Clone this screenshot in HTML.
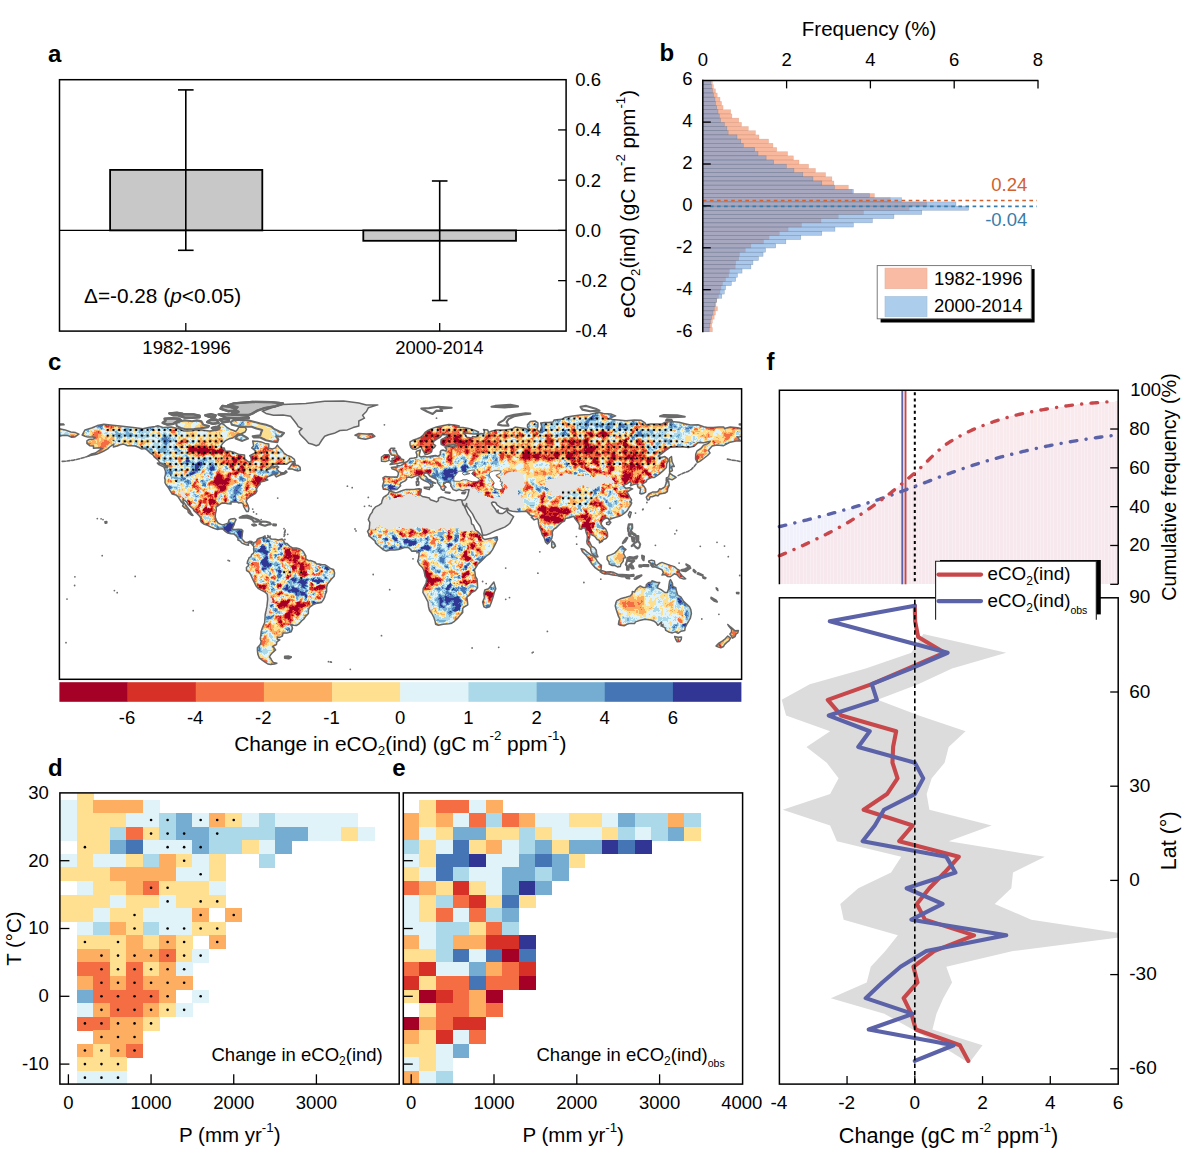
<!DOCTYPE html>
<html><head><meta charset="utf-8"><title>figure</title>
<style>
html,body{margin:0;padding:0;background:#fff;}
svg{display:block;}
text{font-family:"Liberation Sans",sans-serif;}
</style></head><body>
<svg width="1185" height="1153" viewBox="0 0 1185 1153">
<rect x="0" y="0" width="1185" height="1153" fill="#fff"/>
<g id="panel-a">
<text x="48" y="61.5" font-size="24" font-weight="bold">a</text>
<rect x="110.1" y="169.9" width="152.2" height="60.5" fill="#c8c8c8" stroke="#000" stroke-width="1.8"/>
<rect x="363.3" y="230.4" width="152.7" height="10.4" fill="#c8c8c8" stroke="#000" stroke-width="1.8"/>
<line x1="59.5" y1="230.4" x2="566.1" y2="230.4" stroke="#000" stroke-width="1.2"/>
<line x1="185.8" y1="89.9" x2="185.8" y2="250.3" stroke="#000" stroke-width="1.6"/>
<line x1="178" y1="89.9" x2="193.6" y2="89.9" stroke="#000" stroke-width="1.6"/>
<line x1="178" y1="250.3" x2="193.6" y2="250.3" stroke="#000" stroke-width="1.6"/>
<line x1="439.7" y1="181" x2="439.7" y2="300.5" stroke="#000" stroke-width="1.6"/>
<line x1="431.9" y1="181" x2="447.5" y2="181" stroke="#000" stroke-width="1.6"/>
<line x1="431.9" y1="300.5" x2="447.5" y2="300.5" stroke="#000" stroke-width="1.6"/>
<rect x="59.5" y="79.7" width="506.6" height="251.4" fill="none" stroke="#000" stroke-width="1.5"/>
<line x1="185.8" y1="331.1" x2="185.8" y2="323.1" stroke="#000" stroke-width="1.3"/>
<line x1="439.7" y1="331.1" x2="439.7" y2="323.1" stroke="#000" stroke-width="1.3"/>
<text x="575.3" y="86.18" font-size="18.5">0.6</text>
<line x1="566.1" y1="129.92" x2="558.1" y2="129.92" stroke="#000" stroke-width="1.3"/>
<text x="575.3" y="136.42" font-size="18.5">0.4</text>
<line x1="566.1" y1="180.16" x2="558.1" y2="180.16" stroke="#000" stroke-width="1.3"/>
<text x="575.3" y="186.66" font-size="18.5">0.2</text>
<line x1="566.1" y1="230.4" x2="558.1" y2="230.4" stroke="#000" stroke-width="1.3"/>
<text x="575.3" y="236.9" font-size="18.5">0.0</text>
<line x1="566.1" y1="280.64" x2="558.1" y2="280.64" stroke="#000" stroke-width="1.3"/>
<text x="575.3" y="287.14" font-size="18.5">-0.2</text>
<text x="575.3" y="337.38" font-size="18.5">-0.4</text>
<text x="186.6" y="353.8" font-size="18.5" text-anchor="middle">1982-1996</text>
<text x="439.4" y="354.1" font-size="18.5" text-anchor="middle">2000-2014</text>
<text x="84" y="302.8" font-size="20.8">Δ=-0.28 (<tspan font-style="italic">p</tspan>&lt;0.05)</text>
<text x="635.4" y="204" font-size="20.5" text-anchor="middle" transform="rotate(-90 635.4 204)">eCO<tspan font-size="13.3" dy="4.5">2</tspan><tspan dy="-4.5">​</tspan>(ind) (gC m<tspan font-size="13.3" dy="-10.5">-2</tspan><tspan dy="10.5">​</tspan> ppm<tspan font-size="13.3" dy="-10.5">-1</tspan><tspan dy="10.5">​</tspan>)</text>
</g>
<g id="panel-b">
<text x="659.6" y="61" font-size="24" font-weight="bold">b</text>
<g stroke-width="0.5">
<rect x="702.8" y="80.4" width="9.62" height="4.19" fill="#f27e4f" stroke="#b06a50" stroke-width="0.5" fill-opacity="0.55" stroke-opacity="0.3"/>
<rect x="702.8" y="84.59" width="10.63" height="4.19" fill="#f27e4f" stroke="#b06a50" stroke-width="0.5" fill-opacity="0.55" stroke-opacity="0.3"/>
<rect x="702.8" y="88.78" width="12.66" height="4.19" fill="#f27e4f" stroke="#b06a50" stroke-width="0.5" fill-opacity="0.55" stroke-opacity="0.3"/>
<rect x="702.8" y="92.97" width="14.43" height="4.19" fill="#f27e4f" stroke="#b06a50" stroke-width="0.5" fill-opacity="0.55" stroke-opacity="0.3"/>
<rect x="702.8" y="97.16" width="17.22" height="4.19" fill="#f27e4f" stroke="#b06a50" stroke-width="0.5" fill-opacity="0.55" stroke-opacity="0.3"/>
<rect x="702.8" y="101.35" width="18.73" height="4.19" fill="#f27e4f" stroke="#b06a50" stroke-width="0.5" fill-opacity="0.55" stroke-opacity="0.3"/>
<rect x="702.8" y="105.54" width="20.25" height="4.19" fill="#f27e4f" stroke="#b06a50" stroke-width="0.5" fill-opacity="0.55" stroke-opacity="0.3"/>
<rect x="702.8" y="109.73" width="27.85" height="4.19" fill="#f27e4f" stroke="#b06a50" stroke-width="0.5" fill-opacity="0.55" stroke-opacity="0.3"/>
<rect x="702.8" y="113.92" width="29.11" height="4.19" fill="#f27e4f" stroke="#b06a50" stroke-width="0.5" fill-opacity="0.55" stroke-opacity="0.3"/>
<rect x="702.8" y="118.11" width="35.95" height="4.19" fill="#f27e4f" stroke="#b06a50" stroke-width="0.5" fill-opacity="0.55" stroke-opacity="0.3"/>
<rect x="702.8" y="122.3" width="38.73" height="4.19" fill="#f27e4f" stroke="#b06a50" stroke-width="0.5" fill-opacity="0.55" stroke-opacity="0.3"/>
<rect x="702.8" y="126.49" width="45.57" height="4.19" fill="#f27e4f" stroke="#b06a50" stroke-width="0.5" fill-opacity="0.55" stroke-opacity="0.3"/>
<rect x="702.8" y="130.68" width="52.66" height="4.19" fill="#f27e4f" stroke="#b06a50" stroke-width="0.5" fill-opacity="0.55" stroke-opacity="0.3"/>
<rect x="702.8" y="134.87" width="56.2" height="4.19" fill="#f27e4f" stroke="#b06a50" stroke-width="0.5" fill-opacity="0.55" stroke-opacity="0.3"/>
<rect x="702.8" y="139.06" width="65.82" height="4.19" fill="#f27e4f" stroke="#b06a50" stroke-width="0.5" fill-opacity="0.55" stroke-opacity="0.3"/>
<rect x="702.8" y="143.25" width="70.13" height="4.19" fill="#f27e4f" stroke="#b06a50" stroke-width="0.5" fill-opacity="0.55" stroke-opacity="0.3"/>
<rect x="702.8" y="147.44" width="73.92" height="4.19" fill="#f27e4f" stroke="#b06a50" stroke-width="0.5" fill-opacity="0.55" stroke-opacity="0.3"/>
<rect x="702.8" y="151.63" width="84.81" height="4.19" fill="#f27e4f" stroke="#b06a50" stroke-width="0.5" fill-opacity="0.55" stroke-opacity="0.3"/>
<rect x="702.8" y="155.82" width="90.63" height="4.19" fill="#f27e4f" stroke="#b06a50" stroke-width="0.5" fill-opacity="0.55" stroke-opacity="0.3"/>
<rect x="702.8" y="160.01" width="96.2" height="4.19" fill="#f27e4f" stroke="#b06a50" stroke-width="0.5" fill-opacity="0.55" stroke-opacity="0.3"/>
<rect x="702.8" y="164.2" width="105.82" height="4.19" fill="#f27e4f" stroke="#b06a50" stroke-width="0.5" fill-opacity="0.55" stroke-opacity="0.3"/>
<rect x="702.8" y="168.39" width="112.66" height="4.19" fill="#f27e4f" stroke="#b06a50" stroke-width="0.5" fill-opacity="0.55" stroke-opacity="0.3"/>
<rect x="702.8" y="172.58" width="122.78" height="4.19" fill="#f27e4f" stroke="#b06a50" stroke-width="0.5" fill-opacity="0.55" stroke-opacity="0.3"/>
<rect x="702.8" y="176.77" width="129.11" height="4.19" fill="#f27e4f" stroke="#b06a50" stroke-width="0.5" fill-opacity="0.55" stroke-opacity="0.3"/>
<rect x="702.8" y="180.96" width="131.14" height="4.19" fill="#f27e4f" stroke="#b06a50" stroke-width="0.5" fill-opacity="0.55" stroke-opacity="0.3"/>
<rect x="702.8" y="185.15" width="145.57" height="4.19" fill="#f27e4f" stroke="#b06a50" stroke-width="0.5" fill-opacity="0.55" stroke-opacity="0.3"/>
<rect x="702.8" y="189.34" width="149.37" height="4.19" fill="#f27e4f" stroke="#b06a50" stroke-width="0.5" fill-opacity="0.55" stroke-opacity="0.3"/>
<rect x="702.8" y="193.53" width="171.65" height="4.19" fill="#f27e4f" stroke="#b06a50" stroke-width="0.5" fill-opacity="0.55" stroke-opacity="0.3"/>
<rect x="702.8" y="197.72" width="187.34" height="4.19" fill="#f27e4f" stroke="#b06a50" stroke-width="0.5" fill-opacity="0.55" stroke-opacity="0.3"/>
<rect x="702.8" y="201.91" width="224.05" height="4.19" fill="#f27e4f" stroke="#b06a50" stroke-width="0.5" fill-opacity="0.55" stroke-opacity="0.3"/>
<rect x="702.8" y="206.1" width="206.33" height="4.19" fill="#f27e4f" stroke="#b06a50" stroke-width="0.5" fill-opacity="0.55" stroke-opacity="0.3"/>
<rect x="702.8" y="210.29" width="160.76" height="4.19" fill="#f27e4f" stroke="#b06a50" stroke-width="0.5" fill-opacity="0.55" stroke-opacity="0.3"/>
<rect x="702.8" y="214.48" width="135.44" height="4.19" fill="#f27e4f" stroke="#b06a50" stroke-width="0.5" fill-opacity="0.55" stroke-opacity="0.3"/>
<rect x="702.8" y="218.67" width="118.23" height="4.19" fill="#f27e4f" stroke="#b06a50" stroke-width="0.5" fill-opacity="0.55" stroke-opacity="0.3"/>
<rect x="702.8" y="222.86" width="98.73" height="4.19" fill="#f27e4f" stroke="#b06a50" stroke-width="0.5" fill-opacity="0.55" stroke-opacity="0.3"/>
<rect x="702.8" y="227.05" width="85.32" height="4.19" fill="#f27e4f" stroke="#b06a50" stroke-width="0.5" fill-opacity="0.55" stroke-opacity="0.3"/>
<rect x="702.8" y="231.24" width="76.46" height="4.19" fill="#f27e4f" stroke="#b06a50" stroke-width="0.5" fill-opacity="0.55" stroke-opacity="0.3"/>
<rect x="702.8" y="235.43" width="66.33" height="4.19" fill="#f27e4f" stroke="#b06a50" stroke-width="0.5" fill-opacity="0.55" stroke-opacity="0.3"/>
<rect x="702.8" y="239.62" width="60.76" height="4.19" fill="#f27e4f" stroke="#b06a50" stroke-width="0.5" fill-opacity="0.55" stroke-opacity="0.3"/>
<rect x="702.8" y="243.81" width="48.1" height="4.19" fill="#f27e4f" stroke="#b06a50" stroke-width="0.5" fill-opacity="0.55" stroke-opacity="0.3"/>
<rect x="702.8" y="248" width="42.53" height="4.19" fill="#f27e4f" stroke="#b06a50" stroke-width="0.5" fill-opacity="0.55" stroke-opacity="0.3"/>
<rect x="702.8" y="252.19" width="36.71" height="4.19" fill="#f27e4f" stroke="#b06a50" stroke-width="0.5" fill-opacity="0.55" stroke-opacity="0.3"/>
<rect x="702.8" y="256.38" width="35.95" height="4.19" fill="#f27e4f" stroke="#b06a50" stroke-width="0.5" fill-opacity="0.55" stroke-opacity="0.3"/>
<rect x="702.8" y="260.57" width="32.91" height="4.19" fill="#f27e4f" stroke="#b06a50" stroke-width="0.5" fill-opacity="0.55" stroke-opacity="0.3"/>
<rect x="702.8" y="264.76" width="32.41" height="4.19" fill="#f27e4f" stroke="#b06a50" stroke-width="0.5" fill-opacity="0.55" stroke-opacity="0.3"/>
<rect x="702.8" y="268.95" width="26.58" height="4.19" fill="#f27e4f" stroke="#b06a50" stroke-width="0.5" fill-opacity="0.55" stroke-opacity="0.3"/>
<rect x="702.8" y="273.14" width="25.82" height="4.19" fill="#f27e4f" stroke="#b06a50" stroke-width="0.5" fill-opacity="0.55" stroke-opacity="0.3"/>
<rect x="702.8" y="277.33" width="22.78" height="4.19" fill="#f27e4f" stroke="#b06a50" stroke-width="0.5" fill-opacity="0.55" stroke-opacity="0.3"/>
<rect x="702.8" y="281.52" width="19.75" height="4.19" fill="#f27e4f" stroke="#b06a50" stroke-width="0.5" fill-opacity="0.55" stroke-opacity="0.3"/>
<rect x="702.8" y="285.71" width="18.23" height="4.19" fill="#f27e4f" stroke="#b06a50" stroke-width="0.5" fill-opacity="0.55" stroke-opacity="0.3"/>
<rect x="702.8" y="289.9" width="17.22" height="4.19" fill="#f27e4f" stroke="#b06a50" stroke-width="0.5" fill-opacity="0.55" stroke-opacity="0.3"/>
<rect x="702.8" y="294.09" width="15.7" height="4.19" fill="#f27e4f" stroke="#b06a50" stroke-width="0.5" fill-opacity="0.55" stroke-opacity="0.3"/>
<rect x="702.8" y="298.28" width="13.92" height="4.19" fill="#f27e4f" stroke="#b06a50" stroke-width="0.5" fill-opacity="0.55" stroke-opacity="0.3"/>
<rect x="702.8" y="302.47" width="13.16" height="4.19" fill="#f27e4f" stroke="#b06a50" stroke-width="0.5" fill-opacity="0.55" stroke-opacity="0.3"/>
<rect x="702.8" y="306.66" width="14.68" height="4.19" fill="#f27e4f" stroke="#b06a50" stroke-width="0.5" fill-opacity="0.55" stroke-opacity="0.3"/>
<rect x="702.8" y="310.85" width="12.66" height="4.19" fill="#f27e4f" stroke="#b06a50" stroke-width="0.5" fill-opacity="0.55" stroke-opacity="0.3"/>
<rect x="702.8" y="315.04" width="11.39" height="4.19" fill="#f27e4f" stroke="#b06a50" stroke-width="0.5" fill-opacity="0.55" stroke-opacity="0.3"/>
<rect x="702.8" y="319.23" width="9.62" height="4.19" fill="#f27e4f" stroke="#b06a50" stroke-width="0.5" fill-opacity="0.55" stroke-opacity="0.3"/>
<rect x="702.8" y="323.42" width="8.86" height="4.19" fill="#f27e4f" stroke="#b06a50" stroke-width="0.5" fill-opacity="0.55" stroke-opacity="0.3"/>
<rect x="702.8" y="327.61" width="9.62" height="4.19" fill="#f27e4f" stroke="#b06a50" stroke-width="0.5" fill-opacity="0.55" stroke-opacity="0.3"/>
<rect x="702.8" y="80.4" width="8.1" height="4.19" fill="#649bdb" stroke="#566a88" stroke-width="0.5" fill-opacity="0.55" stroke-opacity="0.45"/>
<rect x="702.8" y="84.59" width="8.61" height="4.19" fill="#649bdb" stroke="#566a88" stroke-width="0.5" fill-opacity="0.55" stroke-opacity="0.45"/>
<rect x="702.8" y="88.78" width="9.62" height="4.19" fill="#649bdb" stroke="#566a88" stroke-width="0.5" fill-opacity="0.55" stroke-opacity="0.45"/>
<rect x="702.8" y="92.97" width="10.63" height="4.19" fill="#649bdb" stroke="#566a88" stroke-width="0.5" fill-opacity="0.55" stroke-opacity="0.45"/>
<rect x="702.8" y="97.16" width="12.15" height="4.19" fill="#649bdb" stroke="#566a88" stroke-width="0.5" fill-opacity="0.55" stroke-opacity="0.45"/>
<rect x="702.8" y="101.35" width="12.66" height="4.19" fill="#649bdb" stroke="#566a88" stroke-width="0.5" fill-opacity="0.55" stroke-opacity="0.45"/>
<rect x="702.8" y="105.54" width="13.92" height="4.19" fill="#649bdb" stroke="#566a88" stroke-width="0.5" fill-opacity="0.55" stroke-opacity="0.45"/>
<rect x="702.8" y="109.73" width="15.19" height="4.19" fill="#649bdb" stroke="#566a88" stroke-width="0.5" fill-opacity="0.55" stroke-opacity="0.45"/>
<rect x="702.8" y="113.92" width="16.46" height="4.19" fill="#649bdb" stroke="#566a88" stroke-width="0.5" fill-opacity="0.55" stroke-opacity="0.45"/>
<rect x="702.8" y="118.11" width="17.72" height="4.19" fill="#649bdb" stroke="#566a88" stroke-width="0.5" fill-opacity="0.55" stroke-opacity="0.45"/>
<rect x="702.8" y="122.3" width="21.52" height="4.19" fill="#649bdb" stroke="#566a88" stroke-width="0.5" fill-opacity="0.55" stroke-opacity="0.45"/>
<rect x="702.8" y="126.49" width="24.05" height="4.19" fill="#649bdb" stroke="#566a88" stroke-width="0.5" fill-opacity="0.55" stroke-opacity="0.45"/>
<rect x="702.8" y="130.68" width="25.32" height="4.19" fill="#649bdb" stroke="#566a88" stroke-width="0.5" fill-opacity="0.55" stroke-opacity="0.45"/>
<rect x="702.8" y="134.87" width="34.18" height="4.19" fill="#649bdb" stroke="#566a88" stroke-width="0.5" fill-opacity="0.55" stroke-opacity="0.45"/>
<rect x="702.8" y="139.06" width="37.97" height="4.19" fill="#649bdb" stroke="#566a88" stroke-width="0.5" fill-opacity="0.55" stroke-opacity="0.45"/>
<rect x="702.8" y="143.25" width="40.51" height="4.19" fill="#649bdb" stroke="#566a88" stroke-width="0.5" fill-opacity="0.55" stroke-opacity="0.45"/>
<rect x="702.8" y="147.44" width="51.9" height="4.19" fill="#649bdb" stroke="#566a88" stroke-width="0.5" fill-opacity="0.55" stroke-opacity="0.45"/>
<rect x="702.8" y="151.63" width="55.19" height="4.19" fill="#649bdb" stroke="#566a88" stroke-width="0.5" fill-opacity="0.55" stroke-opacity="0.45"/>
<rect x="702.8" y="155.82" width="63.29" height="4.19" fill="#649bdb" stroke="#566a88" stroke-width="0.5" fill-opacity="0.55" stroke-opacity="0.45"/>
<rect x="702.8" y="160.01" width="70.89" height="4.19" fill="#649bdb" stroke="#566a88" stroke-width="0.5" fill-opacity="0.55" stroke-opacity="0.45"/>
<rect x="702.8" y="164.2" width="83.54" height="4.19" fill="#649bdb" stroke="#566a88" stroke-width="0.5" fill-opacity="0.55" stroke-opacity="0.45"/>
<rect x="702.8" y="168.39" width="91.14" height="4.19" fill="#649bdb" stroke="#566a88" stroke-width="0.5" fill-opacity="0.55" stroke-opacity="0.45"/>
<rect x="702.8" y="172.58" width="100" height="4.19" fill="#649bdb" stroke="#566a88" stroke-width="0.5" fill-opacity="0.55" stroke-opacity="0.45"/>
<rect x="702.8" y="176.77" width="110.13" height="4.19" fill="#649bdb" stroke="#566a88" stroke-width="0.5" fill-opacity="0.55" stroke-opacity="0.45"/>
<rect x="702.8" y="180.96" width="118.99" height="4.19" fill="#649bdb" stroke="#566a88" stroke-width="0.5" fill-opacity="0.55" stroke-opacity="0.45"/>
<rect x="702.8" y="185.15" width="131.65" height="4.19" fill="#649bdb" stroke="#566a88" stroke-width="0.5" fill-opacity="0.55" stroke-opacity="0.45"/>
<rect x="702.8" y="189.34" width="150.63" height="4.19" fill="#649bdb" stroke="#566a88" stroke-width="0.5" fill-opacity="0.55" stroke-opacity="0.45"/>
<rect x="702.8" y="193.53" width="166.58" height="4.19" fill="#649bdb" stroke="#566a88" stroke-width="0.5" fill-opacity="0.55" stroke-opacity="0.45"/>
<rect x="702.8" y="197.72" width="198.73" height="4.19" fill="#649bdb" stroke="#566a88" stroke-width="0.5" fill-opacity="0.55" stroke-opacity="0.45"/>
<rect x="702.8" y="201.91" width="253.16" height="4.19" fill="#649bdb" stroke="#566a88" stroke-width="0.5" fill-opacity="0.55" stroke-opacity="0.45"/>
<rect x="702.8" y="206.1" width="265.82" height="4.19" fill="#649bdb" stroke="#566a88" stroke-width="0.5" fill-opacity="0.55" stroke-opacity="0.45"/>
<rect x="702.8" y="210.29" width="218.99" height="4.19" fill="#649bdb" stroke="#566a88" stroke-width="0.5" fill-opacity="0.55" stroke-opacity="0.45"/>
<rect x="702.8" y="214.48" width="191.14" height="4.19" fill="#649bdb" stroke="#566a88" stroke-width="0.5" fill-opacity="0.55" stroke-opacity="0.45"/>
<rect x="702.8" y="218.67" width="169.62" height="4.19" fill="#649bdb" stroke="#566a88" stroke-width="0.5" fill-opacity="0.55" stroke-opacity="0.45"/>
<rect x="702.8" y="222.86" width="150.63" height="4.19" fill="#649bdb" stroke="#566a88" stroke-width="0.5" fill-opacity="0.55" stroke-opacity="0.45"/>
<rect x="702.8" y="227.05" width="132.15" height="4.19" fill="#649bdb" stroke="#566a88" stroke-width="0.5" fill-opacity="0.55" stroke-opacity="0.45"/>
<rect x="702.8" y="231.24" width="118.99" height="4.19" fill="#649bdb" stroke="#566a88" stroke-width="0.5" fill-opacity="0.55" stroke-opacity="0.45"/>
<rect x="702.8" y="235.43" width="97.97" height="4.19" fill="#649bdb" stroke="#566a88" stroke-width="0.5" fill-opacity="0.55" stroke-opacity="0.45"/>
<rect x="702.8" y="239.62" width="83.04" height="4.19" fill="#649bdb" stroke="#566a88" stroke-width="0.5" fill-opacity="0.55" stroke-opacity="0.45"/>
<rect x="702.8" y="243.81" width="72.91" height="4.19" fill="#649bdb" stroke="#566a88" stroke-width="0.5" fill-opacity="0.55" stroke-opacity="0.45"/>
<rect x="702.8" y="248" width="62.78" height="4.19" fill="#649bdb" stroke="#566a88" stroke-width="0.5" fill-opacity="0.55" stroke-opacity="0.45"/>
<rect x="702.8" y="252.19" width="60.25" height="4.19" fill="#649bdb" stroke="#566a88" stroke-width="0.5" fill-opacity="0.55" stroke-opacity="0.45"/>
<rect x="702.8" y="256.38" width="55.7" height="4.19" fill="#649bdb" stroke="#566a88" stroke-width="0.5" fill-opacity="0.55" stroke-opacity="0.45"/>
<rect x="702.8" y="260.57" width="50.13" height="4.19" fill="#649bdb" stroke="#566a88" stroke-width="0.5" fill-opacity="0.55" stroke-opacity="0.45"/>
<rect x="702.8" y="264.76" width="48.1" height="4.19" fill="#649bdb" stroke="#566a88" stroke-width="0.5" fill-opacity="0.55" stroke-opacity="0.45"/>
<rect x="702.8" y="268.95" width="39.24" height="4.19" fill="#649bdb" stroke="#566a88" stroke-width="0.5" fill-opacity="0.55" stroke-opacity="0.45"/>
<rect x="702.8" y="273.14" width="34.68" height="4.19" fill="#649bdb" stroke="#566a88" stroke-width="0.5" fill-opacity="0.55" stroke-opacity="0.45"/>
<rect x="702.8" y="277.33" width="32.91" height="4.19" fill="#649bdb" stroke="#566a88" stroke-width="0.5" fill-opacity="0.55" stroke-opacity="0.45"/>
<rect x="702.8" y="281.52" width="28.61" height="4.19" fill="#649bdb" stroke="#566a88" stroke-width="0.5" fill-opacity="0.55" stroke-opacity="0.45"/>
<rect x="702.8" y="285.71" width="22.78" height="4.19" fill="#649bdb" stroke="#566a88" stroke-width="0.5" fill-opacity="0.55" stroke-opacity="0.45"/>
<rect x="702.8" y="289.9" width="21.52" height="4.19" fill="#649bdb" stroke="#566a88" stroke-width="0.5" fill-opacity="0.55" stroke-opacity="0.45"/>
<rect x="702.8" y="294.09" width="18.99" height="4.19" fill="#649bdb" stroke="#566a88" stroke-width="0.5" fill-opacity="0.55" stroke-opacity="0.45"/>
<rect x="702.8" y="298.28" width="13.92" height="4.19" fill="#649bdb" stroke="#566a88" stroke-width="0.5" fill-opacity="0.55" stroke-opacity="0.45"/>
<rect x="702.8" y="302.47" width="12.15" height="4.19" fill="#649bdb" stroke="#566a88" stroke-width="0.5" fill-opacity="0.55" stroke-opacity="0.45"/>
<rect x="702.8" y="306.66" width="11.39" height="4.19" fill="#649bdb" stroke="#566a88" stroke-width="0.5" fill-opacity="0.55" stroke-opacity="0.45"/>
<rect x="702.8" y="310.85" width="10.13" height="4.19" fill="#649bdb" stroke="#566a88" stroke-width="0.5" fill-opacity="0.55" stroke-opacity="0.45"/>
<rect x="702.8" y="315.04" width="8.86" height="4.19" fill="#649bdb" stroke="#566a88" stroke-width="0.5" fill-opacity="0.55" stroke-opacity="0.45"/>
<rect x="702.8" y="319.23" width="7.59" height="4.19" fill="#649bdb" stroke="#566a88" stroke-width="0.5" fill-opacity="0.55" stroke-opacity="0.45"/>
<rect x="702.8" y="323.42" width="7.09" height="4.19" fill="#649bdb" stroke="#566a88" stroke-width="0.5" fill-opacity="0.55" stroke-opacity="0.45"/>
<rect x="702.8" y="327.61" width="6.33" height="4.19" fill="#649bdb" stroke="#566a88" stroke-width="0.5" fill-opacity="0.55" stroke-opacity="0.45"/>
</g>
<line x1="702.8" y1="200.5" x2="1037" y2="200.5" stroke="#d2612d" stroke-width="1.6" stroke-dasharray="3.6 3.5"/>
<line x1="702.8" y1="206.4" x2="1037" y2="206.4" stroke="#3a7ca8" stroke-width="1.6" stroke-dasharray="3.6 3.5"/>
<text x="1027.3" y="191.4" font-size="18.5" text-anchor="end" fill="#d2612d">0.24</text>
<text x="1027.3" y="226.3" font-size="18.5" text-anchor="end" fill="#3a7ca8">-0.04</text>
<line x1="702.8" y1="79.65" x2="702.8" y2="332.35" stroke="#000" stroke-width="1.5"/>
<line x1="702.05" y1="80.4" x2="1038.4" y2="80.4" stroke="#000" stroke-width="1.5"/>
<text x="702.8" y="65.8" font-size="18.5" text-anchor="middle">0</text>
<line x1="786.6" y1="80.4" x2="786.6" y2="88.4" stroke="#000" stroke-width="1.3"/>
<text x="786.6" y="65.8" font-size="18.5" text-anchor="middle">2</text>
<line x1="870.4" y1="80.4" x2="870.4" y2="88.4" stroke="#000" stroke-width="1.3"/>
<text x="870.4" y="65.8" font-size="18.5" text-anchor="middle">4</text>
<line x1="954.2" y1="80.4" x2="954.2" y2="88.4" stroke="#000" stroke-width="1.3"/>
<text x="954.2" y="65.8" font-size="18.5" text-anchor="middle">6</text>
<line x1="1038" y1="80.4" x2="1038" y2="88.4" stroke="#000" stroke-width="1.3"/>
<text x="1038" y="65.8" font-size="18.5" text-anchor="middle">8</text>
<text x="692.5" y="85.4" font-size="18.5" text-anchor="end">6</text>
<line x1="702.8" y1="122.1" x2="710.8" y2="122.1" stroke="#000" stroke-width="1.3"/>
<text x="692.5" y="127.3" font-size="18.5" text-anchor="end">4</text>
<line x1="702.8" y1="164" x2="710.8" y2="164" stroke="#000" stroke-width="1.3"/>
<text x="692.5" y="169.2" font-size="18.5" text-anchor="end">2</text>
<line x1="702.8" y1="205.9" x2="710.8" y2="205.9" stroke="#000" stroke-width="1.3"/>
<text x="692.5" y="211.1" font-size="18.5" text-anchor="end">0</text>
<line x1="702.8" y1="247.8" x2="710.8" y2="247.8" stroke="#000" stroke-width="1.3"/>
<text x="692.5" y="253" font-size="18.5" text-anchor="end">-2</text>
<line x1="702.8" y1="289.7" x2="710.8" y2="289.7" stroke="#000" stroke-width="1.3"/>
<text x="692.5" y="294.9" font-size="18.5" text-anchor="end">-4</text>
<text x="692.5" y="336.8" font-size="18.5" text-anchor="end">-6</text>
<text x="869" y="35.6" font-size="20.5" text-anchor="middle">Frequency (%)</text>
<rect x="880.6" y="269" width="154" height="53.5" fill="#000"/>
<rect x="877.2" y="265.6" width="154.1" height="53.2" fill="#fff" stroke="#6e6e6e" stroke-width="0.9"/>
<rect x="885" y="268.1" width="42" height="20.6" fill="#f9bba3" stroke="#e9b09c" stroke-width="0.6"/>
<rect x="885" y="296.5" width="42" height="20.3" fill="#adcdec" stroke="#9fbcd8" stroke-width="0.6"/>
<text x="934" y="285" font-size="18.5">1982-1996</text>
<text x="934" y="312.4" font-size="18.5">2000-2014</text>
</g>
<g id="panel-c">
<text x="48" y="369.7" font-size="24" font-weight="bold">c</text>
<defs>
<clipPath id="mframe"><rect x="59.4" y="388.8" width="682.2" height="290.5"/></clipPath>
<clipPath id="dland"><path d="M82.1 435L85 429.9L91.6 428L97.3 425.6L103.9 424.2L112.5 425.2L120 426.1L133.3 427.5L142.8 428.8L148.5 427.6L155.1 426.5L157.9 425.8L163.6 427.6L171.2 427.1L178.8 428.8L183.5 430.9L192.1 430.7L195.8 429.7L201.5 430.1L209.1 431.1L214.8 430.5L217.6 429.9L219.5 427.6L218 425.8L221.4 423.1L224.6 425.2L227.1 427.5L230 429.2L233.7 430.5L235.6 431.6L237.5 429.4L238.9 427.3L245.1 427.1L246.4 429.4L245.1 432L241.3 433.7L237.5 434.3L235.6 436.2L232.8 437.9L229 438.8L225.2 440.9L222.4 443.8L221.2 445.7L222 447.9L224.3 448.1L225.2 451.1L230 451.3L233.7 452.3L239.4 454.6L244.5 454.9L244.7 458.9L247 460.8L248.9 462.1L250.8 461.8L251.4 459.9L250.8 457L249.8 455.7L254.6 453.2L255.5 450.8L251.7 447.9L253.6 445.7L252.7 441.1L257.4 441.3L261.2 441.9L265 443.4L268.8 443.9L268.8 446.6L267.8 447.9L272.6 448.9L275.4 447.9L277.3 445.1L279.2 447.5L282.1 450.4L284 453.2L286.8 455.1L291.5 457L294.4 459.3L294.9 461.6L289.6 462.1L286.8 464.2L281.1 464L274.5 464.2L270.7 466.5L267.8 469.1L266 470.7L268.8 469L271.6 467.3L277.3 466.1L278.7 467.1L276.4 468.8L277.9 470.3L279.2 471.8L281.1 472.4L284 472.7L285.9 470.7L287 472.2L284.9 473.7L280.2 475L276.4 476.9L275.1 475.4L277.7 473.5L274.5 473.9L273.5 474.6L269.7 476L267.3 476.9L266.3 478.8L267.8 480.1L265 480.9L261.2 481.8L260.3 482.6L259.9 484.5L258.4 485.8L257.2 487.5L256.5 489.2L256.9 491.1L255.5 493.4L252.7 495.1L249.8 496.8L247 499.1L246.2 501.6L248 505.3L248.9 508.6L248.3 511.4L246.6 511.6L245.1 509.1L243.6 506.3L243.2 504L241.3 502.5L238.5 502.9L236.6 501.7L233.7 501.9L230.9 502.1L231.1 504L228.1 503.8L224.3 503.1L221 503.6L218.6 505.3L216.1 507.2L216.3 510.1L215.4 513.9L215.2 517.1L216.3 520.1L218 522.8L220.5 524.1L222.4 524.9L225.2 524.1L228.1 523.3L229 519.9L230.9 519L234.7 518.6L236 519.6L234.7 522.4L234.1 524.9L233.2 526.2L232.2 529L233.2 529.6L235.6 529.4L238.5 529.2L241.3 529.4L242.8 530.9L242.3 533.8L242.1 536.2L241.7 538.5L243.2 540.4L244.7 541.9L247 542.7L249.5 541.3L251.7 541.5L253.8 542.9L252.9 545.5L251.7 544L249.8 542.5L248.3 543.8L248.5 545.3L246.1 544.8L243.6 543.8L241.9 543.1L239.8 540.8L237.9 540L237.9 538.1L235.3 535.1L234.1 534.1L230.9 533.8L227.5 533L225.6 531.7L222.4 528.8L219.9 529L217.6 529.6L213.8 528.3L211 527.1L207.6 525.4L204.4 524.3L201.5 522.4L200.4 520.5L201 518.6L199.6 516.1L196.8 513.3L193.9 510.8L193 508.8L191.1 507.2L188.3 504.8L186.4 501.6L183 499.3L183.1 501.6L185.4 504.4L187.3 507.2L189.6 510.1L191.1 512.9L193 515.4L191.5 515.2L188.3 512.4L187.7 509.7L184.5 507.8L182.6 505.9L183.5 504L181.1 501.6L179.2 498.7L178.2 496.8L175.9 494.9L172.2 494L169.7 490.2L168.4 487.7L165.9 484.5L165 482.6L165.1 479.8L164.6 477.9L165.5 474.1L165.5 471.2L164.2 467.8L167.4 467.8L167.8 466.5L164.6 464.6L159.8 462.7L157.9 459.9L154.2 457L153.2 455.1L150.4 453.2L147.5 450.4L144.7 448.5L141.8 449.1L139 447.5L135.2 446L131.4 445.7L127.6 445.7L123.8 444.1L120 444.7L117.2 446L113.4 447L113.8 444.1L109.6 447L107.7 448.9L103.9 451L100.1 452.9L96.4 454.2L92.6 455.1L88.2 455.9L91.6 454L95.4 453L99.2 450.4L102 448.5L100.1 447.9L96.4 447.9L93.5 448.3L93.5 446L89.7 445.7L86.9 443.4L86.9 440.9L88.8 439.6L93.5 439L95.4 437.5L92.6 437.1L87.8 437.1L85 436.2ZM277.3 442.2L271.6 441.5L266 440.3L260.3 437.5L253.6 437.5L252.7 436.2L260.3 435.2L261.2 432.4L262.2 430.1L256.5 428.6L251.7 426.7L245.1 426.7L237.5 426.1L231.8 424.8L230.9 422L233.7 419.9L239.4 419.7L247 420.1L252.7 421.4L260.3 423.5L266 424.8L271.6 426.7L273.5 428.6L279.2 431.4L284 433L281.1 436.2L276.4 436.7L278.3 439.4ZM176.9 426.1L180.7 428L185.4 429.2L193.9 429L200.6 428.4L208.2 427.1L209.1 426.1L203.4 424.8L201.5 421.4L196.8 420.4L192.1 421.2L184.5 420.3L179.7 421.4L175.9 422.9ZM248 438.6L242.3 440.9L235.6 438.4L237.5 435.6L241.3 434.5L246.1 437.1ZM288.1 469.1L289.6 467.4L291.5 464.6L294.4 461.8L295.3 463.7L294.4 465L298.2 465.5L300.1 467.4L300.4 470.3L298.2 470.9L295.3 470.3L292.5 469.1ZM166.5 467.6L163.6 466.9L158.9 464.6L157.4 463.1L161.7 463.8L164.6 465.5ZM355 435.2L358.8 433.5L366.4 433.9L372.1 433.7L374.9 436.2L372.1 437.5L365.4 439.2L360.7 438.4L357.9 437.7L358.8 436.2ZM253.8 542.9L256.5 541.3L257.4 539.1L259.3 538.3L262.2 537.6L265 535.9L265.4 538.5L267.8 537.6L268.4 536.4L271.1 538.9L275.4 539.3L278.3 540L282.1 539.1L283.4 540.4L284.9 543.2L286.8 543.4L289.6 546.1L292.5 548L296.3 548L299.1 548.7L302 550.3L303.5 551.8L305.8 555.9L305.8 558.8L308.6 560.7L310.5 560.5L315.2 562.2L316.6 564.1L319 563.9L321.9 564.8L324.7 564.7L327.5 566.4L330.4 568.6L333.6 569.4L334.6 573L334.2 576.2L331.3 579.2L329.4 581.7L327.5 584L326.6 587.4L326.6 591.6L325.3 594.4L324.7 597.2L323.2 600.1L321.3 602.6L319 602.9L315.8 603.5L312.8 604.8L309.5 607.3L308.4 610.1L308.4 613.4L305.8 616.2L303.9 619L301.6 620.9L299.1 623.8L296.3 625.5L293.4 625.3L290 624L292.1 626.6L292.5 628.5L291.2 631.7L286.8 633.1L283 633.1L282.4 636.1L279.6 637.4L277.3 636.9L277.3 639.3L279.8 639.9L276.9 641.8L276.4 644.6L272.6 646.5L274.5 648.4L275.6 649.9L272.6 652.6L270.7 654.7L269.4 657.1L270.9 658.6L271.3 659.8L273.5 662.6L276.9 663.2L274.5 664L270.7 664.5L267.8 664L265 662.1L262.2 660.2L259.3 657.9L257.8 654.1L257.4 650.3L257.4 647.8L260.3 644.6L261.2 641.8L260.3 638.9L260.8 635.1L261.2 631.4L261.8 629.5L262.9 626.6L264.6 622.8L265 618.1L265.2 614.3L266.1 610.5L266.9 606.7L267.3 602.9L267.7 599.1L267.3 594.2L265 592.1L261.2 590.2L258 588.3L255.9 585.7L254.2 582.1L252.3 578.3L250.8 574.9L249.1 572.2L246.6 570.7L246.4 567.5L248.3 565.8L248.9 564.1L247.2 563.5L247.6 561.2L248.7 559L248.9 557.8L251 556.7L251.6 554.6L253.4 553.3L254 551.8L253.6 548.9L253.8 546.5L252.9 545.5ZM389.3 491.5L390.5 491.3L394.8 492.5L396.7 492.8L400.5 491.3L403.3 490.2L406.2 489.4L410 489.6L414.7 489.2L419.1 488.7L421.3 489.2L421 492.1L419.8 494.4L421 495.5L422.3 496.4L425.1 497L429.3 498L430.3 499.7L433.7 500.8L436.5 501.9L438.4 500.6L438.4 498.3L441.2 497L444.1 497.6L447.9 499.1L451.7 500L455.5 500.8L458.3 499.7L461.1 499.8L462.1 500.4L462.3 502.5L464 505.7L465.7 509.1L467.8 513.9L470.4 517.7L471.2 520.5L471.6 523.9L473.6 525.2L475.4 530L478.2 531.9L481 535.1L482.6 537L482.4 537.9L484.8 539.5L488.6 538.7L492.4 537.9L497.1 536.8L497.5 539.5L496.2 542.3L494.3 546.1L492.4 549.9L489.6 553.7L485.8 556.5L482.9 559.4L480.1 562.2L477.8 564.1L476.3 566.9L474.4 569.8L475 572.6L475.4 576.4L477.1 579.2L477.4 583L477.6 587.8L475.4 590.6L471.6 592.5L469.7 595L466.8 597.2L467.4 601L467.8 604.8L464 607.1L462.7 608.6L462.7 612.4L460.2 615.3L457.9 618.1L454.5 621.3L451.7 623.2L448.8 623.8L443.1 624.2L438.4 625.3L435.6 624.2L435 620.9L433.7 617.1L431.8 613.5L429.5 610.5L428.5 606.7L428 602L425.5 597.2L422.9 592.5L423.2 588.7L426.1 583L426.7 579.2L425.1 576.4L424.2 571.7L423.6 569.8L422.3 567.5L419.4 564.7L417.6 561.2L418.5 558.4L418.9 555.6L419.1 553.3L417.6 551.4L414.7 551L411.9 551.2L410 548.9L408.1 547.4L405.2 547.4L402.4 548.2L398.6 549.5L394.8 549.9L391 549.7L386.3 551L383.4 549.9L380 547L377.8 545.1L375.5 542.9L374.9 540.8L372.5 538.9L371.1 537.6L368.9 535.9L368.7 533.8L367.5 531.5L369.2 529L369.6 525.2L369.8 522.4L368.3 519.6L370.2 514.8L372.1 512.4L373 509.7L375.5 506.9L378.7 505.3L381.5 503.4L382.1 500.6L383.4 497.4L386.3 495.5L388.2 494ZM493.9 582.1L495.8 588.7L494.5 591.6L493 597.2L491.1 602.9L489.6 606.7L486.3 607.7L483.9 606.7L482.6 602L484.4 597.8L483.9 593.5L484.8 590L488.6 588.7L491.5 584.9ZM389.9 491.1L388.2 489.6L383.4 489.2L382.5 486L383.8 481.7L382.9 477.9L385.3 476.5L390.1 476.9L393.9 477.1L397.1 477.1L398.2 474.8L398.4 472.6L396.3 470.3L392 468.8L391.4 467.4L394.8 466.9L397.5 467.1L397.1 465.2L398.6 465.7L400.9 465.5L403.3 464.2L403.9 462.7L407.1 461.8L409 459.9L410 458.5L413.8 458L416.6 457.4L417 455.1L416 452.3L416.6 451.1L420.4 450L420 452.3L419.4 454.2L419.4 456.1L421.3 457L424.2 456.3L427 457L431.8 456.1L435.6 455.5L437.8 456.3L440.3 454.7L440.3 451.7L441.2 450.4L443.1 450L446 451.1L446.5 448.9L445 447.2L448.8 446.6L453.6 446.4L457.3 445.8L454.5 444.5L449.8 444.9L444.1 445.8L441.2 444.3L440.9 441.9L441.2 439.6L444.1 438.1L447.9 435.8L446 434.7L442.2 434.8L440.3 437.1L436.5 439.4L433.7 441.3L433.1 443.8L435.6 445.7L434.6 447.2L432.1 449.1L431.6 451.9L429.9 453L427.6 454.2L425.1 454.4L424.2 452.7L422.3 449.4L421.3 447.5L420.4 446.6L418.5 447.9L415.7 449.3L412.8 449.1L410.9 447.5L410 444.7L410 441.9L412.8 440.3L416.6 439L420.4 437.5L423.2 435.2L425.1 432.4L428 430.5L431.8 428.6L436.5 426.9L442.2 425.8L448.8 424.6L454.5 425L459.2 426.1L457.3 427.3L463 427.6L468.7 428.4L474.4 430.1L478.6 432L478.2 433.7L473.5 434.1L466.8 433.3L463 433.1L465.9 435.2L466.8 437.3L471.6 438.1L472.5 436.6L476.3 436.9L477.2 434.7L481 433.5L483.9 433.9L484.4 431.4L483.5 429.5L487.7 429.9L488.6 432.4L491.5 431.2L495.2 430.1L500.9 429.9L503.8 430.1L508.5 429.4L512.3 428.8L515.1 427.1L521.8 428L525.6 428.6L527.5 429.5L530.3 429.9L527.5 427.3L527.5 424.8L530.3 421.6L535 421L537.9 422.9L537.9 426.7L536.9 429.5L539.8 432.4L540.7 429.5L541.7 426.7L540.7 422.9L544.5 422.5L548.3 422.5L553 422L554 420.1L561.6 419.3L565.4 417.2L572.9 415.9L580.5 415.1L590 414.4L598.1 412.1L603.3 413.4L610.8 414L615.6 415.9L608.9 418.6L612.7 419.5L618.4 419.9L626 420.8L634.5 420.1L641.2 420.3L645 422.9L645.9 424.8L650.6 423.9L656.3 423.9L662 423.9L665.8 422L671.5 421.6L679.1 422.3L684.8 423.7L690.4 425L698 424.8L703.7 426.7L707.5 427.5L713.2 427.6L718.9 426.9L723.6 426.9L724.5 428.6L730.2 427.1L737.8 427.8L741.6 428.8L741.6 436.2L738.8 437.1L736.9 436.7L740.7 440.9L735.9 440.9L730.2 442.2L723.6 445.7L717 445.1L712.2 446L710 448.5L708.4 450.4L710 452.9L707.5 455.5L703.7 458.5L700.5 460.8L697.4 462.7L695.6 458.9L695.7 454.2L697.1 450.8L700.9 448.5L703.7 445.1L708.4 443.4L710.3 441.3L703.7 442.8L698 442.6L694.2 446.2L688.5 447.5L681.9 446.8L675.3 447L670.5 447.2L665.8 450.4L661.1 454.2L658.2 456.1L661.1 457.4L664.9 456.6L667.7 458.5L668.3 460.8L666.7 463.7L666.4 467.4L663 470.9L659.2 474.1L654.4 477.5L651.6 477.5L648.7 478.8L646.9 479.8L646.3 481.7L643.1 483.6L642.1 484.9L644 486.4L645.7 489.2L645.7 492.1L644 493.2L641.2 494L639.8 493.4L640.2 490.8L640.6 488.9L638.3 487.7L637.4 485.8L637.9 484.3L636 483.7L632.6 484.9L630.4 485.8L631.3 483.2L629.8 481.8L627 483.9L624.1 485.1L623.5 486.4L626 488.3L629.4 487.7L632.6 488.9L629.8 490.2L627 492.5L628.5 494.5L629.8 497.2L631.5 499.7L631.3 501L629.8 501.9L631.7 502.9L630.7 505.3L628.8 507.8L627.3 510.5L625.1 512.7L622.2 514.8L619.4 516.3L616.5 517.1L612.7 518.2L609.9 519.2L609.5 520.9L608.4 518.6L606.1 518.2L603.3 519.6L601.4 522.4L601 524.3L602.9 526.8L605.7 529L607.4 532.8L607.6 536.6L606.1 538.5L603.3 539.6L602.3 541.3L599.5 542.9L599.3 540.4L597.2 539.5L595.3 537L593.8 535.7L591.9 535.1L591.5 533.8L590 534.1L589.6 537.6L588.5 540.4L589.6 541.9L590.6 544.2L591.9 546.5L594.4 547.6L596.3 550.3L596.6 553.7L598 556.7L596.6 556.9L593.8 555L591.9 553.3L590.9 550.8L590.6 548L589.1 546.1L587.2 543.8L586.8 541.3L587.3 538.5L587.3 535.7L586.2 532.8L585.6 530L585.3 528.1L583.4 527.7L581.1 529.4L579.2 528.7L579.6 525.6L578.6 523.3L576.4 520.5L574.8 518.6L573.9 516.3L572 516.7L569.2 517.8L565.4 518.6L564.4 521.1L561.6 522.4L558.7 525.2L556.5 527.5L553.6 529.4L552.3 531.9L552.5 535.1L551.7 538.5L550.8 540L549.3 542.3L547.4 544L545.5 541.9L544.1 537.6L542.2 534.7L541.1 530.9L539.4 527.1L538.5 523.3L538.3 519.9L537.5 518.6L534.1 519.9L531.3 517.1L533.1 516.1L530.3 515.2L528 512.9L526.5 511.2L521.8 511.6L517 511.8L512.3 511.2L509.1 510.5L507.6 508.2L503.8 508.9L500 507.2L497.1 505L495.6 502.5L493 501.9L491.5 502.9L492.4 505.3L494.3 507.6L495.6 509.5L496.8 512L498.1 510.1L498.1 512.7L500 513.5L502.8 513.5L505.7 511.4L507.2 509.5L507.6 512.4L510.4 514.4L513.6 516.7L511.7 519.9L509.8 523.3L507.6 525.2L504.7 527.1L500 529L495.2 530.9L490.5 533.2L485.8 535.1L482.9 535.3L482 532.8L481.4 530L480.1 526.2L477.2 522.4L474.8 518.6L472.5 513.9L469.7 510.1L466.8 506.3L466.6 503.4L465.5 506.7L463 504.8L462.3 502.5L461.7 500.2L464.9 500L466.4 498.1L467.8 495.3L468.5 492.1L469.1 489.8L465.9 489.8L463 490.9L459.2 489.6L456.4 490.8L453.2 489.6L452 487.7L450.7 485.8L451.1 484.5L450.1 483.2L449.8 482.4L446 482L445 483.2L443.7 482.8L443.7 484.9L446 487.3L444.1 488.3L444.5 490.2L442.8 490.2L441.2 488.9L440.7 486.8L439 484.5L437.5 482.6L437.5 480.3L435.6 478.8L432.7 477.5L429.9 476L428 473.7L426.5 472.9L424.2 473.3L423.8 475.4L426.1 476.7L428 479.2L430.8 480.1L430.8 480.9L435.6 483.2L432.7 482.8L432.1 484.5L433.1 485.4L431.8 487L430.3 487.3L430.8 485.4L429.9 483.6L427.6 482L424.2 480.5L421.3 478.8L420 476.9L417.6 475.2L414.7 476.3L411.9 477.7L409 477.1L406.6 477.5L406.6 479.4L404.7 481.1L401.4 482.6L399.9 484.5L400.7 485.8L399.2 487.3L396.7 489.6L392 489.8ZM59.4 428.8L65.1 429.9L70.8 432L75.5 432.6L78.9 434.1L74.6 437.1L71.7 437.3L67.9 435.6L63.2 435.2L59.4 436.2ZM390.1 464.4L393.9 464L398.6 463.3L403.2 462.3L403.7 459.7L401.1 458.9L400.1 457L397.7 455.1L396.7 453.2L395.8 450.4L392.9 450L394.8 448.3L391 448.3L389.1 450.4L390.1 453.2L391.4 455.1L394.8 455.5L394.8 458L392 458.5L392.4 460.4L390.6 461.2L393.9 461.9L392 462.7ZM389.1 460.4L385.3 461.6L381.5 461.2L381.5 457L384.8 454.7L388.8 454.7L389.5 456.5L388.8 458.3ZM424.2 487.3L429.9 487L429.3 489.6L424.4 488.3ZM416.2 481.7L418.9 481.7L418.7 485.1L416.6 485.4ZM552.1 541L554.4 543.2L555.5 546.1L553.4 548L551.7 547L551.7 543.2ZM647.2 495.9L646.3 497.2L647.4 500L649.1 499.7L650.3 496.8L652.2 496.8L655.8 495.3L657.8 495.9L659.7 494L662.4 493.6L665.4 493L667.3 491.7L667.7 488.3L669.2 485.4L668.6 481.1L666.4 481.3L665.8 483.9L664.9 486.8L661.1 489.2L659.7 488.7L658.2 491.1L656.9 491.9L652.5 492.1L648.7 494ZM666.2 480.7L668.6 478.8L672.1 479.8L676.2 477.3L673.9 476L669.6 473.1L668.6 476.9L666.4 477.9ZM669.6 472.2L672.4 470.7L671.5 466.5L674.3 466.5L672.1 461.8L671.5 456.5L669.6 458L669.6 462.7L669.6 468.4ZM629.8 517.7L631.3 512.4L629.8 511.6L628.3 514.8ZM606.5 522.8L609.9 521.5L610.8 522.4L608.9 524.7L606.7 524.3ZM628.8 524.3L632.1 524.3L632.3 528.1L630.7 530.9L632.6 532.8L635.5 534.7L634.5 535.3L631.7 533.2L629.2 533L628.3 531.3L627.9 528.7ZM607.1 556.5L608.2 555.6L611.4 554.6L614.6 553.1L617.5 550.3L620.3 547L622.2 546.1L624.1 548L626 549.5L624.1 551.2L623.5 553.7L625.6 557.5L623.5 558.4L623.2 561.2L620.9 564.1L620.3 566.6L617.5 566.9L614.6 565.4L611.8 565.4L609.3 564.1L608.9 561.8L607.1 559.4ZM581.1 548.7L584.3 549.5L587.2 552.1L590.6 554.6L592.8 555.9L595.7 558.4L597.2 561.2L599.5 563.7L601.4 565.4L601 570.3L598.5 570.2L594.7 567.3L591.9 564.1L590 561.2L587.7 557.5L585.3 554.6L582.4 551.8ZM600 571.7L602.3 570.7L606.1 571.9L610.5 571.7L614.1 572.6L617.5 574.1L617.1 575.6L612.7 575.1L608 574.1L604.2 573.9L601.9 573ZM648.7 560.9L651.6 560.1L654.4 560.9L654.8 564.1L656.3 565.6L659.2 563.5L662 562.4L666.7 564.1L670.5 565.4L674.3 566.6L676.8 568.8L680 570.7L679.1 572.2L681.9 575.5L685.7 578.7L683.8 579.1L680 577.9L677.2 574.9L674.3 573.8L672.1 575.5L670.2 576.8L667.7 576.6L664.9 574.5L662 575.1L663.3 572.6L662 569.8L658.2 568.1L654.4 566.7L652.2 566.9L650.6 564.8L653.5 564.1L651.2 563.5L648.7 562ZM616.9 600.7L621.3 598.4L626 597.2L630.4 595.9L632.3 593.5L632.3 591.6L634.5 592.1L635.5 590L637.4 587.8L640.2 585.9L643.1 587.4L645.9 587.6L646.3 584.9L648.4 582.8L651.6 582.1L652 580.8L656.3 582.3L659.7 582.5L658.2 584.9L657.3 587.8L661.1 589.7L664.9 592.5L667.3 592.5L668.6 588.7L669 584.9L669.6 581.1L670.5 579.6L672.4 583L672.8 586.4L675.8 587.8L676.6 591.6L677.7 595L681 597.2L683.8 601.6L686.3 603.9L689.5 606.7L690.8 609.6L691.4 613.4L690.4 618.1L688.5 621.5L687 623.8L685.1 627.6L684.8 630.4L681 631.2L678.1 633.3L675.3 631.9L672.4 632.9L668.6 631.9L665.8 630.4L664.9 627.6L662.6 626.6L663 624.7L661.1 626.1L661.6 621.9L659.2 624.3L657.8 625.3L656.3 622.8L654.4 621.3L650.6 620L645 619.2L639.3 620.6L635.5 621.9L634.5 623.6L629.8 623.4L627 624.3L624.1 625.7L620.3 625.3L618.4 624.3L619 620.9L619.8 619L618.4 616.2L617.5 613.4L616.2 609.6L615.2 605.8L616 602.4ZM674.7 636.5L678.1 637.2L681.5 636.9L681.3 639.3L680 641.4L677.2 641.8L675.7 639.3ZM727.8 624.5L730.8 627.2L733.1 629.1L735 630.8L738.4 630.6L737.8 632.9L735.9 634.2L735 636.7L732.5 638.2L731.7 636.7L729.9 634L731.4 632.3L731.6 629.5L728.7 626.1ZM727.8 636.1L730.6 638L728.9 640.8L726.8 642.4L724.5 644.6L723.6 646.5L720.8 647.7L717.9 646.9L716 646L718.9 643.1L722.6 640.8L725.5 638.6Z"/></clipPath>
<clipPath id="stipc"><path d="M104.9 429L133.3 428.2L157.9 426.7L192.1 429.5L218.6 431.4L226.2 440L224.3 449.4L237.5 454.2L248.9 458.9L250.8 453.2L256.5 448.5L267.8 448.5L279.2 451.3L290.6 458.9L283 465.5L271.6 468.4L262.2 473.1L248.9 475L237.5 472.2L230 469.3L218.6 467.4L203.4 467.4L195.8 472.2L188.3 476.9L176.9 482.6L171.2 479.8L169.3 470.3L165.5 464.6L156 457L144.7 448.5L131.4 444.7L116.2 441.9L104.9 438.1ZM410 441.9L419.4 437.1L427 429.5L442.2 424.8L461.1 425.8L483.9 429.5L510.4 427.6L529.4 427.6L536.9 421L563.5 418.2L590 415.3L612.7 419.1L643.1 421L665.8 422.9L677.2 426.7L669.6 434.3L684.8 441.9L699.9 441.9L699.9 449.4L684.8 447.5L669.6 451.3L662 458L652.5 466.5L643.1 465.5L627.9 464.6L612.7 465.5L597.6 463.7L582.4 464.6L567.3 464.6L559.7 458.9L540.7 458L521.8 458L506.6 457L491.5 454.2L476.3 452.3L463 449.4L457.3 444.7L446 447.5L438.4 446.6L432.7 451.3L423.2 453.2L421.3 447.5L411.9 448.5ZM561.6 490.2L590 489.2L597.6 494.9L593.8 504.4L574.8 505.3L561.6 501.6ZM281.1 570.3L292.5 570.3L292.5 575.1L281.1 575.1ZM298.2 570.3L303.9 570.3L303.9 580.8L298.2 580.8Z"/></clipPath>
<filter id="mapf" filterUnits="userSpaceOnUse" x="40" y="370" width="722" height="330" color-interpolation-filters="sRGB">
<feGaussianBlur in="SourceGraphic" stdDeviation="3.5" result="src"/>
<feColorMatrix in="src" type="matrix" values="1 0 0 0 0 1 0 0 0 0 1 0 0 0 0 0 0 0 0 1" result="bias"/>
<feColorMatrix in="src" type="matrix" values="0 1 0 0 0 0 1 0 0 0 0 1 0 0 0 0 0 0 0 1" result="amp"/>
<feTurbulence type="fractalNoise" baseFrequency="0.13" numOctaves="4" seed="5" result="turb"/>
<feColorMatrix in="turb" type="matrix" values="2.2 0 0 0 -0.6 2.2 0 0 0 -0.6 2.2 0 0 0 -0.6 0 0 0 0 1" result="n"/>
<feComposite in="amp" in2="n" operator="arithmetic" k1="1" k2="0" k3="0" k4="0" result="P"/>
<feComposite in="bias" in2="P" operator="arithmetic" k1="0" k2="0.5" k3="0.5" k4="0" result="U"/>
<feComposite in="U" in2="amp" operator="arithmetic" k1="0" k2="2" k3="-0.5" k4="0" result="V"/>
<feComponentTransfer in="V"><feFuncR type="discrete" tableValues="0.647 0.843 0.957 0.992 0.996 0.878 0.671 0.455 0.271 0.192"/><feFuncG type="discrete" tableValues="0.000 0.188 0.427 0.682 0.878 0.953 0.851 0.678 0.459 0.212"/><feFuncB type="discrete" tableValues="0.149 0.153 0.263 0.380 0.565 0.973 0.914 0.820 0.706 0.584"/></feComponentTransfer>
</filter>
<filter id="rough" filterUnits="userSpaceOnUse" x="40" y="370" width="722" height="330">
<feTurbulence type="fractalNoise" baseFrequency="0.09" numOctaves="2" seed="11" result="t"/>
<feDisplacementMap in="SourceGraphic" in2="t" scale="9" xChannelSelector="R" yChannelSelector="G"/>
</filter>
<pattern id="stip" patternUnits="userSpaceOnUse" x="59.4" y="392.95" width="5.69" height="5.69"><circle cx="2.84" cy="2.84" r="1.25" fill="#000"/></pattern>
</defs>
<g clip-path="url(#mframe)">
<path d="M82.1 435L85 429.9L91.6 428L97.3 425.6L103.9 424.2L112.5 425.2L120 426.1L133.3 427.5L142.8 428.8L148.5 427.6L155.1 426.5L157.9 425.8L163.6 427.6L171.2 427.1L178.8 428.8L183.5 430.9L192.1 430.7L195.8 429.7L201.5 430.1L209.1 431.1L214.8 430.5L217.6 429.9L219.5 427.6L218 425.8L221.4 423.1L224.6 425.2L227.1 427.5L230 429.2L233.7 430.5L235.6 431.6L237.5 429.4L238.9 427.3L245.1 427.1L246.4 429.4L245.1 432L241.3 433.7L237.5 434.3L235.6 436.2L232.8 437.9L229 438.8L225.2 440.9L222.4 443.8L221.2 445.7L222 447.9L224.3 448.1L225.2 451.1L230 451.3L233.7 452.3L239.4 454.6L244.5 454.9L244.7 458.9L247 460.8L248.9 462.1L250.8 461.8L251.4 459.9L250.8 457L249.8 455.7L254.6 453.2L255.5 450.8L251.7 447.9L253.6 445.7L252.7 441.1L257.4 441.3L261.2 441.9L265 443.4L268.8 443.9L268.8 446.6L267.8 447.9L272.6 448.9L275.4 447.9L277.3 445.1L279.2 447.5L282.1 450.4L284 453.2L286.8 455.1L291.5 457L294.4 459.3L294.9 461.6L289.6 462.1L286.8 464.2L281.1 464L274.5 464.2L270.7 466.5L267.8 469.1L266 470.7L268.8 469L271.6 467.3L277.3 466.1L278.7 467.1L276.4 468.8L277.9 470.3L279.2 471.8L281.1 472.4L284 472.7L285.9 470.7L287 472.2L284.9 473.7L280.2 475L276.4 476.9L275.1 475.4L277.7 473.5L274.5 473.9L273.5 474.6L269.7 476L267.3 476.9L266.3 478.8L267.8 480.1L265 480.9L261.2 481.8L260.3 482.6L259.9 484.5L258.4 485.8L257.2 487.5L256.5 489.2L256.9 491.1L255.5 493.4L252.7 495.1L249.8 496.8L247 499.1L246.2 501.6L248 505.3L248.9 508.6L248.3 511.4L246.6 511.6L245.1 509.1L243.6 506.3L243.2 504L241.3 502.5L238.5 502.9L236.6 501.7L233.7 501.9L230.9 502.1L231.1 504L228.1 503.8L224.3 503.1L221 503.6L218.6 505.3L216.1 507.2L216.3 510.1L215.4 513.9L215.2 517.1L216.3 520.1L218 522.8L220.5 524.1L222.4 524.9L225.2 524.1L228.1 523.3L229 519.9L230.9 519L234.7 518.6L236 519.6L234.7 522.4L234.1 524.9L233.2 526.2L232.2 529L233.2 529.6L235.6 529.4L238.5 529.2L241.3 529.4L242.8 530.9L242.3 533.8L242.1 536.2L241.7 538.5L243.2 540.4L244.7 541.9L247 542.7L249.5 541.3L251.7 541.5L253.8 542.9L252.9 545.5L251.7 544L249.8 542.5L248.3 543.8L248.5 545.3L246.1 544.8L243.6 543.8L241.9 543.1L239.8 540.8L237.9 540L237.9 538.1L235.3 535.1L234.1 534.1L230.9 533.8L227.5 533L225.6 531.7L222.4 528.8L219.9 529L217.6 529.6L213.8 528.3L211 527.1L207.6 525.4L204.4 524.3L201.5 522.4L200.4 520.5L201 518.6L199.6 516.1L196.8 513.3L193.9 510.8L193 508.8L191.1 507.2L188.3 504.8L186.4 501.6L183 499.3L183.1 501.6L185.4 504.4L187.3 507.2L189.6 510.1L191.1 512.9L193 515.4L191.5 515.2L188.3 512.4L187.7 509.7L184.5 507.8L182.6 505.9L183.5 504L181.1 501.6L179.2 498.7L178.2 496.8L175.9 494.9L172.2 494L169.7 490.2L168.4 487.7L165.9 484.5L165 482.6L165.1 479.8L164.6 477.9L165.5 474.1L165.5 471.2L164.2 467.8L167.4 467.8L167.8 466.5L164.6 464.6L159.8 462.7L157.9 459.9L154.2 457L153.2 455.1L150.4 453.2L147.5 450.4L144.7 448.5L141.8 449.1L139 447.5L135.2 446L131.4 445.7L127.6 445.7L123.8 444.1L120 444.7L117.2 446L113.4 447L113.8 444.1L109.6 447L107.7 448.9L103.9 451L100.1 452.9L96.4 454.2L92.6 455.1L88.2 455.9L91.6 454L95.4 453L99.2 450.4L102 448.5L100.1 447.9L96.4 447.9L93.5 448.3L93.5 446L89.7 445.7L86.9 443.4L86.9 440.9L88.8 439.6L93.5 439L95.4 437.5L92.6 437.1L87.8 437.1L85 436.2ZM262.2 411.2L271.6 407.8L283 404.5L305.8 403.4L324.7 401.3L343.6 400.9L358.8 403L366.4 404.9L377.8 404.9L368.3 407.8L366.4 411.5L362.6 415.3L364.5 418.2L358.8 421L358.8 423.9L358.8 426.1L353.1 427.6L347.4 429.9L339.9 430.5L334.2 433.3L328.5 434.8L324.7 436.2L321.9 440L319 444.7L316.2 445.8L312.4 444.3L308.6 443.2L305.8 440L302.9 437.1L300.1 434.3L299.1 431.4L302 428.6L298.2 426.7L297.2 424.8L294.4 421L290.6 416.3L283 415L273.5 415.3L266 413.4ZM277.3 442.2L271.6 441.5L266 440.3L260.3 437.5L253.6 437.5L252.7 436.2L260.3 435.2L261.2 432.4L262.2 430.1L256.5 428.6L251.7 426.7L245.1 426.7L237.5 426.1L231.8 424.8L230.9 422L233.7 419.9L239.4 419.7L247 420.1L252.7 421.4L260.3 423.5L266 424.8L271.6 426.7L273.5 428.6L279.2 431.4L284 433L281.1 436.2L276.4 436.7L278.3 439.4ZM176.9 426.1L180.7 428L185.4 429.2L193.9 429L200.6 428.4L208.2 427.1L209.1 426.1L203.4 424.8L201.5 421.4L196.8 420.4L192.1 421.2L184.5 420.3L179.7 421.4L175.9 422.9ZM248 438.6L242.3 440.9L235.6 438.4L237.5 435.6L241.3 434.5L246.1 437.1ZM288.1 469.1L289.6 467.4L291.5 464.6L294.4 461.8L295.3 463.7L294.4 465L298.2 465.5L300.1 467.4L300.4 470.3L298.2 470.9L295.3 470.3L292.5 469.1ZM166.5 467.6L163.6 466.9L158.9 464.6L157.4 463.1L161.7 463.8L164.6 465.5ZM355 435.2L358.8 433.5L366.4 433.9L372.1 433.7L374.9 436.2L372.1 437.5L365.4 439.2L360.7 438.4L357.9 437.7L358.8 436.2ZM253.8 542.9L256.5 541.3L257.4 539.1L259.3 538.3L262.2 537.6L265 535.9L265.4 538.5L267.8 537.6L268.4 536.4L271.1 538.9L275.4 539.3L278.3 540L282.1 539.1L283.4 540.4L284.9 543.2L286.8 543.4L289.6 546.1L292.5 548L296.3 548L299.1 548.7L302 550.3L303.5 551.8L305.8 555.9L305.8 558.8L308.6 560.7L310.5 560.5L315.2 562.2L316.6 564.1L319 563.9L321.9 564.8L324.7 564.7L327.5 566.4L330.4 568.6L333.6 569.4L334.6 573L334.2 576.2L331.3 579.2L329.4 581.7L327.5 584L326.6 587.4L326.6 591.6L325.3 594.4L324.7 597.2L323.2 600.1L321.3 602.6L319 602.9L315.8 603.5L312.8 604.8L309.5 607.3L308.4 610.1L308.4 613.4L305.8 616.2L303.9 619L301.6 620.9L299.1 623.8L296.3 625.5L293.4 625.3L290 624L292.1 626.6L292.5 628.5L291.2 631.7L286.8 633.1L283 633.1L282.4 636.1L279.6 637.4L277.3 636.9L277.3 639.3L279.8 639.9L276.9 641.8L276.4 644.6L272.6 646.5L274.5 648.4L275.6 649.9L272.6 652.6L270.7 654.7L269.4 657.1L270.9 658.6L271.3 659.8L273.5 662.6L276.9 663.2L274.5 664L270.7 664.5L267.8 664L265 662.1L262.2 660.2L259.3 657.9L257.8 654.1L257.4 650.3L257.4 647.8L260.3 644.6L261.2 641.8L260.3 638.9L260.8 635.1L261.2 631.4L261.8 629.5L262.9 626.6L264.6 622.8L265 618.1L265.2 614.3L266.1 610.5L266.9 606.7L267.3 602.9L267.7 599.1L267.3 594.2L265 592.1L261.2 590.2L258 588.3L255.9 585.7L254.2 582.1L252.3 578.3L250.8 574.9L249.1 572.2L246.6 570.7L246.4 567.5L248.3 565.8L248.9 564.1L247.2 563.5L247.6 561.2L248.7 559L248.9 557.8L251 556.7L251.6 554.6L253.4 553.3L254 551.8L253.6 548.9L253.8 546.5L252.9 545.5ZM389.3 491.5L390.5 491.3L394.8 492.5L396.7 492.8L400.5 491.3L403.3 490.2L406.2 489.4L410 489.6L414.7 489.2L419.1 488.7L421.3 489.2L421 492.1L419.8 494.4L421 495.5L422.3 496.4L425.1 497L429.3 498L430.3 499.7L433.7 500.8L436.5 501.9L438.4 500.6L438.4 498.3L441.2 497L444.1 497.6L447.9 499.1L451.7 500L455.5 500.8L458.3 499.7L461.1 499.8L462.1 500.4L462.3 502.5L464 505.7L465.7 509.1L467.8 513.9L470.4 517.7L471.2 520.5L471.6 523.9L473.6 525.2L475.4 530L478.2 531.9L481 535.1L482.6 537L482.4 537.9L484.8 539.5L488.6 538.7L492.4 537.9L497.1 536.8L497.5 539.5L496.2 542.3L494.3 546.1L492.4 549.9L489.6 553.7L485.8 556.5L482.9 559.4L480.1 562.2L477.8 564.1L476.3 566.9L474.4 569.8L475 572.6L475.4 576.4L477.1 579.2L477.4 583L477.6 587.8L475.4 590.6L471.6 592.5L469.7 595L466.8 597.2L467.4 601L467.8 604.8L464 607.1L462.7 608.6L462.7 612.4L460.2 615.3L457.9 618.1L454.5 621.3L451.7 623.2L448.8 623.8L443.1 624.2L438.4 625.3L435.6 624.2L435 620.9L433.7 617.1L431.8 613.5L429.5 610.5L428.5 606.7L428 602L425.5 597.2L422.9 592.5L423.2 588.7L426.1 583L426.7 579.2L425.1 576.4L424.2 571.7L423.6 569.8L422.3 567.5L419.4 564.7L417.6 561.2L418.5 558.4L418.9 555.6L419.1 553.3L417.6 551.4L414.7 551L411.9 551.2L410 548.9L408.1 547.4L405.2 547.4L402.4 548.2L398.6 549.5L394.8 549.9L391 549.7L386.3 551L383.4 549.9L380 547L377.8 545.1L375.5 542.9L374.9 540.8L372.5 538.9L371.1 537.6L368.9 535.9L368.7 533.8L367.5 531.5L369.2 529L369.6 525.2L369.8 522.4L368.3 519.6L370.2 514.8L372.1 512.4L373 509.7L375.5 506.9L378.7 505.3L381.5 503.4L382.1 500.6L383.4 497.4L386.3 495.5L388.2 494ZM493.9 582.1L495.8 588.7L494.5 591.6L493 597.2L491.1 602.9L489.6 606.7L486.3 607.7L483.9 606.7L482.6 602L484.4 597.8L483.9 593.5L484.8 590L488.6 588.7L491.5 584.9ZM389.9 491.1L388.2 489.6L383.4 489.2L382.5 486L383.8 481.7L382.9 477.9L385.3 476.5L390.1 476.9L393.9 477.1L397.1 477.1L398.2 474.8L398.4 472.6L396.3 470.3L392 468.8L391.4 467.4L394.8 466.9L397.5 467.1L397.1 465.2L398.6 465.7L400.9 465.5L403.3 464.2L403.9 462.7L407.1 461.8L409 459.9L410 458.5L413.8 458L416.6 457.4L417 455.1L416 452.3L416.6 451.1L420.4 450L420 452.3L419.4 454.2L419.4 456.1L421.3 457L424.2 456.3L427 457L431.8 456.1L435.6 455.5L437.8 456.3L440.3 454.7L440.3 451.7L441.2 450.4L443.1 450L446 451.1L446.5 448.9L445 447.2L448.8 446.6L453.6 446.4L457.3 445.8L454.5 444.5L449.8 444.9L444.1 445.8L441.2 444.3L440.9 441.9L441.2 439.6L444.1 438.1L447.9 435.8L446 434.7L442.2 434.8L440.3 437.1L436.5 439.4L433.7 441.3L433.1 443.8L435.6 445.7L434.6 447.2L432.1 449.1L431.6 451.9L429.9 453L427.6 454.2L425.1 454.4L424.2 452.7L422.3 449.4L421.3 447.5L420.4 446.6L418.5 447.9L415.7 449.3L412.8 449.1L410.9 447.5L410 444.7L410 441.9L412.8 440.3L416.6 439L420.4 437.5L423.2 435.2L425.1 432.4L428 430.5L431.8 428.6L436.5 426.9L442.2 425.8L448.8 424.6L454.5 425L459.2 426.1L457.3 427.3L463 427.6L468.7 428.4L474.4 430.1L478.6 432L478.2 433.7L473.5 434.1L466.8 433.3L463 433.1L465.9 435.2L466.8 437.3L471.6 438.1L472.5 436.6L476.3 436.9L477.2 434.7L481 433.5L483.9 433.9L484.4 431.4L483.5 429.5L487.7 429.9L488.6 432.4L491.5 431.2L495.2 430.1L500.9 429.9L503.8 430.1L508.5 429.4L512.3 428.8L515.1 427.1L521.8 428L525.6 428.6L527.5 429.5L530.3 429.9L527.5 427.3L527.5 424.8L530.3 421.6L535 421L537.9 422.9L537.9 426.7L536.9 429.5L539.8 432.4L540.7 429.5L541.7 426.7L540.7 422.9L544.5 422.5L548.3 422.5L553 422L554 420.1L561.6 419.3L565.4 417.2L572.9 415.9L580.5 415.1L590 414.4L598.1 412.1L603.3 413.4L610.8 414L615.6 415.9L608.9 418.6L612.7 419.5L618.4 419.9L626 420.8L634.5 420.1L641.2 420.3L645 422.9L645.9 424.8L650.6 423.9L656.3 423.9L662 423.9L665.8 422L671.5 421.6L679.1 422.3L684.8 423.7L690.4 425L698 424.8L703.7 426.7L707.5 427.5L713.2 427.6L718.9 426.9L723.6 426.9L724.5 428.6L730.2 427.1L737.8 427.8L741.6 428.8L741.6 436.2L738.8 437.1L736.9 436.7L740.7 440.9L735.9 440.9L730.2 442.2L723.6 445.7L717 445.1L712.2 446L710 448.5L708.4 450.4L710 452.9L707.5 455.5L703.7 458.5L700.5 460.8L697.4 462.7L695.6 458.9L695.7 454.2L697.1 450.8L700.9 448.5L703.7 445.1L708.4 443.4L710.3 441.3L703.7 442.8L698 442.6L694.2 446.2L688.5 447.5L681.9 446.8L675.3 447L670.5 447.2L665.8 450.4L661.1 454.2L658.2 456.1L661.1 457.4L664.9 456.6L667.7 458.5L668.3 460.8L666.7 463.7L666.4 467.4L663 470.9L659.2 474.1L654.4 477.5L651.6 477.5L648.7 478.8L646.9 479.8L646.3 481.7L643.1 483.6L642.1 484.9L644 486.4L645.7 489.2L645.7 492.1L644 493.2L641.2 494L639.8 493.4L640.2 490.8L640.6 488.9L638.3 487.7L637.4 485.8L637.9 484.3L636 483.7L632.6 484.9L630.4 485.8L631.3 483.2L629.8 481.8L627 483.9L624.1 485.1L623.5 486.4L626 488.3L629.4 487.7L632.6 488.9L629.8 490.2L627 492.5L628.5 494.5L629.8 497.2L631.5 499.7L631.3 501L629.8 501.9L631.7 502.9L630.7 505.3L628.8 507.8L627.3 510.5L625.1 512.7L622.2 514.8L619.4 516.3L616.5 517.1L612.7 518.2L609.9 519.2L609.5 520.9L608.4 518.6L606.1 518.2L603.3 519.6L601.4 522.4L601 524.3L602.9 526.8L605.7 529L607.4 532.8L607.6 536.6L606.1 538.5L603.3 539.6L602.3 541.3L599.5 542.9L599.3 540.4L597.2 539.5L595.3 537L593.8 535.7L591.9 535.1L591.5 533.8L590 534.1L589.6 537.6L588.5 540.4L589.6 541.9L590.6 544.2L591.9 546.5L594.4 547.6L596.3 550.3L596.6 553.7L598 556.7L596.6 556.9L593.8 555L591.9 553.3L590.9 550.8L590.6 548L589.1 546.1L587.2 543.8L586.8 541.3L587.3 538.5L587.3 535.7L586.2 532.8L585.6 530L585.3 528.1L583.4 527.7L581.1 529.4L579.2 528.7L579.6 525.6L578.6 523.3L576.4 520.5L574.8 518.6L573.9 516.3L572 516.7L569.2 517.8L565.4 518.6L564.4 521.1L561.6 522.4L558.7 525.2L556.5 527.5L553.6 529.4L552.3 531.9L552.5 535.1L551.7 538.5L550.8 540L549.3 542.3L547.4 544L545.5 541.9L544.1 537.6L542.2 534.7L541.1 530.9L539.4 527.1L538.5 523.3L538.3 519.9L537.5 518.6L534.1 519.9L531.3 517.1L533.1 516.1L530.3 515.2L528 512.9L526.5 511.2L521.8 511.6L517 511.8L512.3 511.2L509.1 510.5L507.6 508.2L503.8 508.9L500 507.2L497.1 505L495.6 502.5L493 501.9L491.5 502.9L492.4 505.3L494.3 507.6L495.6 509.5L496.8 512L498.1 510.1L498.1 512.7L500 513.5L502.8 513.5L505.7 511.4L507.2 509.5L507.6 512.4L510.4 514.4L513.6 516.7L511.7 519.9L509.8 523.3L507.6 525.2L504.7 527.1L500 529L495.2 530.9L490.5 533.2L485.8 535.1L482.9 535.3L482 532.8L481.4 530L480.1 526.2L477.2 522.4L474.8 518.6L472.5 513.9L469.7 510.1L466.8 506.3L466.6 503.4L465.5 506.7L463 504.8L462.3 502.5L461.7 500.2L464.9 500L466.4 498.1L467.8 495.3L468.5 492.1L469.1 489.8L465.9 489.8L463 490.9L459.2 489.6L456.4 490.8L453.2 489.6L452 487.7L450.7 485.8L451.1 484.5L450.1 483.2L449.8 482.4L446 482L445 483.2L443.7 482.8L443.7 484.9L446 487.3L444.1 488.3L444.5 490.2L442.8 490.2L441.2 488.9L440.7 486.8L439 484.5L437.5 482.6L437.5 480.3L435.6 478.8L432.7 477.5L429.9 476L428 473.7L426.5 472.9L424.2 473.3L423.8 475.4L426.1 476.7L428 479.2L430.8 480.1L430.8 480.9L435.6 483.2L432.7 482.8L432.1 484.5L433.1 485.4L431.8 487L430.3 487.3L430.8 485.4L429.9 483.6L427.6 482L424.2 480.5L421.3 478.8L420 476.9L417.6 475.2L414.7 476.3L411.9 477.7L409 477.1L406.6 477.5L406.6 479.4L404.7 481.1L401.4 482.6L399.9 484.5L400.7 485.8L399.2 487.3L396.7 489.6L392 489.8ZM59.4 428.8L65.1 429.9L70.8 432L75.5 432.6L78.9 434.1L74.6 437.1L71.7 437.3L67.9 435.6L63.2 435.2L59.4 436.2ZM390.1 464.4L393.9 464L398.6 463.3L403.2 462.3L403.7 459.7L401.1 458.9L400.1 457L397.7 455.1L396.7 453.2L395.8 450.4L392.9 450L394.8 448.3L391 448.3L389.1 450.4L390.1 453.2L391.4 455.1L394.8 455.5L394.8 458L392 458.5L392.4 460.4L390.6 461.2L393.9 461.9L392 462.7ZM389.1 460.4L385.3 461.6L381.5 461.2L381.5 457L384.8 454.7L388.8 454.7L389.5 456.5L388.8 458.3ZM424.2 487.3L429.9 487L429.3 489.6L424.4 488.3ZM416.2 481.7L418.9 481.7L418.7 485.1L416.6 485.4ZM552.1 541L554.4 543.2L555.5 546.1L553.4 548L551.7 547L551.7 543.2ZM647.2 495.9L646.3 497.2L647.4 500L649.1 499.7L650.3 496.8L652.2 496.8L655.8 495.3L657.8 495.9L659.7 494L662.4 493.6L665.4 493L667.3 491.7L667.7 488.3L669.2 485.4L668.6 481.1L666.4 481.3L665.8 483.9L664.9 486.8L661.1 489.2L659.7 488.7L658.2 491.1L656.9 491.9L652.5 492.1L648.7 494ZM666.2 480.7L668.6 478.8L672.1 479.8L676.2 477.3L673.9 476L669.6 473.1L668.6 476.9L666.4 477.9ZM669.6 472.2L672.4 470.7L671.5 466.5L674.3 466.5L672.1 461.8L671.5 456.5L669.6 458L669.6 462.7L669.6 468.4ZM629.8 517.7L631.3 512.4L629.8 511.6L628.3 514.8ZM606.5 522.8L609.9 521.5L610.8 522.4L608.9 524.7L606.7 524.3ZM628.8 524.3L632.1 524.3L632.3 528.1L630.7 530.9L632.6 532.8L635.5 534.7L634.5 535.3L631.7 533.2L629.2 533L628.3 531.3L627.9 528.7ZM607.1 556.5L608.2 555.6L611.4 554.6L614.6 553.1L617.5 550.3L620.3 547L622.2 546.1L624.1 548L626 549.5L624.1 551.2L623.5 553.7L625.6 557.5L623.5 558.4L623.2 561.2L620.9 564.1L620.3 566.6L617.5 566.9L614.6 565.4L611.8 565.4L609.3 564.1L608.9 561.8L607.1 559.4ZM581.1 548.7L584.3 549.5L587.2 552.1L590.6 554.6L592.8 555.9L595.7 558.4L597.2 561.2L599.5 563.7L601.4 565.4L601 570.3L598.5 570.2L594.7 567.3L591.9 564.1L590 561.2L587.7 557.5L585.3 554.6L582.4 551.8ZM600 571.7L602.3 570.7L606.1 571.9L610.5 571.7L614.1 572.6L617.5 574.1L617.1 575.6L612.7 575.1L608 574.1L604.2 573.9L601.9 573ZM648.7 560.9L651.6 560.1L654.4 560.9L654.8 564.1L656.3 565.6L659.2 563.5L662 562.4L666.7 564.1L670.5 565.4L674.3 566.6L676.8 568.8L680 570.7L679.1 572.2L681.9 575.5L685.7 578.7L683.8 579.1L680 577.9L677.2 574.9L674.3 573.8L672.1 575.5L670.2 576.8L667.7 576.6L664.9 574.5L662 575.1L663.3 572.6L662 569.8L658.2 568.1L654.4 566.7L652.2 566.9L650.6 564.8L653.5 564.1L651.2 563.5L648.7 562ZM616.9 600.7L621.3 598.4L626 597.2L630.4 595.9L632.3 593.5L632.3 591.6L634.5 592.1L635.5 590L637.4 587.8L640.2 585.9L643.1 587.4L645.9 587.6L646.3 584.9L648.4 582.8L651.6 582.1L652 580.8L656.3 582.3L659.7 582.5L658.2 584.9L657.3 587.8L661.1 589.7L664.9 592.5L667.3 592.5L668.6 588.7L669 584.9L669.6 581.1L670.5 579.6L672.4 583L672.8 586.4L675.8 587.8L676.6 591.6L677.7 595L681 597.2L683.8 601.6L686.3 603.9L689.5 606.7L690.8 609.6L691.4 613.4L690.4 618.1L688.5 621.5L687 623.8L685.1 627.6L684.8 630.4L681 631.2L678.1 633.3L675.3 631.9L672.4 632.9L668.6 631.9L665.8 630.4L664.9 627.6L662.6 626.6L663 624.7L661.1 626.1L661.6 621.9L659.2 624.3L657.8 625.3L656.3 622.8L654.4 621.3L650.6 620L645 619.2L639.3 620.6L635.5 621.9L634.5 623.6L629.8 623.4L627 624.3L624.1 625.7L620.3 625.3L618.4 624.3L619 620.9L619.8 619L618.4 616.2L617.5 613.4L616.2 609.6L615.2 605.8L616 602.4ZM674.7 636.5L678.1 637.2L681.5 636.9L681.3 639.3L680 641.4L677.2 641.8L675.7 639.3ZM727.8 624.5L730.8 627.2L733.1 629.1L735 630.8L738.4 630.6L737.8 632.9L735.9 634.2L735 636.7L732.5 638.2L731.7 636.7L729.9 634L731.4 632.3L731.6 629.5L728.7 626.1ZM727.8 636.1L730.6 638L728.9 640.8L726.8 642.4L724.5 644.6L723.6 646.5L720.8 647.7L717.9 646.9L716 646L718.9 643.1L722.6 640.8L725.5 638.6Z" fill="#e4e4e4"/>
<g clip-path="url(#dland)"><g filter="url(#mapf)">
<rect x="30" y="360" width="742" height="350" fill="rgb(128,204,0)"/>
<ellipse cx="101.1" cy="440" rx="17.1" ry="9.5" fill="rgb(94,76,0)"/>
<ellipse cx="97.3" cy="451.3" rx="13.3" ry="5.7" fill="rgb(76,89,0)"/>
<ellipse cx="131.4" cy="435.2" rx="18.9" ry="8.5" fill="rgb(163,64,0)"/>
<ellipse cx="157.9" cy="440" rx="15.2" ry="9.5" fill="rgb(153,76,0)"/>
<ellipse cx="169.3" cy="439" rx="5.7" ry="4.7" fill="rgb(224,76,0)"/>
<ellipse cx="201.5" cy="435.2" rx="26.5" ry="7.6" fill="rgb(115,38,0)"/>
<ellipse cx="230" cy="433.3" rx="15.2" ry="5.7" fill="rgb(115,38,0)"/>
<ellipse cx="258.4" cy="430.5" rx="17.1" ry="11.4" fill="rgb(120,18,0)"/>
<ellipse cx="192.1" cy="424.8" rx="15.2" ry="4.7" fill="rgb(120,18,0)"/>
<ellipse cx="267.8" cy="441.9" rx="9.5" ry="3.8" fill="rgb(128,76,0)"/>
<ellipse cx="169.3" cy="454.2" rx="13.3" ry="9.5" fill="rgb(148,102,0)"/>
<ellipse cx="203.4" cy="453.2" rx="17.1" ry="8.5" fill="rgb(23,128,0)"/>
<ellipse cx="220.5" cy="458.9" rx="13.3" ry="6.6" fill="rgb(31,140,0)"/>
<ellipse cx="237.5" cy="462.7" rx="13.3" ry="6.6" fill="rgb(56,140,0)"/>
<ellipse cx="256.5" cy="462.7" rx="13.3" ry="9.5" fill="rgb(76,128,0)"/>
<ellipse cx="271.6" cy="458.9" rx="13.3" ry="9.5" fill="rgb(84,115,0)"/>
<ellipse cx="283" cy="457" rx="7.6" ry="7.6" fill="rgb(97,89,0)"/>
<ellipse cx="365.4" cy="436.2" rx="9.5" ry="3.8" fill="rgb(84,51,0)"/>
<ellipse cx="199.6" cy="463.7" rx="15.2" ry="6.1" fill="rgb(224,153,0)"/>
<ellipse cx="214.8" cy="467.4" rx="8.5" ry="5.7" fill="rgb(217,153,0)"/>
<ellipse cx="188.3" cy="472.2" rx="7.6" ry="5.7" fill="rgb(153,178,0)"/>
<ellipse cx="222.4" cy="482.6" rx="11.4" ry="9.5" fill="rgb(5,115,0)"/>
<ellipse cx="237.5" cy="490.6" rx="9.5" ry="7.2" fill="rgb(235,76,0)"/>
<ellipse cx="252.7" cy="483.6" rx="9.5" ry="9.5" fill="rgb(56,178,0)"/>
<ellipse cx="247" cy="496.8" rx="7.6" ry="5.7" fill="rgb(64,178,0)"/>
<ellipse cx="175" cy="477.9" rx="11.4" ry="13.3" fill="rgb(148,153,0)"/>
<ellipse cx="184.5" cy="489.2" rx="9.5" ry="7.6" fill="rgb(122,128,0)"/>
<ellipse cx="211" cy="497.8" rx="11.4" ry="9.5" fill="rgb(56,204,0)"/>
<ellipse cx="199.6" cy="506.3" rx="9.5" ry="9.5" fill="rgb(76,204,0)"/>
<ellipse cx="209.1" cy="517.7" rx="9.5" ry="7.6" fill="rgb(64,204,0)"/>
<ellipse cx="216.7" cy="525.2" rx="7.6" ry="3.8" fill="rgb(97,178,0)"/>
<ellipse cx="231.8" cy="528.1" rx="8.5" ry="8.5" fill="rgb(255,89,0)"/>
<ellipse cx="239.4" cy="534.7" rx="5.7" ry="6.6" fill="rgb(217,153,0)"/>
<ellipse cx="247" cy="542.3" rx="5.7" ry="2.8" fill="rgb(204,153,0)"/>
<ellipse cx="262.2" cy="549.9" rx="9.5" ry="11.4" fill="rgb(189,204,0)"/>
<ellipse cx="266" cy="565" rx="11.4" ry="9.5" fill="rgb(194,204,0)"/>
<ellipse cx="281.1" cy="549.9" rx="9.5" ry="7.6" fill="rgb(153,230,0)"/>
<ellipse cx="290.6" cy="557.5" rx="9.5" ry="7.6" fill="rgb(31,178,0)"/>
<ellipse cx="302" cy="568.8" rx="9.5" ry="6.6" fill="rgb(38,204,0)"/>
<ellipse cx="286.8" cy="572.6" rx="7.6" ry="5.7" fill="rgb(107,230,0)"/>
<ellipse cx="320.9" cy="570.7" rx="9.5" ry="7.6" fill="rgb(153,255,0)"/>
<ellipse cx="313.3" cy="582.1" rx="9.5" ry="7.6" fill="rgb(140,255,0)"/>
<ellipse cx="322.8" cy="589.7" rx="5.7" ry="7.6" fill="rgb(76,230,0)"/>
<ellipse cx="297.2" cy="590.6" rx="10.4" ry="7.6" fill="rgb(247,128,0)"/>
<ellipse cx="307.6" cy="595.4" rx="6.6" ry="5.7" fill="rgb(184,230,0)"/>
<ellipse cx="292.5" cy="607.7" rx="12.3" ry="10.4" fill="rgb(13,166,0)"/>
<ellipse cx="302" cy="616.2" rx="7.6" ry="5.7" fill="rgb(38,204,0)"/>
<ellipse cx="283" cy="621.9" rx="9.5" ry="7.6" fill="rgb(82,178,0)"/>
<ellipse cx="258.4" cy="578.3" rx="7.6" ry="9.5" fill="rgb(92,178,0)"/>
<ellipse cx="273.5" cy="591.6" rx="7.6" ry="5.7" fill="rgb(92,204,0)"/>
<ellipse cx="273.5" cy="635.1" rx="9.5" ry="11.4" fill="rgb(117,89,0)"/>
<ellipse cx="267.8" cy="650.3" rx="7.6" ry="11.4" fill="rgb(128,64,0)"/>
<ellipse cx="430.8" cy="440" rx="17.1" ry="11.4" fill="rgb(43,76,0)"/>
<ellipse cx="451.7" cy="438.1" rx="13.3" ry="9.5" fill="rgb(43,76,0)"/>
<ellipse cx="394.8" cy="457" rx="7.6" ry="7.6" fill="rgb(64,178,0)"/>
<ellipse cx="391" cy="483.6" rx="8.5" ry="6.6" fill="rgb(166,230,0)"/>
<ellipse cx="406.2" cy="472.2" rx="9.5" ry="7.6" fill="rgb(89,178,0)"/>
<ellipse cx="423.2" cy="464.6" rx="13.3" ry="6.6" fill="rgb(89,178,0)"/>
<ellipse cx="442.2" cy="462.7" rx="11.4" ry="5.7" fill="rgb(82,178,0)"/>
<ellipse cx="425.1" cy="477.9" rx="5.7" ry="5.7" fill="rgb(115,204,0)"/>
<ellipse cx="448.8" cy="475" rx="13.3" ry="9.5" fill="rgb(250,128,0)"/>
<ellipse cx="459.2" cy="467.4" rx="9.5" ry="4.7" fill="rgb(191,178,0)"/>
<ellipse cx="466.8" cy="485.4" rx="13.3" ry="5.3" fill="rgb(20,153,0)"/>
<ellipse cx="483.9" cy="481.7" rx="7.6" ry="5.7" fill="rgb(31,153,0)"/>
<ellipse cx="472.5" cy="447.5" rx="18.9" ry="10.4" fill="rgb(51,89,0)"/>
<ellipse cx="482" cy="464.6" rx="15.2" ry="5.7" fill="rgb(163,178,0)"/>
<ellipse cx="499" cy="441.9" rx="18.9" ry="9.5" fill="rgb(82,102,0)"/>
<ellipse cx="523.7" cy="443.8" rx="18.9" ry="7.6" fill="rgb(87,115,0)"/>
<ellipse cx="552.1" cy="443.8" rx="18.9" ry="7.6" fill="rgb(84,115,0)"/>
<ellipse cx="580.5" cy="449.4" rx="18.9" ry="10.4" fill="rgb(46,102,0)"/>
<ellipse cx="608.9" cy="451.3" rx="17.1" ry="11.4" fill="rgb(51,102,0)"/>
<ellipse cx="631.7" cy="453.2" rx="15.2" ry="11.4" fill="rgb(61,115,0)"/>
<ellipse cx="650.6" cy="460.8" rx="13.3" ry="9.5" fill="rgb(69,128,0)"/>
<ellipse cx="536.9" cy="455.1" rx="26.5" ry="4.2" fill="rgb(26,102,0)"/>
<ellipse cx="574.8" cy="457" rx="11.4" ry="4.7" fill="rgb(26,115,0)"/>
<ellipse cx="533.1" cy="434.3" rx="17.1" ry="5.7" fill="rgb(115,178,0)"/>
<ellipse cx="561.6" cy="432.4" rx="18.9" ry="5.7" fill="rgb(128,178,0)"/>
<ellipse cx="590" cy="434.3" rx="18.9" ry="6.6" fill="rgb(92,178,0)"/>
<ellipse cx="552.1" cy="424.8" rx="18.9" ry="3.8" fill="rgb(178,102,0)"/>
<ellipse cx="590" cy="421" rx="18.9" ry="4.7" fill="rgb(184,89,0)"/>
<ellipse cx="618.4" cy="424.8" rx="15.2" ry="5.7" fill="rgb(173,102,0)"/>
<ellipse cx="656.3" cy="434.3" rx="18.9" ry="9.5" fill="rgb(153,89,0)"/>
<ellipse cx="681" cy="438.1" rx="15.2" ry="9.5" fill="rgb(148,76,0)"/>
<ellipse cx="713.2" cy="434.3" rx="22.7" ry="6.6" fill="rgb(102,76,0)"/>
<ellipse cx="732.1" cy="436.2" rx="11.4" ry="5.7" fill="rgb(97,76,0)"/>
<ellipse cx="701.8" cy="453.2" rx="5.7" ry="9.5" fill="rgb(82,102,0)"/>
<ellipse cx="68.9" cy="434.3" rx="9.5" ry="3.8" fill="rgb(76,89,0)"/>
<ellipse cx="514.2" cy="466.5" rx="22.7" ry="7.6" fill="rgb(110,71,0)"/>
<ellipse cx="542.6" cy="468.4" rx="18.9" ry="7.6" fill="rgb(112,76,0)"/>
<ellipse cx="529.4" cy="477.9" rx="15.2" ry="5.7" fill="rgb(112,64,0)"/>
<ellipse cx="590" cy="466.5" rx="15.2" ry="5.7" fill="rgb(56,178,0)"/>
<ellipse cx="612.7" cy="470.3" rx="11.4" ry="5.7" fill="rgb(76,178,0)"/>
<ellipse cx="548.3" cy="510.1" rx="11.4" ry="8.5" fill="rgb(15,166,0)"/>
<ellipse cx="552.1" cy="521.5" rx="9.5" ry="7.6" fill="rgb(31,178,0)"/>
<ellipse cx="561.6" cy="515.8" rx="7.6" ry="5.7" fill="rgb(26,178,0)"/>
<ellipse cx="544.5" cy="532.8" rx="5.7" ry="7.6" fill="rgb(89,230,0)"/>
<ellipse cx="545.5" cy="541.3" rx="2.8" ry="3.8" fill="rgb(224,128,0)"/>
<ellipse cx="527.5" cy="500.6" rx="11.4" ry="9.5" fill="rgb(133,76,0)"/>
<ellipse cx="571" cy="498.7" rx="20.8" ry="7.6" fill="rgb(115,76,0)"/>
<ellipse cx="633.6" cy="472.2" rx="9.5" ry="9.5" fill="rgb(13,140,0)"/>
<ellipse cx="622.2" cy="479.8" rx="9.5" ry="6.6" fill="rgb(31,178,0)"/>
<ellipse cx="618.4" cy="491.1" rx="9.5" ry="6.6" fill="rgb(82,204,0)"/>
<ellipse cx="608.9" cy="497.8" rx="4.7" ry="3.8" fill="rgb(250,102,0)"/>
<ellipse cx="612.7" cy="508.2" rx="13.3" ry="7.6" fill="rgb(122,128,0)"/>
<ellipse cx="597.6" cy="508.2" rx="9.5" ry="7.6" fill="rgb(97,178,0)"/>
<ellipse cx="624.1" cy="508.2" rx="5.7" ry="5.7" fill="rgb(115,128,0)"/>
<ellipse cx="584.3" cy="519.6" rx="7.6" ry="9.5" fill="rgb(20,204,0)"/>
<ellipse cx="591.9" cy="529" rx="7.6" ry="7.6" fill="rgb(31,230,0)"/>
<ellipse cx="599.5" cy="532.8" rx="5.7" ry="7.6" fill="rgb(107,178,0)"/>
<ellipse cx="601.4" cy="521.5" rx="5.7" ry="3.8" fill="rgb(107,153,0)"/>
<ellipse cx="642.1" cy="489.2" rx="3.8" ry="5.7" fill="rgb(82,102,0)"/>
<ellipse cx="662" cy="490.2" rx="9.5" ry="5.7" fill="rgb(84,76,0)"/>
<ellipse cx="593.8" cy="559.4" rx="5.7" ry="5.7" fill="rgb(26,230,0)"/>
<ellipse cx="586.2" cy="552.7" rx="3.8" ry="3.8" fill="rgb(153,178,0)"/>
<ellipse cx="616.5" cy="557.5" rx="10.4" ry="9.5" fill="rgb(128,71,0)"/>
<ellipse cx="665.8" cy="568.8" rx="13.3" ry="5.7" fill="rgb(128,102,0)"/>
<ellipse cx="630.7" cy="528.1" rx="2.8" ry="3.8" fill="rgb(224,102,0)"/>
<ellipse cx="608.9" cy="573.2" rx="9.5" ry="1.9" fill="rgb(89,102,0)"/>
<ellipse cx="385.3" cy="494.9" rx="7.6" ry="4.7" fill="rgb(102,178,0)"/>
<ellipse cx="406.2" cy="491.1" rx="7.6" ry="2.8" fill="rgb(102,178,0)"/>
<ellipse cx="400.5" cy="532.8" rx="41.7" ry="3" fill="rgb(64,204,0)"/>
<ellipse cx="447.9" cy="534.7" rx="22.7" ry="3.4" fill="rgb(64,204,0)"/>
<ellipse cx="415.7" cy="529" rx="56.9" ry="1.7" fill="rgb(112,76,0)"/>
<ellipse cx="385.3" cy="541.3" rx="15.2" ry="7.2" fill="rgb(194,191,0)"/>
<ellipse cx="410" cy="542.3" rx="13.3" ry="6.6" fill="rgb(189,191,0)"/>
<ellipse cx="434.6" cy="543.2" rx="13.3" ry="6.6" fill="rgb(173,191,0)"/>
<ellipse cx="455.5" cy="544.2" rx="9.5" ry="8.5" fill="rgb(153,204,0)"/>
<ellipse cx="472.5" cy="542.3" rx="7.6" ry="9.5" fill="rgb(51,230,0)"/>
<ellipse cx="488.6" cy="547" rx="9.5" ry="10.4" fill="rgb(128,51,0)"/>
<ellipse cx="468.7" cy="559.4" rx="7.6" ry="7.6" fill="rgb(64,255,0)"/>
<ellipse cx="464.9" cy="570.7" rx="7.6" ry="7.6" fill="rgb(128,255,0)"/>
<ellipse cx="436.5" cy="555.6" rx="13.3" ry="7.6" fill="rgb(158,115,0)"/>
<ellipse cx="444.1" cy="566.9" rx="13.3" ry="7.6" fill="rgb(163,128,0)"/>
<ellipse cx="422.3" cy="559.4" rx="5.7" ry="6.6" fill="rgb(92,128,0)"/>
<ellipse cx="430.8" cy="580.2" rx="7.6" ry="9.5" fill="rgb(20,178,0)"/>
<ellipse cx="451.7" cy="584" rx="11.4" ry="6.6" fill="rgb(115,255,0)"/>
<ellipse cx="468.7" cy="584" rx="7.6" ry="7.6" fill="rgb(64,255,0)"/>
<ellipse cx="446" cy="599.1" rx="17.1" ry="7.6" fill="rgb(255,102,0)"/>
<ellipse cx="455.5" cy="605.8" rx="7.6" ry="5.7" fill="rgb(224,153,0)"/>
<ellipse cx="432.7" cy="602.9" rx="5.7" ry="7.6" fill="rgb(140,76,0)"/>
<ellipse cx="444.1" cy="618.1" rx="13.3" ry="6.6" fill="rgb(143,56,0)"/>
<ellipse cx="489.6" cy="595.4" rx="5.7" ry="11.4" fill="rgb(76,230,0)"/>
<ellipse cx="654.4" cy="606.7" rx="41.7" ry="22.7" fill="rgb(128,71,0)"/>
<ellipse cx="631.7" cy="604.8" rx="11.4" ry="7.6" fill="rgb(69,51,0)"/>
<ellipse cx="624.1" cy="620" rx="5.7" ry="4.7" fill="rgb(158,102,0)"/>
<ellipse cx="652.5" cy="585.9" rx="15.2" ry="5.7" fill="rgb(168,128,0)"/>
<ellipse cx="672.4" cy="587.8" rx="3.8" ry="9.5" fill="rgb(230,102,0)"/>
<ellipse cx="681" cy="604.8" rx="7.6" ry="11.4" fill="rgb(168,153,0)"/>
<ellipse cx="682.9" cy="621.9" rx="5.7" ry="7.6" fill="rgb(153,204,0)"/>
<ellipse cx="728.3" cy="637" rx="11.4" ry="13.3" fill="rgb(94,51,0)"/>
</g></g>
<g clip-path="url(#dland)"><g filter="url(#rough)"><path d="M366.4 518.6L368.3 506.3L379.7 503.4L383.4 500.6L389.1 498.7L396.7 496.4L404.3 494.5L411.9 494.2L417.6 495.9L421.3 494.9L423.2 487.3L476.3 487.3L476.3 528.1L470.6 529.8L463 530.5L453.6 530.2L442.2 530.5L430.8 529.8L419.4 529L408.1 528.5L396.7 527.9L385.3 528.1L374 527.5L366.4 527.9ZM463 496.8L469.7 495.9L472.5 492.1L478.2 491.1L483.9 493L487.7 495.9L491.5 498.7L495.2 499.7L500 498.7L502.8 492.1L506.6 487.3L502.8 482.6L500.9 477.9L506.6 474.1L514.2 472.2L521.8 474.1L526.5 478.8L525.6 485.4L519.9 489.2L516.1 492.1L518 496.8L523.7 499.7L525.6 503.4L521.8 506.3L518 509.1L514.2 513.9L516.1 521.5L506.6 532.8L483.9 540.4L472.5 525.2L463 510.1ZM542.6 482.6L550.2 479.2L561.6 476L571 473.1L580.5 475L590 476L601.4 476L610.8 477.9L614.6 481.7L608.9 485.4L599.5 487.3L590 487.7L582.4 487.3L574.8 489.2L567.3 491.1L559.7 491.7L552.1 491.7L545.5 488.3ZM550.2 492.1L559.7 492.1L567.3 493L571 495.9L563.5 497.8L554 496.8L550.2 494.9ZM265 591.6L270.1 593.5L271.6 601L270.1 608.6L267.8 615.3L264.1 615.3ZM179.7 490.2L184.5 489.2L186.4 494L183.5 497.8L180.7 495.9ZM421.3 591.6L425.7 593.5L428.9 602.9L430.8 611.5L427 612.4Z" fill="#e4e4e4"/></g></g>
<path d="M231.8 414.8L248.9 415L252.7 413.4L257.4 410.6L264.1 408.3L275.4 406.2L283 403.4L271.6 402.1L252.7 401.9L233.7 403.4L228.1 405.3L237.5 407.2L234.7 409.6L238.5 411.9L231.8 413.4ZM248.9 418L247 415.7L237.5 414.8L226.2 414.4L218.6 414.4L226.2 417.8L237.5 418.4ZM235.6 410.6L228.1 411.2L220.5 408.7L222.4 405.9L230 406.8L235.6 408.7ZM199.6 417.2L192.1 417.8L184.5 417.6L178.8 415.7L184.5 414.2L193.9 414.4L199.6 415.7ZM218.6 422.9L212.9 423.9L207.2 422L211 419.5L216.7 419.7ZM229 421.4L223.3 422.3L219.5 419.5L224.3 418.9L229 419.7ZM182.6 415L173.1 415.3L169.3 413.4L176.9 412.7L182.6 413.8ZM214.8 417.2L209.1 416.8L205.3 415.3L211 414.2L215.7 415.3ZM218.6 429L213.8 429.4L211.9 428L215.7 426.9L219.5 427.6ZM162.7 422.9L167.4 424.6L173.1 423.9L176.9 421.4L180.7 419.9L178.8 418.6L171.2 418.2L164.6 418.7L165.5 420.6Z" fill="#8c8c8c" fill-opacity="0.55" stroke="#6a6a6a" stroke-width="2.4" stroke-linejoin="round"/>
<path d="M489.6 472.6L493.4 470.9L498.1 470.7L500.9 471.2L500 473.5L497.1 474.5L495.8 475.4L498.1 477.5L500.6 479.2L500 481.7L502.5 482L500.9 484.5L502.5 487.3L501.9 489.2L499 489.8L495.8 488.7L493.4 487.9L493 485.4L494.3 483L492.4 480.1L490.5 477.9L489.2 475ZM453.6 480.7L454.1 477.3L456.4 474.1L458.7 471.2L461.1 471.2L464 472.2L462.1 473.3L464 475L467.4 474.3L469.9 473.5L466.8 472.7L467.8 471.2L471.6 470.3L474.8 469.9L473.1 471.8L471.6 473.7L473.5 475.4L476.3 477.1L479.1 478.8L479.3 480.5L476.3 481.7L472.5 481.7L469.7 481.1L466.8 479.8L463 479.8L459.8 481.3L455.8 481.3Z" fill="#fff" stroke="#6e6e6e" stroke-width="1"/>
<path d="M82.1 435L85 429.9L91.6 428L97.3 425.6L103.9 424.2L112.5 425.2L120 426.1L133.3 427.5L142.8 428.8L148.5 427.6L155.1 426.5L157.9 425.8L163.6 427.6L171.2 427.1L178.8 428.8L183.5 430.9L192.1 430.7L195.8 429.7L201.5 430.1L209.1 431.1L214.8 430.5L217.6 429.9L219.5 427.6L218 425.8L221.4 423.1L224.6 425.2L227.1 427.5L230 429.2L233.7 430.5L235.6 431.6L237.5 429.4L238.9 427.3L245.1 427.1L246.4 429.4L245.1 432L241.3 433.7L237.5 434.3L235.6 436.2L232.8 437.9L229 438.8L225.2 440.9L222.4 443.8L221.2 445.7L222 447.9L224.3 448.1L225.2 451.1L230 451.3L233.7 452.3L239.4 454.6L244.5 454.9L244.7 458.9L247 460.8L248.9 462.1L250.8 461.8L251.4 459.9L250.8 457L249.8 455.7L254.6 453.2L255.5 450.8L251.7 447.9L253.6 445.7L252.7 441.1L257.4 441.3L261.2 441.9L265 443.4L268.8 443.9L268.8 446.6L267.8 447.9L272.6 448.9L275.4 447.9L277.3 445.1L279.2 447.5L282.1 450.4L284 453.2L286.8 455.1L291.5 457L294.4 459.3L294.9 461.6L289.6 462.1L286.8 464.2L281.1 464L274.5 464.2L270.7 466.5L267.8 469.1L266 470.7L268.8 469L271.6 467.3L277.3 466.1L278.7 467.1L276.4 468.8L277.9 470.3L279.2 471.8L281.1 472.4L284 472.7L285.9 470.7L287 472.2L284.9 473.7L280.2 475L276.4 476.9L275.1 475.4L277.7 473.5L274.5 473.9L273.5 474.6L269.7 476L267.3 476.9L266.3 478.8L267.8 480.1L265 480.9L261.2 481.8L260.3 482.6L259.9 484.5L258.4 485.8L257.2 487.5L256.5 489.2L256.9 491.1L255.5 493.4L252.7 495.1L249.8 496.8L247 499.1L246.2 501.6L248 505.3L248.9 508.6L248.3 511.4L246.6 511.6L245.1 509.1L243.6 506.3L243.2 504L241.3 502.5L238.5 502.9L236.6 501.7L233.7 501.9L230.9 502.1L231.1 504L228.1 503.8L224.3 503.1L221 503.6L218.6 505.3L216.1 507.2L216.3 510.1L215.4 513.9L215.2 517.1L216.3 520.1L218 522.8L220.5 524.1L222.4 524.9L225.2 524.1L228.1 523.3L229 519.9L230.9 519L234.7 518.6L236 519.6L234.7 522.4L234.1 524.9L233.2 526.2L232.2 529L233.2 529.6L235.6 529.4L238.5 529.2L241.3 529.4L242.8 530.9L242.3 533.8L242.1 536.2L241.7 538.5L243.2 540.4L244.7 541.9L247 542.7L249.5 541.3L251.7 541.5L253.8 542.9L252.9 545.5L251.7 544L249.8 542.5L248.3 543.8L248.5 545.3L246.1 544.8L243.6 543.8L241.9 543.1L239.8 540.8L237.9 540L237.9 538.1L235.3 535.1L234.1 534.1L230.9 533.8L227.5 533L225.6 531.7L222.4 528.8L219.9 529L217.6 529.6L213.8 528.3L211 527.1L207.6 525.4L204.4 524.3L201.5 522.4L200.4 520.5L201 518.6L199.6 516.1L196.8 513.3L193.9 510.8L193 508.8L191.1 507.2L188.3 504.8L186.4 501.6L183 499.3L183.1 501.6L185.4 504.4L187.3 507.2L189.6 510.1L191.1 512.9L193 515.4L191.5 515.2L188.3 512.4L187.7 509.7L184.5 507.8L182.6 505.9L183.5 504L181.1 501.6L179.2 498.7L178.2 496.8L175.9 494.9L172.2 494L169.7 490.2L168.4 487.7L165.9 484.5L165 482.6L165.1 479.8L164.6 477.9L165.5 474.1L165.5 471.2L164.2 467.8L167.4 467.8L167.8 466.5L164.6 464.6L159.8 462.7L157.9 459.9L154.2 457L153.2 455.1L150.4 453.2L147.5 450.4L144.7 448.5L141.8 449.1L139 447.5L135.2 446L131.4 445.7L127.6 445.7L123.8 444.1L120 444.7L117.2 446L113.4 447L113.8 444.1L109.6 447L107.7 448.9L103.9 451L100.1 452.9L96.4 454.2L92.6 455.1L88.2 455.9L91.6 454L95.4 453L99.2 450.4L102 448.5L100.1 447.9L96.4 447.9L93.5 448.3L93.5 446L89.7 445.7L86.9 443.4L86.9 440.9L88.8 439.6L93.5 439L95.4 437.5L92.6 437.1L87.8 437.1L85 436.2ZM262.2 411.2L271.6 407.8L283 404.5L305.8 403.4L324.7 401.3L343.6 400.9L358.8 403L366.4 404.9L377.8 404.9L368.3 407.8L366.4 411.5L362.6 415.3L364.5 418.2L358.8 421L358.8 423.9L358.8 426.1L353.1 427.6L347.4 429.9L339.9 430.5L334.2 433.3L328.5 434.8L324.7 436.2L321.9 440L319 444.7L316.2 445.8L312.4 444.3L308.6 443.2L305.8 440L302.9 437.1L300.1 434.3L299.1 431.4L302 428.6L298.2 426.7L297.2 424.8L294.4 421L290.6 416.3L283 415L273.5 415.3L266 413.4ZM288.1 469.1L289.6 467.4L291.5 464.6L294.4 461.8L295.3 463.7L294.4 465L298.2 465.5L300.1 467.4L300.4 470.3L298.2 470.9L295.3 470.3L292.5 469.1ZM166.5 467.6L163.6 466.9L158.9 464.6L157.4 463.1L161.7 463.8L164.6 465.5ZM355 435.2L358.8 433.5L366.4 433.9L372.1 433.7L374.9 436.2L372.1 437.5L365.4 439.2L360.7 438.4L357.9 437.7L358.8 436.2ZM253.8 542.9L256.5 541.3L257.4 539.1L259.3 538.3L262.2 537.6L265 535.9L265.4 538.5L267.8 537.6L268.4 536.4L271.1 538.9L275.4 539.3L278.3 540L282.1 539.1L283.4 540.4L284.9 543.2L286.8 543.4L289.6 546.1L292.5 548L296.3 548L299.1 548.7L302 550.3L303.5 551.8L305.8 555.9L305.8 558.8L308.6 560.7L310.5 560.5L315.2 562.2L316.6 564.1L319 563.9L321.9 564.8L324.7 564.7L327.5 566.4L330.4 568.6L333.6 569.4L334.6 573L334.2 576.2L331.3 579.2L329.4 581.7L327.5 584L326.6 587.4L326.6 591.6L325.3 594.4L324.7 597.2L323.2 600.1L321.3 602.6L319 602.9L315.8 603.5L312.8 604.8L309.5 607.3L308.4 610.1L308.4 613.4L305.8 616.2L303.9 619L301.6 620.9L299.1 623.8L296.3 625.5L293.4 625.3L290 624L292.1 626.6L292.5 628.5L291.2 631.7L286.8 633.1L283 633.1L282.4 636.1L279.6 637.4L277.3 636.9L277.3 639.3L279.8 639.9L276.9 641.8L276.4 644.6L272.6 646.5L274.5 648.4L275.6 649.9L272.6 652.6L270.7 654.7L269.4 657.1L270.9 658.6L271.3 659.8L273.5 662.6L276.9 663.2L274.5 664L270.7 664.5L267.8 664L265 662.1L262.2 660.2L259.3 657.9L257.8 654.1L257.4 650.3L257.4 647.8L260.3 644.6L261.2 641.8L260.3 638.9L260.8 635.1L261.2 631.4L261.8 629.5L262.9 626.6L264.6 622.8L265 618.1L265.2 614.3L266.1 610.5L266.9 606.7L267.3 602.9L267.7 599.1L267.3 594.2L265 592.1L261.2 590.2L258 588.3L255.9 585.7L254.2 582.1L252.3 578.3L250.8 574.9L249.1 572.2L246.6 570.7L246.4 567.5L248.3 565.8L248.9 564.1L247.2 563.5L247.6 561.2L248.7 559L248.9 557.8L251 556.7L251.6 554.6L253.4 553.3L254 551.8L253.6 548.9L253.8 546.5L252.9 545.5ZM389.3 491.5L390.5 491.3L394.8 492.5L396.7 492.8L400.5 491.3L403.3 490.2L406.2 489.4L410 489.6L414.7 489.2L419.1 488.7L421.3 489.2L421 492.1L419.8 494.4L421 495.5L422.3 496.4L425.1 497L429.3 498L430.3 499.7L433.7 500.8L436.5 501.9L438.4 500.6L438.4 498.3L441.2 497L444.1 497.6L447.9 499.1L451.7 500L455.5 500.8L458.3 499.7L461.1 499.8L462.1 500.4L462.3 502.5L464 505.7L465.7 509.1L467.8 513.9L470.4 517.7L471.2 520.5L471.6 523.9L473.6 525.2L475.4 530L478.2 531.9L481 535.1L482.6 537L482.4 537.9L484.8 539.5L488.6 538.7L492.4 537.9L497.1 536.8L497.5 539.5L496.2 542.3L494.3 546.1L492.4 549.9L489.6 553.7L485.8 556.5L482.9 559.4L480.1 562.2L477.8 564.1L476.3 566.9L474.4 569.8L475 572.6L475.4 576.4L477.1 579.2L477.4 583L477.6 587.8L475.4 590.6L471.6 592.5L469.7 595L466.8 597.2L467.4 601L467.8 604.8L464 607.1L462.7 608.6L462.7 612.4L460.2 615.3L457.9 618.1L454.5 621.3L451.7 623.2L448.8 623.8L443.1 624.2L438.4 625.3L435.6 624.2L435 620.9L433.7 617.1L431.8 613.5L429.5 610.5L428.5 606.7L428 602L425.5 597.2L422.9 592.5L423.2 588.7L426.1 583L426.7 579.2L425.1 576.4L424.2 571.7L423.6 569.8L422.3 567.5L419.4 564.7L417.6 561.2L418.5 558.4L418.9 555.6L419.1 553.3L417.6 551.4L414.7 551L411.9 551.2L410 548.9L408.1 547.4L405.2 547.4L402.4 548.2L398.6 549.5L394.8 549.9L391 549.7L386.3 551L383.4 549.9L380 547L377.8 545.1L375.5 542.9L374.9 540.8L372.5 538.9L371.1 537.6L368.9 535.9L368.7 533.8L367.5 531.5L369.2 529L369.6 525.2L369.8 522.4L368.3 519.6L370.2 514.8L372.1 512.4L373 509.7L375.5 506.9L378.7 505.3L381.5 503.4L382.1 500.6L383.4 497.4L386.3 495.5L388.2 494ZM493.9 582.1L495.8 588.7L494.5 591.6L493 597.2L491.1 602.9L489.6 606.7L486.3 607.7L483.9 606.7L482.6 602L484.4 597.8L483.9 593.5L484.8 590L488.6 588.7L491.5 584.9ZM389.9 491.1L388.2 489.6L383.4 489.2L382.5 486L383.8 481.7L382.9 477.9L385.3 476.5L390.1 476.9L393.9 477.1L397.1 477.1L398.2 474.8L398.4 472.6L396.3 470.3L392 468.8L391.4 467.4L394.8 466.9L397.5 467.1L397.1 465.2L398.6 465.7L400.9 465.5L403.3 464.2L403.9 462.7L407.1 461.8L409 459.9L410 458.5L413.8 458L416.6 457.4L417 455.1L416 452.3L416.6 451.1L420.4 450L420 452.3L419.4 454.2L419.4 456.1L421.3 457L424.2 456.3L427 457L431.8 456.1L435.6 455.5L437.8 456.3L440.3 454.7L440.3 451.7L441.2 450.4L443.1 450L446 451.1L446.5 448.9L445 447.2L448.8 446.6L453.6 446.4L457.3 445.8L454.5 444.5L449.8 444.9L444.1 445.8L441.2 444.3L440.9 441.9L441.2 439.6L444.1 438.1L447.9 435.8L446 434.7L442.2 434.8L440.3 437.1L436.5 439.4L433.7 441.3L433.1 443.8L435.6 445.7L434.6 447.2L432.1 449.1L431.6 451.9L429.9 453L427.6 454.2L425.1 454.4L424.2 452.7L422.3 449.4L421.3 447.5L420.4 446.6L418.5 447.9L415.7 449.3L412.8 449.1L410.9 447.5L410 444.7L410 441.9L412.8 440.3L416.6 439L420.4 437.5L423.2 435.2L425.1 432.4L428 430.5L431.8 428.6L436.5 426.9L442.2 425.8L448.8 424.6L454.5 425L459.2 426.1L457.3 427.3L463 427.6L468.7 428.4L474.4 430.1L478.6 432L478.2 433.7L473.5 434.1L466.8 433.3L463 433.1L465.9 435.2L466.8 437.3L471.6 438.1L472.5 436.6L476.3 436.9L477.2 434.7L481 433.5L483.9 433.9L484.4 431.4L483.5 429.5L487.7 429.9L488.6 432.4L491.5 431.2L495.2 430.1L500.9 429.9L503.8 430.1L508.5 429.4L512.3 428.8L515.1 427.1L521.8 428L525.6 428.6L527.5 429.5L530.3 429.9L527.5 427.3L527.5 424.8L530.3 421.6L535 421L537.9 422.9L537.9 426.7L536.9 429.5L539.8 432.4L540.7 429.5L541.7 426.7L540.7 422.9L544.5 422.5L548.3 422.5L553 422L554 420.1L561.6 419.3L565.4 417.2L572.9 415.9L580.5 415.1L590 414.4L598.1 412.1L603.3 413.4L610.8 414L615.6 415.9L608.9 418.6L612.7 419.5L618.4 419.9L626 420.8L634.5 420.1L641.2 420.3L645 422.9L645.9 424.8L650.6 423.9L656.3 423.9L662 423.9L665.8 422L671.5 421.6L679.1 422.3L684.8 423.7L690.4 425L698 424.8L703.7 426.7L707.5 427.5L713.2 427.6L718.9 426.9L723.6 426.9L724.5 428.6L730.2 427.1L737.8 427.8L741.6 428.8L741.6 436.2L738.8 437.1L736.9 436.7L740.7 440.9L735.9 440.9L730.2 442.2L723.6 445.7L717 445.1L712.2 446L710 448.5L708.4 450.4L710 452.9L707.5 455.5L703.7 458.5L700.5 460.8L697.4 462.7L695.6 458.9L695.7 454.2L697.1 450.8L700.9 448.5L703.7 445.1L708.4 443.4L710.3 441.3L703.7 442.8L698 442.6L694.2 446.2L688.5 447.5L681.9 446.8L675.3 447L670.5 447.2L665.8 450.4L661.1 454.2L658.2 456.1L661.1 457.4L664.9 456.6L667.7 458.5L668.3 460.8L666.7 463.7L666.4 467.4L663 470.9L659.2 474.1L654.4 477.5L651.6 477.5L648.7 478.8L646.9 479.8L646.3 481.7L643.1 483.6L642.1 484.9L644 486.4L645.7 489.2L645.7 492.1L644 493.2L641.2 494L639.8 493.4L640.2 490.8L640.6 488.9L638.3 487.7L637.4 485.8L637.9 484.3L636 483.7L632.6 484.9L630.4 485.8L631.3 483.2L629.8 481.8L627 483.9L624.1 485.1L623.5 486.4L626 488.3L629.4 487.7L632.6 488.9L629.8 490.2L627 492.5L628.5 494.5L629.8 497.2L631.5 499.7L631.3 501L629.8 501.9L631.7 502.9L630.7 505.3L628.8 507.8L627.3 510.5L625.1 512.7L622.2 514.8L619.4 516.3L616.5 517.1L612.7 518.2L609.9 519.2L609.5 520.9L608.4 518.6L606.1 518.2L603.3 519.6L601.4 522.4L601 524.3L602.9 526.8L605.7 529L607.4 532.8L607.6 536.6L606.1 538.5L603.3 539.6L602.3 541.3L599.5 542.9L599.3 540.4L597.2 539.5L595.3 537L593.8 535.7L591.9 535.1L591.5 533.8L590 534.1L589.6 537.6L588.5 540.4L589.6 541.9L590.6 544.2L591.9 546.5L594.4 547.6L596.3 550.3L596.6 553.7L598 556.7L596.6 556.9L593.8 555L591.9 553.3L590.9 550.8L590.6 548L589.1 546.1L587.2 543.8L586.8 541.3L587.3 538.5L587.3 535.7L586.2 532.8L585.6 530L585.3 528.1L583.4 527.7L581.1 529.4L579.2 528.7L579.6 525.6L578.6 523.3L576.4 520.5L574.8 518.6L573.9 516.3L572 516.7L569.2 517.8L565.4 518.6L564.4 521.1L561.6 522.4L558.7 525.2L556.5 527.5L553.6 529.4L552.3 531.9L552.5 535.1L551.7 538.5L550.8 540L549.3 542.3L547.4 544L545.5 541.9L544.1 537.6L542.2 534.7L541.1 530.9L539.4 527.1L538.5 523.3L538.3 519.9L537.5 518.6L534.1 519.9L531.3 517.1L533.1 516.1L530.3 515.2L528 512.9L526.5 511.2L521.8 511.6L517 511.8L512.3 511.2L509.1 510.5L507.6 508.2L503.8 508.9L500 507.2L497.1 505L495.6 502.5L493 501.9L491.5 502.9L492.4 505.3L494.3 507.6L495.6 509.5L496.8 512L498.1 510.1L498.1 512.7L500 513.5L502.8 513.5L505.7 511.4L507.2 509.5L507.6 512.4L510.4 514.4L513.6 516.7L511.7 519.9L509.8 523.3L507.6 525.2L504.7 527.1L500 529L495.2 530.9L490.5 533.2L485.8 535.1L482.9 535.3L482 532.8L481.4 530L480.1 526.2L477.2 522.4L474.8 518.6L472.5 513.9L469.7 510.1L466.8 506.3L466.6 503.4L465.5 506.7L463 504.8L462.3 502.5L461.7 500.2L464.9 500L466.4 498.1L467.8 495.3L468.5 492.1L469.1 489.8L465.9 489.8L463 490.9L459.2 489.6L456.4 490.8L453.2 489.6L452 487.7L450.7 485.8L451.1 484.5L450.1 483.2L449.8 482.4L446 482L445 483.2L443.7 482.8L443.7 484.9L446 487.3L444.1 488.3L444.5 490.2L442.8 490.2L441.2 488.9L440.7 486.8L439 484.5L437.5 482.6L437.5 480.3L435.6 478.8L432.7 477.5L429.9 476L428 473.7L426.5 472.9L424.2 473.3L423.8 475.4L426.1 476.7L428 479.2L430.8 480.1L430.8 480.9L435.6 483.2L432.7 482.8L432.1 484.5L433.1 485.4L431.8 487L430.3 487.3L430.8 485.4L429.9 483.6L427.6 482L424.2 480.5L421.3 478.8L420 476.9L417.6 475.2L414.7 476.3L411.9 477.7L409 477.1L406.6 477.5L406.6 479.4L404.7 481.1L401.4 482.6L399.9 484.5L400.7 485.8L399.2 487.3L396.7 489.6L392 489.8ZM59.4 428.8L65.1 429.9L70.8 432L75.5 432.6L78.9 434.1L74.6 437.1L71.7 437.3L67.9 435.6L63.2 435.2L59.4 436.2ZM59.4 423.9L63.2 423.9L64.1 424.8L59.4 425ZM741.6 423.9L739.3 424L739.3 424.8L741.6 425ZM390.1 464.4L393.9 464L398.6 463.3L403.2 462.3L403.7 459.7L401.1 458.9L400.1 457L397.7 455.1L396.7 453.2L395.8 450.4L392.9 450L394.8 448.3L391 448.3L389.1 450.4L390.1 453.2L391.4 455.1L394.8 455.5L394.8 458L392 458.5L392.4 460.4L390.6 461.2L393.9 461.9L392 462.7ZM389.1 460.4L385.3 461.6L381.5 461.2L381.5 457L384.8 454.7L388.8 454.7L389.5 456.5L388.8 458.3ZM424.2 487.3L429.9 487L429.3 489.6L424.4 488.3ZM416.2 481.7L418.9 481.7L418.7 485.1L416.6 485.4ZM417 478.2L418.5 478.1L418.1 480.7L417 480.1ZM445.2 492.1L450.1 492.5L449.8 493.2L445.2 492.6ZM461.7 493L465.9 491.9L464.6 493.8L462.1 493.6ZM552.1 541L554.4 543.2L555.5 546.1L553.4 548L551.7 547L551.7 543.2ZM647.2 495.9L646.3 497.2L647.4 500L649.1 499.7L650.3 496.8L652.2 496.8L655.8 495.3L657.8 495.9L659.7 494L662.4 493.6L665.4 493L667.3 491.7L667.7 488.3L669.2 485.4L668.6 481.1L666.4 481.3L665.8 483.9L664.9 486.8L661.1 489.2L659.7 488.7L658.2 491.1L656.9 491.9L652.5 492.1L648.7 494ZM666.2 480.7L668.6 478.8L672.1 479.8L676.2 477.3L673.9 476L669.6 473.1L668.6 476.9L666.4 477.9ZM669.6 472.2L672.4 470.7L671.5 466.5L674.3 466.5L672.1 461.8L671.5 456.5L669.6 458L669.6 462.7L669.6 468.4ZM629.8 517.7L631.3 512.4L629.8 511.6L628.3 514.8ZM606.5 522.8L609.9 521.5L610.8 522.4L608.9 524.7L606.7 524.3ZM607.1 556.5L608.2 555.6L611.4 554.6L614.6 553.1L617.5 550.3L620.3 547L622.2 546.1L624.1 548L626 549.5L624.1 551.2L623.5 553.7L625.6 557.5L623.5 558.4L623.2 561.2L620.9 564.1L620.3 566.6L617.5 566.9L614.6 565.4L611.8 565.4L609.3 564.1L608.9 561.8L607.1 559.4ZM581.1 548.7L584.3 549.5L587.2 552.1L590.6 554.6L592.8 555.9L595.7 558.4L597.2 561.2L599.5 563.7L601.4 565.4L601 570.3L598.5 570.2L594.7 567.3L591.9 564.1L590 561.2L587.7 557.5L585.3 554.6L582.4 551.8ZM600 571.7L602.3 570.7L606.1 571.9L610.5 571.7L614.1 572.6L617.5 574.1L617.1 575.6L612.7 575.1L608 574.1L604.2 573.9L601.9 573ZM648.7 560.9L651.6 560.1L654.4 560.9L654.8 564.1L656.3 565.6L659.2 563.5L662 562.4L666.7 564.1L670.5 565.4L674.3 566.6L676.8 568.8L680 570.7L679.1 572.2L681.9 575.5L685.7 578.7L683.8 579.1L680 577.9L677.2 574.9L674.3 573.8L672.1 575.5L670.2 576.8L667.7 576.6L664.9 574.5L662 575.1L663.3 572.6L662 569.8L658.2 568.1L654.4 566.7L652.2 566.9L650.6 564.8L653.5 564.1L651.2 563.5L648.7 562ZM716.2 587.8L717.5 588.7L717.9 590.6L716.6 589.3ZM736.5 592.5L738.9 592.5L738.8 593.8L736.7 593.6ZM616.9 600.7L621.3 598.4L626 597.2L630.4 595.9L632.3 593.5L632.3 591.6L634.5 592.1L635.5 590L637.4 587.8L640.2 585.9L643.1 587.4L645.9 587.6L646.3 584.9L648.4 582.8L651.6 582.1L652 580.8L656.3 582.3L659.7 582.5L658.2 584.9L657.3 587.8L661.1 589.7L664.9 592.5L667.3 592.5L668.6 588.7L669 584.9L669.6 581.1L670.5 579.6L672.4 583L672.8 586.4L675.8 587.8L676.6 591.6L677.7 595L681 597.2L683.8 601.6L686.3 603.9L689.5 606.7L690.8 609.6L691.4 613.4L690.4 618.1L688.5 621.5L687 623.8L685.1 627.6L684.8 630.4L681 631.2L678.1 633.3L675.3 631.9L672.4 632.9L668.6 631.9L665.8 630.4L664.9 627.6L662.6 626.6L663 624.7L661.1 626.1L661.6 621.9L659.2 624.3L657.8 625.3L656.3 622.8L654.4 621.3L650.6 620L645 619.2L639.3 620.6L635.5 621.9L634.5 623.6L629.8 623.4L627 624.3L624.1 625.7L620.3 625.3L618.4 624.3L619 620.9L619.8 619L618.4 616.2L617.5 613.4L616.2 609.6L615.2 605.8L616 602.4ZM674.7 636.5L678.1 637.2L681.5 636.9L681.3 639.3L680 641.4L677.2 641.8L675.7 639.3ZM727.8 624.5L730.8 627.2L733.1 629.1L735 630.8L738.4 630.6L737.8 632.9L735.9 634.2L735 636.7L732.5 638.2L731.7 636.7L729.9 634L731.4 632.3L731.6 629.5L728.7 626.1ZM727.8 636.1L730.6 638L728.9 640.8L726.8 642.4L724.5 644.6L723.6 646.5L720.8 647.7L717.9 646.9L716 646L718.9 643.1L722.6 640.8L725.5 638.6ZM665.8 420.3L672.4 420.6L671.5 419.5L666.7 419.1ZM104.9 521.8L106.8 521.6L106.8 523L105.3 523.3Z" fill="none" stroke="#666" stroke-width="1.5" stroke-linejoin="round"/>
<path d="M231.8 414.8L248.9 415L252.7 413.4L257.4 410.6L264.1 408.3L275.4 406.2L283 403.4L271.6 402.1L252.7 401.9L233.7 403.4L228.1 405.3L237.5 407.2L234.7 409.6L238.5 411.9L231.8 413.4ZM248.9 418L247 415.7L237.5 414.8L226.2 414.4L218.6 414.4L226.2 417.8L237.5 418.4ZM235.6 410.6L228.1 411.2L220.5 408.7L222.4 405.9L230 406.8L235.6 408.7ZM199.6 417.2L192.1 417.8L184.5 417.6L178.8 415.7L184.5 414.2L193.9 414.4L199.6 415.7ZM218.6 422.9L212.9 423.9L207.2 422L211 419.5L216.7 419.7ZM229 421.4L223.3 422.3L219.5 419.5L224.3 418.9L229 419.7ZM182.6 415L173.1 415.3L169.3 413.4L176.9 412.7L182.6 413.8ZM214.8 417.2L209.1 416.8L205.3 415.3L211 414.2L215.7 415.3ZM218.6 429L213.8 429.4L211.9 428L215.7 426.9L219.5 427.6ZM162.7 422.9L167.4 424.6L173.1 423.9L176.9 421.4L180.7 419.9L178.8 418.6L171.2 418.2L164.6 418.7L165.5 420.6ZM176.9 426.1L180.7 428L185.4 429.2L193.9 429L200.6 428.4L208.2 427.1L209.1 426.1L203.4 424.8L201.5 421.4L196.8 420.4L192.1 421.2L184.5 420.3L179.7 421.4L175.9 422.9ZM277.3 442.2L271.6 441.5L266 440.3L260.3 437.5L253.6 437.5L252.7 436.2L260.3 435.2L261.2 432.4L262.2 430.1L256.5 428.6L251.7 426.7L245.1 426.7L237.5 426.1L231.8 424.8L230.9 422L233.7 419.9L239.4 419.7L247 420.1L252.7 421.4L260.3 423.5L266 424.8L271.6 426.7L273.5 428.6L279.2 431.4L284 433L281.1 436.2L276.4 436.7L278.3 439.4ZM248 438.6L242.3 440.9L235.6 438.4L237.5 435.6L241.3 434.5L246.1 437.1ZM421.3 408.5L427 411.5L432.7 414L436.5 410.6L442.2 411L440.3 408.7L451.7 407.8L438.4 406.8L428.9 408.1ZM582.4 409.6L590 411.2L599.5 410.6L595.7 408.7L586.2 405.9L580.5 406.8ZM491.5 406.8L504.7 407.4L518 406.4L510.4 404.9L495.2 405.9ZM660.1 416.3L671.5 417.2L684.8 416.8L677.2 415.3L663.9 415ZM498.1 424.8L501.9 425.4L508.5 425.6L506.6 422L508.5 419.1L514.2 416.3L523.7 414.4L530.3 413.6L525.6 413.4L514.2 414.8L506.6 416.8L503.8 420.1L499 422.9ZM628.8 524.3L632.1 524.3L632.3 528.1L630.7 530.9L632.6 532.8L635.5 534.7L634.5 535.3L631.7 533.2L629.2 533L628.3 531.3L627.9 528.7ZM631.7 546.1L634.5 543.2L638.3 541L640.2 544.2L639.3 547.4L637.9 548.5L635.5 547L634.2 545.1ZM636 535.7L638.3 536L638.3 539.8L636.4 540ZM631.7 537L634 537.6L634.2 541.7L632.6 541.3ZM622.8 543.2L625.1 541.7L627.3 537.9L626.4 537.9L623.7 541.3ZM628.7 534L630.6 534L630.4 536L629.4 535.9ZM627.5 558L629.8 557.1L633.6 557.5L637.4 556.3L636.4 558.4L633.6 558.6L629.8 558.6L628.5 560.9L630.7 561.1L634.2 560.9L631.7 562.8L630.7 564.1L632.6 566L633.6 568.4L631.7 568.4L630.4 566.6L629.4 564.7L628.7 567.9L628.5 569.8L627 569.8L627 566L625.8 564.5L627 561.2ZM642.1 555.6L644 556.5L643.6 560.3L642.3 558.4ZM643.1 565L648.4 565L648.4 566.2L643.1 566ZM639.3 565.4L641.5 565.4L641.5 566.6L639.3 566.6ZM239.6 517.8L243.2 516L247 515.6L250.8 516.7L254.6 518.6L258.4 520.1L259.9 521.1L257.4 521.6L253.6 521.6L252.7 520.1L249.8 518.4L246.1 517.5L243.2 517.7ZM259.5 524.1L262.2 521.6L266 521.8L269.7 522.8L270.9 524.1L267.8 524.7L265 525.8L262.2 524.9ZM252.1 524.7L254.6 524.3L256.1 525.2L253.6 525.6ZM273.2 524.3L276 524.5L275.8 525.4L273.2 525.2ZM618.4 574.7L622.2 574.9L626 575.1L629.8 575.3L633.6 574.9L633.6 576L627.9 576.2L622.2 576.4L618.4 575.8ZM634.5 578.9L637.4 576.4L641.5 575.3L639.3 577L636.4 578.7ZM626 577.4L628.8 577.2L629.4 578.5L627 578.3ZM681.5 570L684.8 569.2L688.5 567.5L689.1 568.8L685.7 571.1L681.9 570.7ZM686.3 564.3L689.5 566.2L690.4 568.1L689.5 567.7L686.6 565ZM693.7 569.8L695.7 571.7L695.2 572.4L693.5 570.7ZM698 573L702.8 575.1L702.4 575.6L697.6 573.8ZM703.1 577L705.6 577.9L705.2 578.5L703.1 577.7ZM711.3 597.6L716 600.5L717 601.8L714.1 600.7L711.3 598.4ZM284.9 656.6L288.7 656.4L291 657.1L288.7 658.5L284.9 657.9Z" fill="none" stroke="#6a6a6a" stroke-width="2.1" stroke-linejoin="round"/>
<path d="M88.8 456.1L85 457.2L81.2 458.3L77.4 459.3L73.6 460.1L69.8 460.6L66 461.2L62.2 461.4" fill="none" stroke="#6a6a6a" stroke-width="1.6" stroke-dasharray="3.2 1.6" stroke-linecap="round"/>
<path d="M727.4 459.1L732.1 460.1L736.9 460.8L740.7 461.6" fill="none" stroke="#6a6a6a" stroke-width="1.6" stroke-dasharray="3.2 1.6" stroke-linecap="round"/>
<path d="M696.1 464L694.2 466.5L691.4 469.3L688.5 471.2L684.8 472.6L681 474.1L678.1 475.6" fill="none" stroke="#6a6a6a" stroke-width="1.6" stroke-dasharray="3.2 1.6" stroke-linecap="round"/>
<path d="M285.3 530L284.5 532.4L284.9 534.7L284 536.4" fill="none" stroke="#6a6a6a" stroke-width="1.6" stroke-dasharray="3.2 1.6" stroke-linecap="round"/>
<g fill="#6e6e6e">
<circle cx="97.3" cy="518.6" r="0.9"/>
<circle cx="101.1" cy="518.8" r="0.9"/>
<circle cx="103" cy="519.6" r="0.9"/>
<circle cx="67" cy="599.1" r="0.9"/>
<circle cx="74.6" cy="585.5" r="0.9"/>
<circle cx="117.2" cy="592.7" r="0.9"/>
<circle cx="135.2" cy="576.4" r="0.9"/>
<circle cx="193.2" cy="610.7" r="0.9"/>
<circle cx="228.1" cy="560.3" r="0.9"/>
<circle cx="229.4" cy="560.9" r="0.9"/>
<circle cx="277.7" cy="498.1" r="0.9"/>
<circle cx="352.2" cy="487.7" r="0.9"/>
<circle cx="347.4" cy="486.2" r="0.9"/>
<circle cx="369.2" cy="505.7" r="0.9"/>
<circle cx="371.1" cy="506.3" r="0.9"/>
<circle cx="368.3" cy="497.4" r="0.9"/>
<circle cx="355" cy="529" r="0.9"/>
<circle cx="356" cy="530.9" r="0.9"/>
<circle cx="509.5" cy="597.6" r="0.9"/>
<circle cx="505.7" cy="599.3" r="0.9"/>
<circle cx="539.8" cy="551.8" r="0.9"/>
<circle cx="537.9" cy="573.2" r="0.9"/>
<circle cx="576.4" cy="536.6" r="0.9"/>
<circle cx="576.7" cy="544.2" r="0.9"/>
<circle cx="583.9" cy="582.5" r="0.9"/>
<circle cx="600.8" cy="579.2" r="0.9"/>
<circle cx="655.4" cy="545.3" r="0.9"/>
<circle cx="674.9" cy="533.8" r="0.9"/>
<circle cx="676.6" cy="530.5" r="0.9"/>
<circle cx="700.3" cy="546.3" r="0.9"/>
<circle cx="717" cy="542.3" r="0.9"/>
<circle cx="724.5" cy="546.1" r="0.9"/>
<circle cx="728.3" cy="556.7" r="0.9"/>
<circle cx="739.7" cy="575.5" r="0.9"/>
<circle cx="74.9" cy="576.8" r="0.9"/>
<circle cx="718.9" cy="614.3" r="0.9"/>
<circle cx="701.8" cy="619" r="0.9"/>
<circle cx="66" cy="642.7" r="0.9"/>
<circle cx="532.2" cy="652.8" r="0.9"/>
<circle cx="533.1" cy="652.2" r="0.9"/>
<circle cx="472.1" cy="648" r="0.9"/>
<circle cx="498.7" cy="647.3" r="0.9"/>
<circle cx="547.4" cy="631.4" r="0.9"/>
<circle cx="389.7" cy="589.7" r="0.9"/>
<circle cx="373.2" cy="574.5" r="0.9"/>
<circle cx="381.5" cy="635.7" r="0.9"/>
<circle cx="331.3" cy="662.2" r="0.9"/>
<circle cx="330.4" cy="661.9" r="0.9"/>
<circle cx="328.5" cy="661.7" r="0.9"/>
<circle cx="350.3" cy="669.3" r="0.9"/>
<circle cx="675.3" cy="637" r="0.9"/>
<circle cx="646.9" cy="502.5" r="0.9"/>
<circle cx="643.1" cy="509.1" r="0.9"/>
<circle cx="642.7" cy="509.7" r="0.9"/>
<circle cx="635.5" cy="513.1" r="0.9"/>
<circle cx="670" cy="508.2" r="0.9"/>
<circle cx="284.9" cy="531.9" r="0.9"/>
<circle cx="284" cy="528.7" r="0.9"/>
<circle cx="284.3" cy="534.3" r="0.9"/>
<circle cx="287.7" cy="534.3" r="0.9"/>
<circle cx="284.9" cy="539.5" r="0.9"/>
<circle cx="270.1" cy="536.2" r="0.9"/>
<circle cx="267.8" cy="535.7" r="0.9"/>
<circle cx="253.6" cy="512" r="0.9"/>
<circle cx="252.7" cy="509.1" r="0.9"/>
<circle cx="256.5" cy="513.9" r="0.9"/>
<circle cx="261.2" cy="519.6" r="0.9"/>
<circle cx="384.4" cy="424.8" r="0.9"/>
<circle cx="436.5" cy="418.2" r="0.9"/>
<circle cx="364.5" cy="506.3" r="0.9"/>
<circle cx="413" cy="558.8" r="0.9"/>
<circle cx="417" cy="552.7" r="0.9"/>
<circle cx="482.6" cy="581.5" r="0.9"/>
<circle cx="486.2" cy="583.6" r="0.9"/>
<circle cx="505.7" cy="568.1" r="0.9"/>
<circle cx="114.4" cy="590.6" r="0.9"/>
<circle cx="102.2" cy="555.7" r="0.9"/>
<circle cx="679.1" cy="563.1" r="0.9"/>
<circle cx="678.1" cy="638.9" r="0.9"/>
</g>
<g clip-path="url(#dland)"><g clip-path="url(#stipc)"><rect x="59.4" y="388.8" width="682.2" height="290.5" fill="url(#stip)"/></g></g>
</g>
<rect x="59.4" y="388.8" width="682.2" height="290.5" fill="none" stroke="#000" stroke-width="1.5"/>
<rect x="59.4" y="682.2" width="68.47" height="19.6" fill="#a50026"/>
<rect x="127.57" y="682.2" width="68.47" height="19.6" fill="#d73027"/>
<rect x="195.74" y="682.2" width="68.47" height="19.6" fill="#f46d43"/>
<rect x="263.91" y="682.2" width="68.47" height="19.6" fill="#fdae61"/>
<rect x="332.08" y="682.2" width="68.47" height="19.6" fill="#fee090"/>
<rect x="400.25" y="682.2" width="68.47" height="19.6" fill="#e0f3f8"/>
<rect x="468.42" y="682.2" width="68.47" height="19.6" fill="#abd9e9"/>
<rect x="536.59" y="682.2" width="68.47" height="19.6" fill="#74add1"/>
<rect x="604.76" y="682.2" width="68.47" height="19.6" fill="#4575b4"/>
<rect x="672.93" y="682.2" width="68.47" height="19.6" fill="#313695"/>
<text x="126.97" y="723.6" font-size="18.5" text-anchor="middle">-6</text>
<text x="195.14" y="723.6" font-size="18.5" text-anchor="middle">-4</text>
<text x="263.31" y="723.6" font-size="18.5" text-anchor="middle">-2</text>
<text x="331.48" y="723.6" font-size="18.5" text-anchor="middle">-1</text>
<text x="400.25" y="723.6" font-size="18.5" text-anchor="middle">0</text>
<text x="468.42" y="723.6" font-size="18.5" text-anchor="middle">1</text>
<text x="536.59" y="723.6" font-size="18.5" text-anchor="middle">2</text>
<text x="604.76" y="723.6" font-size="18.5" text-anchor="middle">4</text>
<text x="672.93" y="723.6" font-size="18.5" text-anchor="middle">6</text>
<text x="400.3" y="750.8" font-size="20.85" text-anchor="middle">Change in eCO<tspan font-size="13.3" dy="4.5">2</tspan><tspan dy="-4.5">​</tspan>(ind) (gC m<tspan font-size="13.3" dy="-10.5">-2</tspan><tspan dy="10.5">​</tspan> ppm<tspan font-size="13.3" dy="-10.5">-1</tspan><tspan dy="10.5">​</tspan>)</text>
</g>
<g id="panel-d">
<g shape-rendering="crispEdges">
<rect x="76.67" y="792.9" width="16.83" height="7.08" fill="#fee090"/>
<rect x="60.13" y="799.68" width="16.83" height="13.86" fill="#e0f3f8"/>
<rect x="76.67" y="799.68" width="16.83" height="13.86" fill="#fee090"/>
<rect x="93.2" y="799.68" width="16.83" height="13.86" fill="#fdae61"/>
<rect x="109.74" y="799.68" width="16.83" height="13.86" fill="#fdae61"/>
<rect x="126.27" y="799.68" width="16.83" height="13.86" fill="#fdae61"/>
<rect x="142.8" y="799.68" width="16.83" height="13.86" fill="#e0f3f8"/>
<rect x="60.13" y="813.24" width="16.83" height="13.86" fill="#e0f3f8"/>
<rect x="76.67" y="813.24" width="16.83" height="13.86" fill="#fee090"/>
<rect x="93.2" y="813.24" width="16.83" height="13.86" fill="#fee090"/>
<rect x="109.74" y="813.24" width="16.83" height="13.86" fill="#fee090"/>
<rect x="126.27" y="813.24" width="16.83" height="13.86" fill="#e0f3f8"/>
<rect x="142.8" y="813.24" width="16.83" height="13.86" fill="#e0f3f8"/>
<rect x="159.34" y="813.24" width="16.83" height="13.86" fill="#abd9e9"/>
<rect x="175.87" y="813.24" width="16.83" height="13.86" fill="#74add1"/>
<rect x="192.41" y="813.24" width="16.83" height="13.86" fill="#e0f3f8"/>
<rect x="208.94" y="813.24" width="16.83" height="13.86" fill="#fdae61"/>
<rect x="225.47" y="813.24" width="16.83" height="13.86" fill="#fee090"/>
<rect x="242.01" y="813.24" width="16.83" height="13.86" fill="#e0f3f8"/>
<rect x="258.54" y="813.24" width="16.83" height="13.86" fill="#abd9e9"/>
<rect x="275.08" y="813.24" width="16.83" height="13.86" fill="#e0f3f8"/>
<rect x="291.61" y="813.24" width="16.83" height="13.86" fill="#e0f3f8"/>
<rect x="308.14" y="813.24" width="16.83" height="13.86" fill="#e0f3f8"/>
<rect x="324.68" y="813.24" width="16.83" height="13.86" fill="#e0f3f8"/>
<rect x="341.21" y="813.24" width="16.83" height="13.86" fill="#e0f3f8"/>
<rect x="60.13" y="826.8" width="16.83" height="13.86" fill="#e0f3f8"/>
<rect x="76.67" y="826.8" width="16.83" height="13.86" fill="#fee090"/>
<rect x="93.2" y="826.8" width="16.83" height="13.86" fill="#fee090"/>
<rect x="109.74" y="826.8" width="16.83" height="13.86" fill="#abd9e9"/>
<rect x="126.27" y="826.8" width="16.83" height="13.86" fill="#f46d43"/>
<rect x="142.8" y="826.8" width="16.83" height="13.86" fill="#fee090"/>
<rect x="159.34" y="826.8" width="16.83" height="13.86" fill="#abd9e9"/>
<rect x="175.87" y="826.8" width="16.83" height="13.86" fill="#74add1"/>
<rect x="192.41" y="826.8" width="16.83" height="13.86" fill="#74add1"/>
<rect x="208.94" y="826.8" width="16.83" height="13.86" fill="#abd9e9"/>
<rect x="225.47" y="826.8" width="16.83" height="13.86" fill="#abd9e9"/>
<rect x="242.01" y="826.8" width="16.83" height="13.86" fill="#abd9e9"/>
<rect x="258.54" y="826.8" width="16.83" height="13.86" fill="#abd9e9"/>
<rect x="275.08" y="826.8" width="16.83" height="13.86" fill="#74add1"/>
<rect x="291.61" y="826.8" width="16.83" height="13.86" fill="#74add1"/>
<rect x="308.14" y="826.8" width="16.83" height="13.86" fill="#e0f3f8"/>
<rect x="324.68" y="826.8" width="16.83" height="13.86" fill="#e0f3f8"/>
<rect x="341.21" y="826.8" width="16.83" height="13.86" fill="#fee090"/>
<rect x="357.75" y="826.8" width="16.83" height="13.86" fill="#e0f3f8"/>
<rect x="76.67" y="840.36" width="16.83" height="13.86" fill="#fee090"/>
<rect x="93.2" y="840.36" width="16.83" height="13.86" fill="#fee090"/>
<rect x="109.74" y="840.36" width="16.83" height="13.86" fill="#74add1"/>
<rect x="126.27" y="840.36" width="16.83" height="13.86" fill="#4575b4"/>
<rect x="142.8" y="840.36" width="16.83" height="13.86" fill="#e0f3f8"/>
<rect x="159.34" y="840.36" width="16.83" height="13.86" fill="#e0f3f8"/>
<rect x="175.87" y="840.36" width="16.83" height="13.86" fill="#e0f3f8"/>
<rect x="192.41" y="840.36" width="16.83" height="13.86" fill="#74add1"/>
<rect x="208.94" y="840.36" width="16.83" height="13.86" fill="#abd9e9"/>
<rect x="225.47" y="840.36" width="16.83" height="13.86" fill="#abd9e9"/>
<rect x="242.01" y="840.36" width="16.83" height="13.86" fill="#fee090"/>
<rect x="258.54" y="840.36" width="16.83" height="13.86" fill="#e0f3f8"/>
<rect x="275.08" y="840.36" width="16.83" height="13.86" fill="#74add1"/>
<rect x="60.13" y="853.92" width="16.83" height="13.86" fill="#e0f3f8"/>
<rect x="76.67" y="853.92" width="16.83" height="13.86" fill="#fee090"/>
<rect x="93.2" y="853.92" width="16.83" height="13.86" fill="#e0f3f8"/>
<rect x="109.74" y="853.92" width="16.83" height="13.86" fill="#e0f3f8"/>
<rect x="126.27" y="853.92" width="16.83" height="13.86" fill="#fee090"/>
<rect x="142.8" y="853.92" width="16.83" height="13.86" fill="#abd9e9"/>
<rect x="159.34" y="853.92" width="16.83" height="13.86" fill="#fdae61"/>
<rect x="175.87" y="853.92" width="16.83" height="13.86" fill="#fee090"/>
<rect x="192.41" y="853.92" width="16.83" height="13.86" fill="#e0f3f8"/>
<rect x="208.94" y="853.92" width="16.83" height="13.86" fill="#fee090"/>
<rect x="258.54" y="853.92" width="16.83" height="13.86" fill="#abd9e9"/>
<rect x="60.13" y="867.48" width="16.83" height="13.86" fill="#fee090"/>
<rect x="76.67" y="867.48" width="16.83" height="13.86" fill="#fee090"/>
<rect x="93.2" y="867.48" width="16.83" height="13.86" fill="#fee090"/>
<rect x="109.74" y="867.48" width="16.83" height="13.86" fill="#fdae61"/>
<rect x="126.27" y="867.48" width="16.83" height="13.86" fill="#fdae61"/>
<rect x="142.8" y="867.48" width="16.83" height="13.86" fill="#fdae61"/>
<rect x="159.34" y="867.48" width="16.83" height="13.86" fill="#fdae61"/>
<rect x="175.87" y="867.48" width="16.83" height="13.86" fill="#e0f3f8"/>
<rect x="192.41" y="867.48" width="16.83" height="13.86" fill="#e0f3f8"/>
<rect x="208.94" y="867.48" width="16.83" height="13.86" fill="#fee090"/>
<rect x="76.67" y="881.04" width="16.83" height="13.86" fill="#e0f3f8"/>
<rect x="93.2" y="881.04" width="16.83" height="13.86" fill="#fee090"/>
<rect x="109.74" y="881.04" width="16.83" height="13.86" fill="#fee090"/>
<rect x="126.27" y="881.04" width="16.83" height="13.86" fill="#fdae61"/>
<rect x="142.8" y="881.04" width="16.83" height="13.86" fill="#f46d43"/>
<rect x="159.34" y="881.04" width="16.83" height="13.86" fill="#fee090"/>
<rect x="175.87" y="881.04" width="16.83" height="13.86" fill="#fee090"/>
<rect x="192.41" y="881.04" width="16.83" height="13.86" fill="#fee090"/>
<rect x="208.94" y="881.04" width="16.83" height="13.86" fill="#e0f3f8"/>
<rect x="60.13" y="894.6" width="16.83" height="13.86" fill="#fee090"/>
<rect x="76.67" y="894.6" width="16.83" height="13.86" fill="#fee090"/>
<rect x="93.2" y="894.6" width="16.83" height="13.86" fill="#fee090"/>
<rect x="109.74" y="894.6" width="16.83" height="13.86" fill="#e0f3f8"/>
<rect x="126.27" y="894.6" width="16.83" height="13.86" fill="#fee090"/>
<rect x="142.8" y="894.6" width="16.83" height="13.86" fill="#fee090"/>
<rect x="159.34" y="894.6" width="16.83" height="13.86" fill="#e0f3f8"/>
<rect x="175.87" y="894.6" width="16.83" height="13.86" fill="#fee090"/>
<rect x="192.41" y="894.6" width="16.83" height="13.86" fill="#fee090"/>
<rect x="208.94" y="894.6" width="16.83" height="13.86" fill="#fee090"/>
<rect x="60.13" y="908.16" width="16.83" height="13.86" fill="#fee090"/>
<rect x="76.67" y="908.16" width="16.83" height="13.86" fill="#fee090"/>
<rect x="93.2" y="908.16" width="16.83" height="13.86" fill="#e0f3f8"/>
<rect x="109.74" y="908.16" width="16.83" height="13.86" fill="#fee090"/>
<rect x="126.27" y="908.16" width="16.83" height="13.86" fill="#fee090"/>
<rect x="142.8" y="908.16" width="16.83" height="13.86" fill="#e0f3f8"/>
<rect x="159.34" y="908.16" width="16.83" height="13.86" fill="#e0f3f8"/>
<rect x="175.87" y="908.16" width="16.83" height="13.86" fill="#e0f3f8"/>
<rect x="192.41" y="908.16" width="16.83" height="13.86" fill="#fdae61"/>
<rect x="225.47" y="908.16" width="16.83" height="13.86" fill="#fdae61"/>
<rect x="76.67" y="921.72" width="16.83" height="13.86" fill="#e0f3f8"/>
<rect x="93.2" y="921.72" width="16.83" height="13.86" fill="#abd9e9"/>
<rect x="109.74" y="921.72" width="16.83" height="13.86" fill="#fdae61"/>
<rect x="126.27" y="921.72" width="16.83" height="13.86" fill="#fee090"/>
<rect x="142.8" y="921.72" width="16.83" height="13.86" fill="#abd9e9"/>
<rect x="159.34" y="921.72" width="16.83" height="13.86" fill="#e0f3f8"/>
<rect x="175.87" y="921.72" width="16.83" height="13.86" fill="#e0f3f8"/>
<rect x="192.41" y="921.72" width="16.83" height="13.86" fill="#fee090"/>
<rect x="208.94" y="921.72" width="16.83" height="13.86" fill="#fee090"/>
<rect x="76.67" y="935.28" width="16.83" height="13.86" fill="#fee090"/>
<rect x="93.2" y="935.28" width="16.83" height="13.86" fill="#fee090"/>
<rect x="109.74" y="935.28" width="16.83" height="13.86" fill="#fee090"/>
<rect x="126.27" y="935.28" width="16.83" height="13.86" fill="#fdae61"/>
<rect x="142.8" y="935.28" width="16.83" height="13.86" fill="#fee090"/>
<rect x="159.34" y="935.28" width="16.83" height="13.86" fill="#fdae61"/>
<rect x="175.87" y="935.28" width="16.83" height="13.86" fill="#fee090"/>
<rect x="208.94" y="935.28" width="16.83" height="13.86" fill="#fdae61"/>
<rect x="76.67" y="948.84" width="16.83" height="13.86" fill="#fdae61"/>
<rect x="93.2" y="948.84" width="16.83" height="13.86" fill="#fdae61"/>
<rect x="109.74" y="948.84" width="16.83" height="13.86" fill="#fee090"/>
<rect x="126.27" y="948.84" width="16.83" height="13.86" fill="#fdae61"/>
<rect x="142.8" y="948.84" width="16.83" height="13.86" fill="#fdae61"/>
<rect x="159.34" y="948.84" width="16.83" height="13.86" fill="#f46d43"/>
<rect x="175.87" y="948.84" width="16.83" height="13.86" fill="#fee090"/>
<rect x="192.41" y="948.84" width="16.83" height="13.86" fill="#e0f3f8"/>
<rect x="76.67" y="962.4" width="16.83" height="13.86" fill="#f46d43"/>
<rect x="93.2" y="962.4" width="16.83" height="13.86" fill="#f46d43"/>
<rect x="109.74" y="962.4" width="16.83" height="13.86" fill="#fee090"/>
<rect x="126.27" y="962.4" width="16.83" height="13.86" fill="#f46d43"/>
<rect x="142.8" y="962.4" width="16.83" height="13.86" fill="#fee090"/>
<rect x="159.34" y="962.4" width="16.83" height="13.86" fill="#fdae61"/>
<rect x="175.87" y="962.4" width="16.83" height="13.86" fill="#e0f3f8"/>
<rect x="76.67" y="975.96" width="16.83" height="13.86" fill="#fdae61"/>
<rect x="93.2" y="975.96" width="16.83" height="13.86" fill="#f46d43"/>
<rect x="109.74" y="975.96" width="16.83" height="13.86" fill="#fdae61"/>
<rect x="126.27" y="975.96" width="16.83" height="13.86" fill="#f46d43"/>
<rect x="142.8" y="975.96" width="16.83" height="13.86" fill="#fdae61"/>
<rect x="159.34" y="975.96" width="16.83" height="13.86" fill="#fdae61"/>
<rect x="175.87" y="975.96" width="16.83" height="13.86" fill="#fdae61"/>
<rect x="76.67" y="989.52" width="16.83" height="13.86" fill="#74add1"/>
<rect x="93.2" y="989.52" width="16.83" height="13.86" fill="#f46d43"/>
<rect x="109.74" y="989.52" width="16.83" height="13.86" fill="#f46d43"/>
<rect x="126.27" y="989.52" width="16.83" height="13.86" fill="#f46d43"/>
<rect x="142.8" y="989.52" width="16.83" height="13.86" fill="#f46d43"/>
<rect x="159.34" y="989.52" width="16.83" height="13.86" fill="#fdae61"/>
<rect x="192.41" y="989.52" width="16.83" height="13.86" fill="#e0f3f8"/>
<rect x="76.67" y="1003.08" width="16.83" height="13.86" fill="#e0f3f8"/>
<rect x="93.2" y="1003.08" width="16.83" height="13.86" fill="#fdae61"/>
<rect x="109.74" y="1003.08" width="16.83" height="13.86" fill="#f46d43"/>
<rect x="126.27" y="1003.08" width="16.83" height="13.86" fill="#f46d43"/>
<rect x="142.8" y="1003.08" width="16.83" height="13.86" fill="#fdae61"/>
<rect x="159.34" y="1003.08" width="16.83" height="13.86" fill="#fee090"/>
<rect x="175.87" y="1003.08" width="16.83" height="13.86" fill="#e0f3f8"/>
<rect x="76.67" y="1016.64" width="16.83" height="13.86" fill="#f46d43"/>
<rect x="93.2" y="1016.64" width="16.83" height="13.86" fill="#f46d43"/>
<rect x="109.74" y="1016.64" width="16.83" height="13.86" fill="#fdae61"/>
<rect x="126.27" y="1016.64" width="16.83" height="13.86" fill="#fdae61"/>
<rect x="142.8" y="1016.64" width="16.83" height="13.86" fill="#fee090"/>
<rect x="93.2" y="1030.2" width="16.83" height="13.86" fill="#fdae61"/>
<rect x="109.74" y="1030.2" width="16.83" height="13.86" fill="#fdae61"/>
<rect x="126.27" y="1030.2" width="16.83" height="13.86" fill="#fdae61"/>
<rect x="76.67" y="1043.76" width="16.83" height="13.86" fill="#fdae61"/>
<rect x="93.2" y="1043.76" width="16.83" height="13.86" fill="#fee090"/>
<rect x="109.74" y="1043.76" width="16.83" height="13.86" fill="#fdae61"/>
<rect x="126.27" y="1043.76" width="16.83" height="13.86" fill="#f46d43"/>
<rect x="76.67" y="1057.32" width="16.83" height="13.86" fill="#fee090"/>
<rect x="93.2" y="1057.32" width="16.83" height="13.86" fill="#fee090"/>
<rect x="109.74" y="1057.32" width="16.83" height="13.86" fill="#fee090"/>
<rect x="76.67" y="1070.88" width="16.83" height="13.52" fill="#e0f3f8"/>
<rect x="93.2" y="1070.88" width="16.83" height="13.52" fill="#e0f3f8"/>
<rect x="109.74" y="1070.88" width="16.83" height="13.52" fill="#e0f3f8"/>
</g>
<circle cx="151.07" cy="820.02" r="1.3" fill="#000"/>
<circle cx="167.6" cy="820.02" r="1.3" fill="#000"/>
<circle cx="200.67" cy="820.02" r="1.3" fill="#000"/>
<circle cx="217.21" cy="820.02" r="1.3" fill="#000"/>
<circle cx="233.74" cy="820.02" r="1.3" fill="#000"/>
<circle cx="151.07" cy="833.58" r="1.3" fill="#000"/>
<circle cx="167.6" cy="833.58" r="1.3" fill="#000"/>
<circle cx="184.14" cy="833.58" r="1.3" fill="#000"/>
<circle cx="217.21" cy="833.58" r="1.3" fill="#000"/>
<circle cx="84.93" cy="847.14" r="1.3" fill="#000"/>
<circle cx="167.6" cy="847.14" r="1.3" fill="#000"/>
<circle cx="184.14" cy="847.14" r="1.3" fill="#000"/>
<circle cx="200.67" cy="847.14" r="1.3" fill="#000"/>
<circle cx="184.14" cy="860.7" r="1.3" fill="#000"/>
<circle cx="200.67" cy="874.26" r="1.3" fill="#000"/>
<circle cx="151.07" cy="887.82" r="1.3" fill="#000"/>
<circle cx="167.6" cy="887.82" r="1.3" fill="#000"/>
<circle cx="167.6" cy="901.38" r="1.3" fill="#000"/>
<circle cx="200.67" cy="901.38" r="1.3" fill="#000"/>
<circle cx="217.21" cy="901.38" r="1.3" fill="#000"/>
<circle cx="134.54" cy="914.94" r="1.3" fill="#000"/>
<circle cx="200.67" cy="914.94" r="1.3" fill="#000"/>
<circle cx="233.74" cy="914.94" r="1.3" fill="#000"/>
<circle cx="134.54" cy="928.5" r="1.3" fill="#000"/>
<circle cx="167.6" cy="928.5" r="1.3" fill="#000"/>
<circle cx="184.14" cy="928.5" r="1.3" fill="#000"/>
<circle cx="200.67" cy="928.5" r="1.3" fill="#000"/>
<circle cx="217.21" cy="928.5" r="1.3" fill="#000"/>
<circle cx="84.93" cy="942.06" r="1.3" fill="#000"/>
<circle cx="118" cy="942.06" r="1.3" fill="#000"/>
<circle cx="167.6" cy="942.06" r="1.3" fill="#000"/>
<circle cx="184.14" cy="942.06" r="1.3" fill="#000"/>
<circle cx="217.21" cy="942.06" r="1.3" fill="#000"/>
<circle cx="101.47" cy="955.62" r="1.3" fill="#000"/>
<circle cx="118" cy="955.62" r="1.3" fill="#000"/>
<circle cx="134.54" cy="955.62" r="1.3" fill="#000"/>
<circle cx="151.07" cy="955.62" r="1.3" fill="#000"/>
<circle cx="167.6" cy="955.62" r="1.3" fill="#000"/>
<circle cx="184.14" cy="955.62" r="1.3" fill="#000"/>
<circle cx="200.67" cy="955.62" r="1.3" fill="#000"/>
<circle cx="101.47" cy="969.18" r="1.3" fill="#000"/>
<circle cx="118" cy="969.18" r="1.3" fill="#000"/>
<circle cx="134.54" cy="969.18" r="1.3" fill="#000"/>
<circle cx="151.07" cy="969.18" r="1.3" fill="#000"/>
<circle cx="167.6" cy="969.18" r="1.3" fill="#000"/>
<circle cx="184.14" cy="969.18" r="1.3" fill="#000"/>
<circle cx="101.47" cy="982.74" r="1.3" fill="#000"/>
<circle cx="118" cy="982.74" r="1.3" fill="#000"/>
<circle cx="134.54" cy="982.74" r="1.3" fill="#000"/>
<circle cx="151.07" cy="982.74" r="1.3" fill="#000"/>
<circle cx="167.6" cy="982.74" r="1.3" fill="#000"/>
<circle cx="184.14" cy="982.74" r="1.3" fill="#000"/>
<circle cx="101.47" cy="996.3" r="1.3" fill="#000"/>
<circle cx="118" cy="996.3" r="1.3" fill="#000"/>
<circle cx="134.54" cy="996.3" r="1.3" fill="#000"/>
<circle cx="151.07" cy="996.3" r="1.3" fill="#000"/>
<circle cx="167.6" cy="996.3" r="1.3" fill="#000"/>
<circle cx="200.67" cy="996.3" r="1.3" fill="#000"/>
<circle cx="101.47" cy="1009.86" r="1.3" fill="#000"/>
<circle cx="118" cy="1009.86" r="1.3" fill="#000"/>
<circle cx="134.54" cy="1009.86" r="1.3" fill="#000"/>
<circle cx="151.07" cy="1009.86" r="1.3" fill="#000"/>
<circle cx="167.6" cy="1009.86" r="1.3" fill="#000"/>
<circle cx="184.14" cy="1009.86" r="1.3" fill="#000"/>
<circle cx="84.93" cy="1023.42" r="1.3" fill="#000"/>
<circle cx="101.47" cy="1023.42" r="1.3" fill="#000"/>
<circle cx="118" cy="1023.42" r="1.3" fill="#000"/>
<circle cx="134.54" cy="1023.42" r="1.3" fill="#000"/>
<circle cx="151.07" cy="1023.42" r="1.3" fill="#000"/>
<circle cx="101.47" cy="1036.98" r="1.3" fill="#000"/>
<circle cx="118" cy="1036.98" r="1.3" fill="#000"/>
<circle cx="134.54" cy="1036.98" r="1.3" fill="#000"/>
<circle cx="84.93" cy="1050.54" r="1.3" fill="#000"/>
<circle cx="101.47" cy="1050.54" r="1.3" fill="#000"/>
<circle cx="118" cy="1050.54" r="1.3" fill="#000"/>
<circle cx="134.54" cy="1050.54" r="1.3" fill="#000"/>
<circle cx="84.93" cy="1064.1" r="1.3" fill="#000"/>
<circle cx="101.47" cy="1064.1" r="1.3" fill="#000"/>
<circle cx="118" cy="1064.1" r="1.3" fill="#000"/>
<circle cx="84.93" cy="1077.66" r="1.3" fill="#000"/>
<circle cx="101.47" cy="1077.66" r="1.3" fill="#000"/>
<circle cx="118" cy="1077.66" r="1.3" fill="#000"/>
<rect x="59.9" y="792.9" width="339.3" height="291.2" fill="none" stroke="#000" stroke-width="1.5"/>
<line x1="59.9" y1="860.7" x2="69.4" y2="860.7" stroke="#000" stroke-width="1.3"/>
<text x="48.8" y="866.5" font-size="18.5" text-anchor="end">20</text>
<line x1="59.9" y1="928.5" x2="69.4" y2="928.5" stroke="#000" stroke-width="1.3"/>
<text x="48.8" y="934.3" font-size="18.5" text-anchor="end">10</text>
<line x1="59.9" y1="996.3" x2="69.4" y2="996.3" stroke="#000" stroke-width="1.3"/>
<text x="48.8" y="1002.1" font-size="18.5" text-anchor="end">0</text>
<line x1="59.9" y1="1064.1" x2="69.4" y2="1064.1" stroke="#000" stroke-width="1.3"/>
<text x="48.8" y="1069.9" font-size="18.5" text-anchor="end">-10</text>
<text x="48.8" y="798.7" font-size="18.5" text-anchor="end">30</text>
<line x1="68.4" y1="1084.1" x2="68.4" y2="1074.3" stroke="#000" stroke-width="1.3"/>
<text x="68.4" y="1108.9" font-size="18.5" text-anchor="middle">0</text>
<line x1="151.07" y1="1084.1" x2="151.07" y2="1074.3" stroke="#000" stroke-width="1.3"/>
<text x="151.07" y="1108.9" font-size="18.5" text-anchor="middle">1000</text>
<line x1="233.74" y1="1084.1" x2="233.74" y2="1074.3" stroke="#000" stroke-width="1.3"/>
<text x="233.74" y="1108.9" font-size="18.5" text-anchor="middle">2000</text>
<line x1="316.41" y1="1084.1" x2="316.41" y2="1074.3" stroke="#000" stroke-width="1.3"/>
<text x="316.41" y="1108.9" font-size="18.5" text-anchor="middle">3000</text>
</g>
<g id="panel-e">
<g shape-rendering="crispEdges">
<rect x="419.48" y="799.68" width="16.86" height="13.86" fill="#fee090"/>
<rect x="436.04" y="799.68" width="16.86" height="13.86" fill="#f46d43"/>
<rect x="452.6" y="799.68" width="16.86" height="13.86" fill="#f46d43"/>
<rect x="469.16" y="799.68" width="16.86" height="13.86" fill="#e0f3f8"/>
<rect x="485.72" y="799.68" width="16.86" height="13.86" fill="#fdae61"/>
<rect x="403.3" y="813.24" width="16.48" height="13.86" fill="#fdae61"/>
<rect x="419.48" y="813.24" width="16.86" height="13.86" fill="#fee090"/>
<rect x="436.04" y="813.24" width="16.86" height="13.86" fill="#fdae61"/>
<rect x="452.6" y="813.24" width="16.86" height="13.86" fill="#e0f3f8"/>
<rect x="469.16" y="813.24" width="16.86" height="13.86" fill="#f46d43"/>
<rect x="485.72" y="813.24" width="16.86" height="13.86" fill="#abd9e9"/>
<rect x="502.28" y="813.24" width="16.86" height="13.86" fill="#f46d43"/>
<rect x="518.84" y="813.24" width="16.86" height="13.86" fill="#fdae61"/>
<rect x="535.4" y="813.24" width="16.86" height="13.86" fill="#e0f3f8"/>
<rect x="551.96" y="813.24" width="16.86" height="13.86" fill="#e0f3f8"/>
<rect x="568.52" y="813.24" width="16.86" height="13.86" fill="#fee090"/>
<rect x="585.08" y="813.24" width="16.86" height="13.86" fill="#fee090"/>
<rect x="601.64" y="813.24" width="16.86" height="13.86" fill="#e0f3f8"/>
<rect x="618.2" y="813.24" width="16.86" height="13.86" fill="#74add1"/>
<rect x="634.76" y="813.24" width="16.86" height="13.86" fill="#abd9e9"/>
<rect x="651.32" y="813.24" width="16.86" height="13.86" fill="#abd9e9"/>
<rect x="667.88" y="813.24" width="16.86" height="13.86" fill="#fdae61"/>
<rect x="684.44" y="813.24" width="16.86" height="13.86" fill="#abd9e9"/>
<rect x="403.3" y="826.8" width="16.48" height="13.86" fill="#fdae61"/>
<rect x="419.48" y="826.8" width="16.86" height="13.86" fill="#e0f3f8"/>
<rect x="436.04" y="826.8" width="16.86" height="13.86" fill="#fee090"/>
<rect x="452.6" y="826.8" width="16.86" height="13.86" fill="#74add1"/>
<rect x="469.16" y="826.8" width="16.86" height="13.86" fill="#74add1"/>
<rect x="485.72" y="826.8" width="16.86" height="13.86" fill="#fee090"/>
<rect x="502.28" y="826.8" width="16.86" height="13.86" fill="#fee090"/>
<rect x="518.84" y="826.8" width="16.86" height="13.86" fill="#abd9e9"/>
<rect x="535.4" y="826.8" width="16.86" height="13.86" fill="#fee090"/>
<rect x="551.96" y="826.8" width="16.86" height="13.86" fill="#e0f3f8"/>
<rect x="568.52" y="826.8" width="16.86" height="13.86" fill="#e0f3f8"/>
<rect x="585.08" y="826.8" width="16.86" height="13.86" fill="#e0f3f8"/>
<rect x="601.64" y="826.8" width="16.86" height="13.86" fill="#fee090"/>
<rect x="618.2" y="826.8" width="16.86" height="13.86" fill="#abd9e9"/>
<rect x="634.76" y="826.8" width="16.86" height="13.86" fill="#e0f3f8"/>
<rect x="651.32" y="826.8" width="16.86" height="13.86" fill="#abd9e9"/>
<rect x="667.88" y="826.8" width="16.86" height="13.86" fill="#74add1"/>
<rect x="684.44" y="826.8" width="16.86" height="13.86" fill="#fee090"/>
<rect x="403.3" y="840.36" width="16.48" height="13.86" fill="#abd9e9"/>
<rect x="419.48" y="840.36" width="16.86" height="13.86" fill="#fee090"/>
<rect x="436.04" y="840.36" width="16.86" height="13.86" fill="#e0f3f8"/>
<rect x="452.6" y="840.36" width="16.86" height="13.86" fill="#4575b4"/>
<rect x="469.16" y="840.36" width="16.86" height="13.86" fill="#fee090"/>
<rect x="485.72" y="840.36" width="16.86" height="13.86" fill="#fdae61"/>
<rect x="502.28" y="840.36" width="16.86" height="13.86" fill="#e0f3f8"/>
<rect x="518.84" y="840.36" width="16.86" height="13.86" fill="#abd9e9"/>
<rect x="535.4" y="840.36" width="16.86" height="13.86" fill="#74add1"/>
<rect x="551.96" y="840.36" width="16.86" height="13.86" fill="#fee090"/>
<rect x="568.52" y="840.36" width="16.86" height="13.86" fill="#74add1"/>
<rect x="585.08" y="840.36" width="16.86" height="13.86" fill="#74add1"/>
<rect x="601.64" y="840.36" width="16.86" height="13.86" fill="#313695"/>
<rect x="618.2" y="840.36" width="16.86" height="13.86" fill="#4575b4"/>
<rect x="634.76" y="840.36" width="16.86" height="13.86" fill="#313695"/>
<rect x="403.3" y="853.92" width="16.48" height="13.86" fill="#e0f3f8"/>
<rect x="419.48" y="853.92" width="16.86" height="13.86" fill="#fee090"/>
<rect x="436.04" y="853.92" width="16.86" height="13.86" fill="#4575b4"/>
<rect x="452.6" y="853.92" width="16.86" height="13.86" fill="#4575b4"/>
<rect x="469.16" y="853.92" width="16.86" height="13.86" fill="#313695"/>
<rect x="485.72" y="853.92" width="16.86" height="13.86" fill="#e0f3f8"/>
<rect x="502.28" y="853.92" width="16.86" height="13.86" fill="#e0f3f8"/>
<rect x="518.84" y="853.92" width="16.86" height="13.86" fill="#74add1"/>
<rect x="535.4" y="853.92" width="16.86" height="13.86" fill="#4575b4"/>
<rect x="551.96" y="853.92" width="16.86" height="13.86" fill="#74add1"/>
<rect x="568.52" y="853.92" width="16.86" height="13.86" fill="#fee090"/>
<rect x="403.3" y="867.48" width="16.48" height="13.86" fill="#fee090"/>
<rect x="419.48" y="867.48" width="16.86" height="13.86" fill="#e0f3f8"/>
<rect x="436.04" y="867.48" width="16.86" height="13.86" fill="#4575b4"/>
<rect x="452.6" y="867.48" width="16.86" height="13.86" fill="#abd9e9"/>
<rect x="469.16" y="867.48" width="16.86" height="13.86" fill="#e0f3f8"/>
<rect x="485.72" y="867.48" width="16.86" height="13.86" fill="#e0f3f8"/>
<rect x="502.28" y="867.48" width="16.86" height="13.86" fill="#74add1"/>
<rect x="518.84" y="867.48" width="16.86" height="13.86" fill="#74add1"/>
<rect x="535.4" y="867.48" width="16.86" height="13.86" fill="#abd9e9"/>
<rect x="551.96" y="867.48" width="16.86" height="13.86" fill="#74add1"/>
<rect x="403.3" y="881.04" width="16.48" height="13.86" fill="#f46d43"/>
<rect x="419.48" y="881.04" width="16.86" height="13.86" fill="#fdae61"/>
<rect x="436.04" y="881.04" width="16.86" height="13.86" fill="#fee090"/>
<rect x="452.6" y="881.04" width="16.86" height="13.86" fill="#d73027"/>
<rect x="469.16" y="881.04" width="16.86" height="13.86" fill="#fee090"/>
<rect x="485.72" y="881.04" width="16.86" height="13.86" fill="#e0f3f8"/>
<rect x="502.28" y="881.04" width="16.86" height="13.86" fill="#74add1"/>
<rect x="518.84" y="881.04" width="16.86" height="13.86" fill="#313695"/>
<rect x="535.4" y="881.04" width="16.86" height="13.86" fill="#74add1"/>
<rect x="403.3" y="894.6" width="16.48" height="13.86" fill="#e0f3f8"/>
<rect x="419.48" y="894.6" width="16.86" height="13.86" fill="#fee090"/>
<rect x="436.04" y="894.6" width="16.86" height="13.86" fill="#abd9e9"/>
<rect x="452.6" y="894.6" width="16.86" height="13.86" fill="#f46d43"/>
<rect x="469.16" y="894.6" width="16.86" height="13.86" fill="#d73027"/>
<rect x="485.72" y="894.6" width="16.86" height="13.86" fill="#fee090"/>
<rect x="502.28" y="894.6" width="16.86" height="13.86" fill="#4575b4"/>
<rect x="518.84" y="894.6" width="16.86" height="13.86" fill="#fee090"/>
<rect x="403.3" y="908.16" width="16.48" height="13.86" fill="#e0f3f8"/>
<rect x="419.48" y="908.16" width="16.86" height="13.86" fill="#fee090"/>
<rect x="436.04" y="908.16" width="16.86" height="13.86" fill="#f46d43"/>
<rect x="452.6" y="908.16" width="16.86" height="13.86" fill="#e0f3f8"/>
<rect x="469.16" y="908.16" width="16.86" height="13.86" fill="#f46d43"/>
<rect x="485.72" y="908.16" width="16.86" height="13.86" fill="#abd9e9"/>
<rect x="502.28" y="908.16" width="16.86" height="13.86" fill="#74add1"/>
<rect x="403.3" y="921.72" width="16.48" height="13.86" fill="#e0f3f8"/>
<rect x="419.48" y="921.72" width="16.86" height="13.86" fill="#e0f3f8"/>
<rect x="436.04" y="921.72" width="16.86" height="13.86" fill="#abd9e9"/>
<rect x="452.6" y="921.72" width="16.86" height="13.86" fill="#abd9e9"/>
<rect x="469.16" y="921.72" width="16.86" height="13.86" fill="#fee090"/>
<rect x="485.72" y="921.72" width="16.86" height="13.86" fill="#f46d43"/>
<rect x="502.28" y="921.72" width="16.86" height="13.86" fill="#abd9e9"/>
<rect x="403.3" y="935.28" width="16.48" height="13.86" fill="#fdae61"/>
<rect x="419.48" y="935.28" width="16.86" height="13.86" fill="#e0f3f8"/>
<rect x="436.04" y="935.28" width="16.86" height="13.86" fill="#abd9e9"/>
<rect x="452.6" y="935.28" width="16.86" height="13.86" fill="#fdae61"/>
<rect x="469.16" y="935.28" width="16.86" height="13.86" fill="#fdae61"/>
<rect x="485.72" y="935.28" width="16.86" height="13.86" fill="#d73027"/>
<rect x="502.28" y="935.28" width="16.86" height="13.86" fill="#d73027"/>
<rect x="518.84" y="935.28" width="16.86" height="13.86" fill="#313695"/>
<rect x="403.3" y="948.84" width="16.48" height="13.86" fill="#fee090"/>
<rect x="419.48" y="948.84" width="16.86" height="13.86" fill="#fee090"/>
<rect x="436.04" y="948.84" width="16.86" height="13.86" fill="#abd9e9"/>
<rect x="452.6" y="948.84" width="16.86" height="13.86" fill="#4575b4"/>
<rect x="469.16" y="948.84" width="16.86" height="13.86" fill="#e0f3f8"/>
<rect x="485.72" y="948.84" width="16.86" height="13.86" fill="#4575b4"/>
<rect x="502.28" y="948.84" width="16.86" height="13.86" fill="#a50026"/>
<rect x="518.84" y="948.84" width="16.86" height="13.86" fill="#4575b4"/>
<rect x="403.3" y="962.4" width="16.48" height="13.86" fill="#f46d43"/>
<rect x="419.48" y="962.4" width="16.86" height="13.86" fill="#d73027"/>
<rect x="436.04" y="962.4" width="16.86" height="13.86" fill="#e0f3f8"/>
<rect x="452.6" y="962.4" width="16.86" height="13.86" fill="#e0f3f8"/>
<rect x="469.16" y="962.4" width="16.86" height="13.86" fill="#74add1"/>
<rect x="485.72" y="962.4" width="16.86" height="13.86" fill="#fdae61"/>
<rect x="502.28" y="962.4" width="16.86" height="13.86" fill="#f46d43"/>
<rect x="518.84" y="962.4" width="16.86" height="13.86" fill="#d73027"/>
<rect x="403.3" y="975.96" width="16.48" height="13.86" fill="#d73027"/>
<rect x="419.48" y="975.96" width="16.86" height="13.86" fill="#fee090"/>
<rect x="436.04" y="975.96" width="16.86" height="13.86" fill="#f46d43"/>
<rect x="452.6" y="975.96" width="16.86" height="13.86" fill="#f46d43"/>
<rect x="469.16" y="975.96" width="16.86" height="13.86" fill="#4575b4"/>
<rect x="485.72" y="975.96" width="16.86" height="13.86" fill="#f46d43"/>
<rect x="502.28" y="975.96" width="16.86" height="13.86" fill="#f46d43"/>
<rect x="518.84" y="975.96" width="16.86" height="13.86" fill="#a50026"/>
<rect x="403.3" y="989.52" width="16.48" height="13.86" fill="#fee090"/>
<rect x="419.48" y="989.52" width="16.86" height="13.86" fill="#a50026"/>
<rect x="436.04" y="989.52" width="16.86" height="13.86" fill="#d73027"/>
<rect x="452.6" y="989.52" width="16.86" height="13.86" fill="#f46d43"/>
<rect x="469.16" y="989.52" width="16.86" height="13.86" fill="#fdae61"/>
<rect x="485.72" y="989.52" width="16.86" height="13.86" fill="#a50026"/>
<rect x="419.48" y="1003.08" width="16.86" height="13.86" fill="#fee090"/>
<rect x="436.04" y="1003.08" width="16.86" height="13.86" fill="#f46d43"/>
<rect x="452.6" y="1003.08" width="16.86" height="13.86" fill="#f46d43"/>
<rect x="469.16" y="1003.08" width="16.86" height="13.86" fill="#fdae61"/>
<rect x="485.72" y="1003.08" width="16.86" height="13.86" fill="#f46d43"/>
<rect x="403.3" y="1016.64" width="16.48" height="13.86" fill="#a50026"/>
<rect x="419.48" y="1016.64" width="16.86" height="13.86" fill="#fdae61"/>
<rect x="436.04" y="1016.64" width="16.86" height="13.86" fill="#f46d43"/>
<rect x="452.6" y="1016.64" width="16.86" height="13.86" fill="#d73027"/>
<rect x="469.16" y="1016.64" width="16.86" height="13.86" fill="#d73027"/>
<rect x="403.3" y="1030.2" width="16.48" height="13.86" fill="#fdae61"/>
<rect x="419.48" y="1030.2" width="16.86" height="13.86" fill="#fee090"/>
<rect x="436.04" y="1030.2" width="16.86" height="13.86" fill="#d73027"/>
<rect x="452.6" y="1030.2" width="16.86" height="13.86" fill="#e0f3f8"/>
<rect x="469.16" y="1030.2" width="16.86" height="13.86" fill="#f46d43"/>
<rect x="403.3" y="1043.76" width="16.48" height="13.86" fill="#fee090"/>
<rect x="419.48" y="1043.76" width="16.86" height="13.86" fill="#fee090"/>
<rect x="436.04" y="1043.76" width="16.86" height="13.86" fill="#e0f3f8"/>
<rect x="452.6" y="1043.76" width="16.86" height="13.86" fill="#74add1"/>
<rect x="403.3" y="1057.32" width="16.48" height="13.86" fill="#e0f3f8"/>
<rect x="419.48" y="1057.32" width="16.86" height="13.86" fill="#fee090"/>
<rect x="436.04" y="1057.32" width="16.86" height="13.86" fill="#e0f3f8"/>
<rect x="403.3" y="1070.88" width="16.48" height="13.52" fill="#fdae61"/>
<rect x="419.48" y="1070.88" width="16.86" height="13.52" fill="#e0f3f8"/>
<rect x="436.04" y="1070.88" width="16.86" height="13.52" fill="#abd9e9"/>
</g>
<rect x="403.3" y="792.9" width="339.3" height="291.2" fill="none" stroke="#000" stroke-width="1.5"/>
<line x1="403.3" y1="860.7" x2="412.8" y2="860.7" stroke="#000" stroke-width="1.3"/>
<line x1="403.3" y1="928.5" x2="412.8" y2="928.5" stroke="#000" stroke-width="1.3"/>
<line x1="403.3" y1="996.3" x2="412.8" y2="996.3" stroke="#000" stroke-width="1.3"/>
<line x1="403.3" y1="1064.1" x2="412.8" y2="1064.1" stroke="#000" stroke-width="1.3"/>
<line x1="411.2" y1="1084.1" x2="411.2" y2="1074.3" stroke="#000" stroke-width="1.3"/>
<text x="411.2" y="1108.9" font-size="18.5" text-anchor="middle">0</text>
<line x1="494" y1="1084.1" x2="494" y2="1074.3" stroke="#000" stroke-width="1.3"/>
<text x="494" y="1108.9" font-size="18.5" text-anchor="middle">1000</text>
<line x1="576.8" y1="1084.1" x2="576.8" y2="1074.3" stroke="#000" stroke-width="1.3"/>
<text x="576.8" y="1108.9" font-size="18.5" text-anchor="middle">2000</text>
<line x1="659.6" y1="1084.1" x2="659.6" y2="1074.3" stroke="#000" stroke-width="1.3"/>
<text x="659.6" y="1108.9" font-size="18.5" text-anchor="middle">3000</text>
</g>
<text x="741.8" y="1108.9" font-size="18.5" text-anchor="middle">4000</text>
<text x="48" y="775.5" font-size="24" font-weight="bold">d</text>
<text x="392.3" y="775.5" font-size="24" font-weight="bold">e</text>
<text x="229.8" y="1142.3" font-size="20.5" text-anchor="middle">P (mm yr<tspan font-size="13.3" dy="-10.5">-1</tspan><tspan dy="10.5">​</tspan>)</text>
<text x="573.2" y="1142.3" font-size="20.5" text-anchor="middle">P (mm yr<tspan font-size="13.3" dy="-10.5">-1</tspan><tspan dy="10.5">​</tspan>)</text>
<text x="21" y="938.6" font-size="20.5" text-anchor="middle" transform="rotate(-90 21 938.6)">T (°C)</text>
<text x="211.5" y="1060.9" font-size="18.5">Change in eCO<tspan font-size="12" dy="4.5">2</tspan><tspan dy="-4.5">​</tspan>(ind)</text>
<text x="536.5" y="1060.9" font-size="18.5">Change in eCO<tspan font-size="12" dy="4.5">2</tspan><tspan dy="-4.5">​</tspan>(ind)<tspan font-size="10.5" dy="6">obs</tspan><tspan dy="-6">​</tspan></text>
<g id="panel-f">
<text x="766.5" y="369.7" font-size="24" font-weight="bold">f</text>
<g shape-rendering="crispEdges">
<rect x="779.32" y="526.25" width="3.69" height="58.05" fill="#f0f1fb"/>
<rect x="779.32" y="555.07" width="3.69" height="29.23" fill="#f8e5ea" fill-opacity="0.82"/>
<line x1="779.62" y1="526.25" x2="779.62" y2="584.3" stroke="#ffffff" stroke-width="0.7" stroke-opacity="0.45"/>
<rect x="782.71" y="525.45" width="3.69" height="58.85" fill="#f0f1fb"/>
<rect x="782.71" y="553.66" width="3.69" height="30.64" fill="#f8e5ea" fill-opacity="0.82"/>
<line x1="783.01" y1="525.45" x2="783.01" y2="584.3" stroke="#ffffff" stroke-width="0.7" stroke-opacity="0.45"/>
<rect x="786.09" y="524.64" width="3.69" height="59.66" fill="#f0f1fb"/>
<rect x="786.09" y="552.21" width="3.69" height="32.09" fill="#f8e5ea" fill-opacity="0.82"/>
<line x1="786.39" y1="524.64" x2="786.39" y2="584.3" stroke="#ffffff" stroke-width="0.7" stroke-opacity="0.45"/>
<rect x="789.48" y="523.82" width="3.69" height="60.48" fill="#f0f1fb"/>
<rect x="789.48" y="550.75" width="3.69" height="33.55" fill="#f8e5ea" fill-opacity="0.82"/>
<line x1="789.78" y1="523.82" x2="789.78" y2="584.3" stroke="#ffffff" stroke-width="0.7" stroke-opacity="0.45"/>
<rect x="792.87" y="522.99" width="3.69" height="61.31" fill="#f0f1fb"/>
<rect x="792.87" y="549.26" width="3.69" height="35.04" fill="#f8e5ea" fill-opacity="0.82"/>
<line x1="793.17" y1="522.99" x2="793.17" y2="584.3" stroke="#ffffff" stroke-width="0.7" stroke-opacity="0.45"/>
<rect x="796.25" y="522.16" width="3.69" height="62.14" fill="#f0f1fb"/>
<rect x="796.25" y="547.74" width="3.69" height="36.56" fill="#f8e5ea" fill-opacity="0.82"/>
<line x1="796.55" y1="522.16" x2="796.55" y2="584.3" stroke="#ffffff" stroke-width="0.7" stroke-opacity="0.45"/>
<rect x="799.64" y="521.31" width="3.69" height="62.99" fill="#f0f1fb"/>
<rect x="799.64" y="546.2" width="3.69" height="38.1" fill="#f8e5ea" fill-opacity="0.82"/>
<line x1="799.94" y1="521.31" x2="799.94" y2="584.3" stroke="#ffffff" stroke-width="0.7" stroke-opacity="0.45"/>
<rect x="803.03" y="520.46" width="3.69" height="63.84" fill="#f0f1fb"/>
<rect x="803.03" y="544.64" width="3.69" height="39.66" fill="#f8e5ea" fill-opacity="0.82"/>
<line x1="803.33" y1="520.46" x2="803.33" y2="584.3" stroke="#ffffff" stroke-width="0.7" stroke-opacity="0.45"/>
<rect x="806.42" y="519.61" width="3.69" height="64.69" fill="#f0f1fb"/>
<rect x="806.42" y="543.05" width="3.69" height="41.25" fill="#f8e5ea" fill-opacity="0.82"/>
<line x1="806.72" y1="519.61" x2="806.72" y2="584.3" stroke="#ffffff" stroke-width="0.7" stroke-opacity="0.45"/>
<rect x="809.8" y="518.74" width="3.69" height="65.56" fill="#f0f1fb"/>
<rect x="809.8" y="541.44" width="3.69" height="42.86" fill="#f8e5ea" fill-opacity="0.82"/>
<line x1="810.1" y1="518.74" x2="810.1" y2="584.3" stroke="#ffffff" stroke-width="0.7" stroke-opacity="0.45"/>
<rect x="813.19" y="517.87" width="3.69" height="66.43" fill="#f0f1fb"/>
<rect x="813.19" y="539.81" width="3.69" height="44.49" fill="#f8e5ea" fill-opacity="0.82"/>
<line x1="813.49" y1="517.87" x2="813.49" y2="584.3" stroke="#ffffff" stroke-width="0.7" stroke-opacity="0.45"/>
<rect x="816.58" y="516.99" width="3.69" height="67.31" fill="#f0f1fb"/>
<rect x="816.58" y="538.17" width="3.69" height="46.13" fill="#f8e5ea" fill-opacity="0.82"/>
<line x1="816.88" y1="516.99" x2="816.88" y2="584.3" stroke="#ffffff" stroke-width="0.7" stroke-opacity="0.45"/>
<rect x="819.96" y="516.11" width="3.69" height="68.19" fill="#f0f1fb"/>
<rect x="819.96" y="536.51" width="3.69" height="47.79" fill="#f8e5ea" fill-opacity="0.82"/>
<line x1="820.26" y1="516.11" x2="820.26" y2="584.3" stroke="#ffffff" stroke-width="0.7" stroke-opacity="0.45"/>
<rect x="823.35" y="515.22" width="3.69" height="69.08" fill="#f0f1fb"/>
<rect x="823.35" y="534.82" width="3.69" height="49.48" fill="#f8e5ea" fill-opacity="0.82"/>
<line x1="823.65" y1="515.22" x2="823.65" y2="584.3" stroke="#ffffff" stroke-width="0.7" stroke-opacity="0.45"/>
<rect x="826.74" y="514.33" width="3.69" height="69.97" fill="#f0f1fb"/>
<rect x="826.74" y="533.11" width="3.69" height="51.19" fill="#f8e5ea" fill-opacity="0.82"/>
<line x1="827.04" y1="514.33" x2="827.04" y2="584.3" stroke="#ffffff" stroke-width="0.7" stroke-opacity="0.45"/>
<rect x="830.12" y="513.42" width="3.69" height="70.88" fill="#f0f1fb"/>
<rect x="830.12" y="531.36" width="3.69" height="52.94" fill="#f8e5ea" fill-opacity="0.82"/>
<line x1="830.42" y1="513.42" x2="830.42" y2="584.3" stroke="#ffffff" stroke-width="0.7" stroke-opacity="0.45"/>
<rect x="833.51" y="512.5" width="3.69" height="71.8" fill="#f0f1fb"/>
<rect x="833.51" y="529.58" width="3.69" height="54.72" fill="#f8e5ea" fill-opacity="0.82"/>
<line x1="833.81" y1="512.5" x2="833.81" y2="584.3" stroke="#ffffff" stroke-width="0.7" stroke-opacity="0.45"/>
<rect x="836.9" y="511.57" width="3.69" height="72.73" fill="#f0f1fb"/>
<rect x="836.9" y="527.75" width="3.69" height="56.55" fill="#f8e5ea" fill-opacity="0.82"/>
<line x1="837.2" y1="511.57" x2="837.2" y2="584.3" stroke="#ffffff" stroke-width="0.7" stroke-opacity="0.45"/>
<rect x="840.29" y="510.63" width="3.69" height="73.67" fill="#f0f1fb"/>
<rect x="840.29" y="525.88" width="3.69" height="58.42" fill="#f8e5ea" fill-opacity="0.82"/>
<line x1="840.59" y1="510.63" x2="840.59" y2="584.3" stroke="#ffffff" stroke-width="0.7" stroke-opacity="0.45"/>
<rect x="843.67" y="509.67" width="3.69" height="74.63" fill="#f0f1fb"/>
<rect x="843.67" y="523.95" width="3.69" height="60.35" fill="#f8e5ea" fill-opacity="0.82"/>
<line x1="843.97" y1="509.67" x2="843.97" y2="584.3" stroke="#ffffff" stroke-width="0.7" stroke-opacity="0.45"/>
<rect x="847.06" y="508.69" width="3.69" height="75.61" fill="#f0f1fb"/>
<rect x="847.06" y="521.96" width="3.69" height="62.34" fill="#f8e5ea" fill-opacity="0.82"/>
<line x1="847.36" y1="508.69" x2="847.36" y2="584.3" stroke="#ffffff" stroke-width="0.7" stroke-opacity="0.45"/>
<rect x="850.45" y="507.71" width="3.69" height="76.59" fill="#f0f1fb"/>
<rect x="850.45" y="519.91" width="3.69" height="64.39" fill="#f8e5ea" fill-opacity="0.82"/>
<line x1="850.75" y1="507.71" x2="850.75" y2="584.3" stroke="#ffffff" stroke-width="0.7" stroke-opacity="0.45"/>
<rect x="853.83" y="506.7" width="3.69" height="77.6" fill="#f0f1fb"/>
<rect x="853.83" y="517.79" width="3.69" height="66.51" fill="#f8e5ea" fill-opacity="0.82"/>
<line x1="854.13" y1="506.7" x2="854.13" y2="584.3" stroke="#ffffff" stroke-width="0.7" stroke-opacity="0.45"/>
<rect x="857.22" y="505.69" width="3.69" height="78.61" fill="#f0f1fb"/>
<rect x="857.22" y="515.6" width="3.69" height="68.7" fill="#f8e5ea" fill-opacity="0.82"/>
<line x1="857.52" y1="505.69" x2="857.52" y2="584.3" stroke="#ffffff" stroke-width="0.7" stroke-opacity="0.45"/>
<rect x="860.61" y="504.66" width="3.69" height="79.64" fill="#f0f1fb"/>
<rect x="860.61" y="513.37" width="3.69" height="70.93" fill="#f8e5ea" fill-opacity="0.82"/>
<line x1="860.91" y1="504.66" x2="860.91" y2="584.3" stroke="#ffffff" stroke-width="0.7" stroke-opacity="0.45"/>
<rect x="864" y="503.61" width="3.69" height="80.69" fill="#f0f1fb"/>
<rect x="864" y="511.08" width="3.69" height="73.22" fill="#f8e5ea" fill-opacity="0.82"/>
<line x1="864.29" y1="503.61" x2="864.29" y2="584.3" stroke="#ffffff" stroke-width="0.7" stroke-opacity="0.45"/>
<rect x="867.38" y="502.55" width="3.69" height="81.75" fill="#f0f1fb"/>
<rect x="867.38" y="508.74" width="3.69" height="75.56" fill="#f8e5ea" fill-opacity="0.82"/>
<line x1="867.68" y1="502.55" x2="867.68" y2="584.3" stroke="#ffffff" stroke-width="0.7" stroke-opacity="0.45"/>
<rect x="870.77" y="501.47" width="3.69" height="82.83" fill="#f0f1fb"/>
<rect x="870.77" y="506.36" width="3.69" height="77.94" fill="#f8e5ea" fill-opacity="0.82"/>
<line x1="871.07" y1="501.47" x2="871.07" y2="584.3" stroke="#ffffff" stroke-width="0.7" stroke-opacity="0.45"/>
<rect x="874.16" y="500.38" width="3.69" height="83.92" fill="#f0f1fb"/>
<rect x="874.16" y="503.94" width="3.69" height="80.36" fill="#f8e5ea" fill-opacity="0.82"/>
<line x1="874.46" y1="500.38" x2="874.46" y2="584.3" stroke="#ffffff" stroke-width="0.7" stroke-opacity="0.45"/>
<rect x="877.54" y="499.26" width="3.69" height="85.04" fill="#f0f1fb"/>
<rect x="877.54" y="501.49" width="3.69" height="82.81" fill="#f8e5ea" fill-opacity="0.82"/>
<line x1="877.84" y1="499.26" x2="877.84" y2="584.3" stroke="#ffffff" stroke-width="0.7" stroke-opacity="0.45"/>
<rect x="880.93" y="498.13" width="3.69" height="86.17" fill="#f0f1fb"/>
<rect x="880.93" y="499" width="3.69" height="85.3" fill="#f8e5ea" fill-opacity="0.82"/>
<line x1="881.23" y1="498.13" x2="881.23" y2="584.3" stroke="#ffffff" stroke-width="0.7" stroke-opacity="0.45"/>
<rect x="884.32" y="496.98" width="3.69" height="87.32" fill="#f0f1fb"/>
<rect x="884.32" y="496.45" width="3.69" height="87.85" fill="#f8e5ea" fill-opacity="0.82"/>
<line x1="884.62" y1="496.45" x2="884.62" y2="584.3" stroke="#ffffff" stroke-width="0.7" stroke-opacity="0.45"/>
<rect x="887.7" y="495.79" width="3.69" height="88.51" fill="#f0f1fb"/>
<rect x="887.7" y="493.84" width="3.69" height="90.46" fill="#f8e5ea" fill-opacity="0.82"/>
<line x1="888" y1="493.84" x2="888" y2="584.3" stroke="#ffffff" stroke-width="0.7" stroke-opacity="0.45"/>
<rect x="891.09" y="494.58" width="3.69" height="89.72" fill="#f0f1fb"/>
<rect x="891.09" y="491.16" width="3.69" height="93.14" fill="#f8e5ea" fill-opacity="0.82"/>
<line x1="891.39" y1="491.16" x2="891.39" y2="584.3" stroke="#ffffff" stroke-width="0.7" stroke-opacity="0.45"/>
<rect x="894.48" y="493.36" width="3.69" height="90.94" fill="#f0f1fb"/>
<rect x="894.48" y="488.44" width="3.69" height="95.86" fill="#f8e5ea" fill-opacity="0.82"/>
<line x1="894.78" y1="488.44" x2="894.78" y2="584.3" stroke="#ffffff" stroke-width="0.7" stroke-opacity="0.45"/>
<rect x="897.87" y="492.12" width="3.69" height="92.18" fill="#f0f1fb"/>
<rect x="897.87" y="485.67" width="3.69" height="98.63" fill="#f8e5ea" fill-opacity="0.82"/>
<line x1="898.16" y1="485.67" x2="898.16" y2="584.3" stroke="#ffffff" stroke-width="0.7" stroke-opacity="0.45"/>
<rect x="901.25" y="490.87" width="3.69" height="93.43" fill="#f0f1fb"/>
<rect x="901.25" y="482.87" width="3.69" height="101.43" fill="#f8e5ea" fill-opacity="0.82"/>
<line x1="901.55" y1="482.87" x2="901.55" y2="584.3" stroke="#ffffff" stroke-width="0.7" stroke-opacity="0.45"/>
<rect x="904.64" y="489.61" width="3.69" height="94.69" fill="#f0f1fb"/>
<rect x="904.64" y="480.04" width="3.69" height="104.26" fill="#f8e5ea" fill-opacity="0.82"/>
<line x1="904.94" y1="480.04" x2="904.94" y2="584.3" stroke="#ffffff" stroke-width="0.7" stroke-opacity="0.45"/>
<rect x="908.03" y="488.36" width="3.69" height="95.94" fill="#f0f1fb"/>
<rect x="908.03" y="477.19" width="3.69" height="107.11" fill="#f8e5ea" fill-opacity="0.82"/>
<line x1="908.33" y1="477.19" x2="908.33" y2="584.3" stroke="#ffffff" stroke-width="0.7" stroke-opacity="0.45"/>
<rect x="911.41" y="487.1" width="3.69" height="97.2" fill="#f0f1fb"/>
<rect x="911.41" y="474.32" width="3.69" height="109.98" fill="#f8e5ea" fill-opacity="0.82"/>
<line x1="911.71" y1="474.32" x2="911.71" y2="584.3" stroke="#ffffff" stroke-width="0.7" stroke-opacity="0.45"/>
<rect x="914.8" y="485.84" width="3.69" height="98.46" fill="#f0f1fb"/>
<rect x="914.8" y="471.42" width="3.69" height="112.88" fill="#f8e5ea" fill-opacity="0.82"/>
<line x1="915.1" y1="471.42" x2="915.1" y2="584.3" stroke="#ffffff" stroke-width="0.7" stroke-opacity="0.45"/>
<rect x="918.19" y="484.57" width="3.69" height="99.73" fill="#f0f1fb"/>
<rect x="918.19" y="468.35" width="3.69" height="115.95" fill="#f8e5ea" fill-opacity="0.82"/>
<line x1="918.49" y1="468.35" x2="918.49" y2="584.3" stroke="#ffffff" stroke-width="0.7" stroke-opacity="0.45"/>
<rect x="921.57" y="483.28" width="3.69" height="101.02" fill="#f0f1fb"/>
<rect x="921.57" y="465.13" width="3.69" height="119.17" fill="#f8e5ea" fill-opacity="0.82"/>
<line x1="921.87" y1="465.13" x2="921.87" y2="584.3" stroke="#ffffff" stroke-width="0.7" stroke-opacity="0.45"/>
<rect x="924.96" y="481.98" width="3.69" height="102.32" fill="#f0f1fb"/>
<rect x="924.96" y="461.83" width="3.69" height="122.47" fill="#f8e5ea" fill-opacity="0.82"/>
<line x1="925.26" y1="461.83" x2="925.26" y2="584.3" stroke="#ffffff" stroke-width="0.7" stroke-opacity="0.45"/>
<rect x="928.35" y="480.67" width="3.69" height="103.63" fill="#f0f1fb"/>
<rect x="928.35" y="458.51" width="3.69" height="125.79" fill="#f8e5ea" fill-opacity="0.82"/>
<line x1="928.65" y1="458.51" x2="928.65" y2="584.3" stroke="#ffffff" stroke-width="0.7" stroke-opacity="0.45"/>
<rect x="931.73" y="479.36" width="3.69" height="104.94" fill="#f0f1fb"/>
<rect x="931.73" y="455.23" width="3.69" height="129.07" fill="#f8e5ea" fill-opacity="0.82"/>
<line x1="932.03" y1="455.23" x2="932.03" y2="584.3" stroke="#ffffff" stroke-width="0.7" stroke-opacity="0.45"/>
<rect x="935.12" y="478.06" width="3.69" height="106.24" fill="#f0f1fb"/>
<rect x="935.12" y="452.06" width="3.69" height="132.24" fill="#f8e5ea" fill-opacity="0.82"/>
<line x1="935.42" y1="452.06" x2="935.42" y2="584.3" stroke="#ffffff" stroke-width="0.7" stroke-opacity="0.45"/>
<rect x="938.51" y="476.78" width="3.69" height="107.52" fill="#f0f1fb"/>
<rect x="938.51" y="449.04" width="3.69" height="135.26" fill="#f8e5ea" fill-opacity="0.82"/>
<line x1="938.81" y1="449.04" x2="938.81" y2="584.3" stroke="#ffffff" stroke-width="0.7" stroke-opacity="0.45"/>
<rect x="941.9" y="475.51" width="3.69" height="108.79" fill="#f0f1fb"/>
<rect x="941.9" y="446.25" width="3.69" height="138.05" fill="#f8e5ea" fill-opacity="0.82"/>
<line x1="942.2" y1="446.25" x2="942.2" y2="584.3" stroke="#ffffff" stroke-width="0.7" stroke-opacity="0.45"/>
<rect x="945.28" y="474.27" width="3.69" height="110.03" fill="#f0f1fb"/>
<rect x="945.28" y="443.74" width="3.69" height="140.56" fill="#f8e5ea" fill-opacity="0.82"/>
<line x1="945.58" y1="443.74" x2="945.58" y2="584.3" stroke="#ffffff" stroke-width="0.7" stroke-opacity="0.45"/>
<rect x="948.67" y="473.06" width="3.69" height="111.24" fill="#f0f1fb"/>
<rect x="948.67" y="441.54" width="3.69" height="142.76" fill="#f8e5ea" fill-opacity="0.82"/>
<line x1="948.97" y1="441.54" x2="948.97" y2="584.3" stroke="#ffffff" stroke-width="0.7" stroke-opacity="0.45"/>
<rect x="952.06" y="471.85" width="3.69" height="112.45" fill="#f0f1fb"/>
<rect x="952.06" y="439.48" width="3.69" height="144.82" fill="#f8e5ea" fill-opacity="0.82"/>
<line x1="952.36" y1="439.48" x2="952.36" y2="584.3" stroke="#ffffff" stroke-width="0.7" stroke-opacity="0.45"/>
<rect x="955.44" y="470.65" width="3.69" height="113.65" fill="#f0f1fb"/>
<rect x="955.44" y="437.53" width="3.69" height="146.77" fill="#f8e5ea" fill-opacity="0.82"/>
<line x1="955.74" y1="437.53" x2="955.74" y2="584.3" stroke="#ffffff" stroke-width="0.7" stroke-opacity="0.45"/>
<rect x="958.83" y="469.46" width="3.69" height="114.84" fill="#f0f1fb"/>
<rect x="958.83" y="435.68" width="3.69" height="148.62" fill="#f8e5ea" fill-opacity="0.82"/>
<line x1="959.13" y1="435.68" x2="959.13" y2="584.3" stroke="#ffffff" stroke-width="0.7" stroke-opacity="0.45"/>
<rect x="962.22" y="468.28" width="3.69" height="116.02" fill="#f0f1fb"/>
<rect x="962.22" y="433.93" width="3.69" height="150.37" fill="#f8e5ea" fill-opacity="0.82"/>
<line x1="962.52" y1="433.93" x2="962.52" y2="584.3" stroke="#ffffff" stroke-width="0.7" stroke-opacity="0.45"/>
<rect x="965.6" y="467.12" width="3.69" height="117.18" fill="#f0f1fb"/>
<rect x="965.6" y="432.27" width="3.69" height="152.03" fill="#f8e5ea" fill-opacity="0.82"/>
<line x1="965.9" y1="432.27" x2="965.9" y2="584.3" stroke="#ffffff" stroke-width="0.7" stroke-opacity="0.45"/>
<rect x="968.99" y="465.98" width="3.69" height="118.32" fill="#f0f1fb"/>
<rect x="968.99" y="430.69" width="3.69" height="153.61" fill="#f8e5ea" fill-opacity="0.82"/>
<line x1="969.29" y1="430.69" x2="969.29" y2="584.3" stroke="#ffffff" stroke-width="0.7" stroke-opacity="0.45"/>
<rect x="972.38" y="464.86" width="3.69" height="119.44" fill="#f0f1fb"/>
<rect x="972.38" y="429.18" width="3.69" height="155.12" fill="#f8e5ea" fill-opacity="0.82"/>
<line x1="972.68" y1="429.18" x2="972.68" y2="584.3" stroke="#ffffff" stroke-width="0.7" stroke-opacity="0.45"/>
<rect x="975.77" y="463.78" width="3.69" height="120.52" fill="#f0f1fb"/>
<rect x="975.77" y="427.75" width="3.69" height="156.55" fill="#f8e5ea" fill-opacity="0.82"/>
<line x1="976.07" y1="427.75" x2="976.07" y2="584.3" stroke="#ffffff" stroke-width="0.7" stroke-opacity="0.45"/>
<rect x="979.15" y="462.72" width="3.69" height="121.58" fill="#f0f1fb"/>
<rect x="979.15" y="426.38" width="3.69" height="157.92" fill="#f8e5ea" fill-opacity="0.82"/>
<line x1="979.45" y1="426.38" x2="979.45" y2="584.3" stroke="#ffffff" stroke-width="0.7" stroke-opacity="0.45"/>
<rect x="982.54" y="461.71" width="3.69" height="122.59" fill="#f0f1fb"/>
<rect x="982.54" y="425.07" width="3.69" height="159.23" fill="#f8e5ea" fill-opacity="0.82"/>
<line x1="982.84" y1="425.07" x2="982.84" y2="584.3" stroke="#ffffff" stroke-width="0.7" stroke-opacity="0.45"/>
<rect x="985.93" y="460.71" width="3.69" height="123.59" fill="#f0f1fb"/>
<rect x="985.93" y="423.81" width="3.69" height="160.49" fill="#f8e5ea" fill-opacity="0.82"/>
<line x1="986.23" y1="423.81" x2="986.23" y2="584.3" stroke="#ffffff" stroke-width="0.7" stroke-opacity="0.45"/>
<rect x="989.31" y="459.75" width="3.69" height="124.55" fill="#f0f1fb"/>
<rect x="989.31" y="422.6" width="3.69" height="161.7" fill="#f8e5ea" fill-opacity="0.82"/>
<line x1="989.61" y1="422.6" x2="989.61" y2="584.3" stroke="#ffffff" stroke-width="0.7" stroke-opacity="0.45"/>
<rect x="992.7" y="458.8" width="3.69" height="125.5" fill="#f0f1fb"/>
<rect x="992.7" y="421.43" width="3.69" height="162.87" fill="#f8e5ea" fill-opacity="0.82"/>
<line x1="993" y1="421.43" x2="993" y2="584.3" stroke="#ffffff" stroke-width="0.7" stroke-opacity="0.45"/>
<rect x="996.09" y="457.87" width="3.69" height="126.43" fill="#f0f1fb"/>
<rect x="996.09" y="420.31" width="3.69" height="163.99" fill="#f8e5ea" fill-opacity="0.82"/>
<line x1="996.39" y1="420.31" x2="996.39" y2="584.3" stroke="#ffffff" stroke-width="0.7" stroke-opacity="0.45"/>
<rect x="999.47" y="456.96" width="3.69" height="127.34" fill="#f0f1fb"/>
<rect x="999.47" y="419.24" width="3.69" height="165.06" fill="#f8e5ea" fill-opacity="0.82"/>
<line x1="999.77" y1="419.24" x2="999.77" y2="584.3" stroke="#ffffff" stroke-width="0.7" stroke-opacity="0.45"/>
<rect x="1002.86" y="456.07" width="3.69" height="128.23" fill="#f0f1fb"/>
<rect x="1002.86" y="418.22" width="3.69" height="166.08" fill="#f8e5ea" fill-opacity="0.82"/>
<line x1="1003.16" y1="418.22" x2="1003.16" y2="584.3" stroke="#ffffff" stroke-width="0.7" stroke-opacity="0.45"/>
<rect x="1006.25" y="455.2" width="3.69" height="129.1" fill="#f0f1fb"/>
<rect x="1006.25" y="417.25" width="3.69" height="167.05" fill="#f8e5ea" fill-opacity="0.82"/>
<line x1="1006.55" y1="417.25" x2="1006.55" y2="584.3" stroke="#ffffff" stroke-width="0.7" stroke-opacity="0.45"/>
<rect x="1009.64" y="454.35" width="3.69" height="129.95" fill="#f0f1fb"/>
<rect x="1009.64" y="416.33" width="3.69" height="167.97" fill="#f8e5ea" fill-opacity="0.82"/>
<line x1="1009.94" y1="416.33" x2="1009.94" y2="584.3" stroke="#ffffff" stroke-width="0.7" stroke-opacity="0.45"/>
<rect x="1013.02" y="453.5" width="3.69" height="130.8" fill="#f0f1fb"/>
<rect x="1013.02" y="415.46" width="3.69" height="168.84" fill="#f8e5ea" fill-opacity="0.82"/>
<line x1="1013.32" y1="415.46" x2="1013.32" y2="584.3" stroke="#ffffff" stroke-width="0.7" stroke-opacity="0.45"/>
<rect x="1016.41" y="452.68" width="3.69" height="131.62" fill="#f0f1fb"/>
<rect x="1016.41" y="414.64" width="3.69" height="169.66" fill="#f8e5ea" fill-opacity="0.82"/>
<line x1="1016.71" y1="414.64" x2="1016.71" y2="584.3" stroke="#ffffff" stroke-width="0.7" stroke-opacity="0.45"/>
<rect x="1019.8" y="451.86" width="3.69" height="132.44" fill="#f0f1fb"/>
<rect x="1019.8" y="413.86" width="3.69" height="170.44" fill="#f8e5ea" fill-opacity="0.82"/>
<line x1="1020.1" y1="413.86" x2="1020.1" y2="584.3" stroke="#ffffff" stroke-width="0.7" stroke-opacity="0.45"/>
<rect x="1023.18" y="451.06" width="3.69" height="133.24" fill="#f0f1fb"/>
<rect x="1023.18" y="413.12" width="3.69" height="171.18" fill="#f8e5ea" fill-opacity="0.82"/>
<line x1="1023.48" y1="413.12" x2="1023.48" y2="584.3" stroke="#ffffff" stroke-width="0.7" stroke-opacity="0.45"/>
<rect x="1026.57" y="450.27" width="3.69" height="134.03" fill="#f0f1fb"/>
<rect x="1026.57" y="412.41" width="3.69" height="171.89" fill="#f8e5ea" fill-opacity="0.82"/>
<line x1="1026.87" y1="412.41" x2="1026.87" y2="584.3" stroke="#ffffff" stroke-width="0.7" stroke-opacity="0.45"/>
<rect x="1029.96" y="449.49" width="3.69" height="134.81" fill="#f0f1fb"/>
<rect x="1029.96" y="411.74" width="3.69" height="172.56" fill="#f8e5ea" fill-opacity="0.82"/>
<line x1="1030.26" y1="411.74" x2="1030.26" y2="584.3" stroke="#ffffff" stroke-width="0.7" stroke-opacity="0.45"/>
<rect x="1033.35" y="448.73" width="3.69" height="135.57" fill="#f0f1fb"/>
<rect x="1033.35" y="411.09" width="3.69" height="173.21" fill="#f8e5ea" fill-opacity="0.82"/>
<line x1="1033.64" y1="411.09" x2="1033.64" y2="584.3" stroke="#ffffff" stroke-width="0.7" stroke-opacity="0.45"/>
<rect x="1036.73" y="447.98" width="3.69" height="136.32" fill="#f0f1fb"/>
<rect x="1036.73" y="410.46" width="3.69" height="173.84" fill="#f8e5ea" fill-opacity="0.82"/>
<line x1="1037.03" y1="410.46" x2="1037.03" y2="584.3" stroke="#ffffff" stroke-width="0.7" stroke-opacity="0.45"/>
<rect x="1040.12" y="447.26" width="3.69" height="137.04" fill="#f0f1fb"/>
<rect x="1040.12" y="409.86" width="3.69" height="174.44" fill="#f8e5ea" fill-opacity="0.82"/>
<line x1="1040.42" y1="409.86" x2="1040.42" y2="584.3" stroke="#ffffff" stroke-width="0.7" stroke-opacity="0.45"/>
<rect x="1043.51" y="446.55" width="3.69" height="137.75" fill="#f0f1fb"/>
<rect x="1043.51" y="409.28" width="3.69" height="175.02" fill="#f8e5ea" fill-opacity="0.82"/>
<line x1="1043.81" y1="409.28" x2="1043.81" y2="584.3" stroke="#ffffff" stroke-width="0.7" stroke-opacity="0.45"/>
<rect x="1046.89" y="445.86" width="3.69" height="138.44" fill="#f0f1fb"/>
<rect x="1046.89" y="408.72" width="3.69" height="175.58" fill="#f8e5ea" fill-opacity="0.82"/>
<line x1="1047.19" y1="408.72" x2="1047.19" y2="584.3" stroke="#ffffff" stroke-width="0.7" stroke-opacity="0.45"/>
<rect x="1050.28" y="445.18" width="3.69" height="139.12" fill="#f0f1fb"/>
<rect x="1050.28" y="408.17" width="3.69" height="176.13" fill="#f8e5ea" fill-opacity="0.82"/>
<line x1="1050.58" y1="408.17" x2="1050.58" y2="584.3" stroke="#ffffff" stroke-width="0.7" stroke-opacity="0.45"/>
<rect x="1053.67" y="444.53" width="3.69" height="139.77" fill="#f0f1fb"/>
<rect x="1053.67" y="407.63" width="3.69" height="176.67" fill="#f8e5ea" fill-opacity="0.82"/>
<line x1="1053.97" y1="407.63" x2="1053.97" y2="584.3" stroke="#ffffff" stroke-width="0.7" stroke-opacity="0.45"/>
<rect x="1057.05" y="443.88" width="3.69" height="140.42" fill="#f0f1fb"/>
<rect x="1057.05" y="407.1" width="3.69" height="177.2" fill="#f8e5ea" fill-opacity="0.82"/>
<line x1="1057.35" y1="407.1" x2="1057.35" y2="584.3" stroke="#ffffff" stroke-width="0.7" stroke-opacity="0.45"/>
<rect x="1060.44" y="443.25" width="3.69" height="141.05" fill="#f0f1fb"/>
<rect x="1060.44" y="406.59" width="3.69" height="177.71" fill="#f8e5ea" fill-opacity="0.82"/>
<line x1="1060.74" y1="406.59" x2="1060.74" y2="584.3" stroke="#ffffff" stroke-width="0.7" stroke-opacity="0.45"/>
<rect x="1063.83" y="442.63" width="3.69" height="141.67" fill="#f0f1fb"/>
<rect x="1063.83" y="406.09" width="3.69" height="178.21" fill="#f8e5ea" fill-opacity="0.82"/>
<line x1="1064.13" y1="406.09" x2="1064.13" y2="584.3" stroke="#ffffff" stroke-width="0.7" stroke-opacity="0.45"/>
<rect x="1067.21" y="442.03" width="3.69" height="142.27" fill="#f0f1fb"/>
<rect x="1067.21" y="405.61" width="3.69" height="178.69" fill="#f8e5ea" fill-opacity="0.82"/>
<line x1="1067.51" y1="405.61" x2="1067.51" y2="584.3" stroke="#ffffff" stroke-width="0.7" stroke-opacity="0.45"/>
<rect x="1070.6" y="441.44" width="3.69" height="142.86" fill="#f0f1fb"/>
<rect x="1070.6" y="405.15" width="3.69" height="179.15" fill="#f8e5ea" fill-opacity="0.82"/>
<line x1="1070.9" y1="405.15" x2="1070.9" y2="584.3" stroke="#ffffff" stroke-width="0.7" stroke-opacity="0.45"/>
<rect x="1073.99" y="440.87" width="3.69" height="143.43" fill="#f0f1fb"/>
<rect x="1073.99" y="404.72" width="3.69" height="179.58" fill="#f8e5ea" fill-opacity="0.82"/>
<line x1="1074.29" y1="404.72" x2="1074.29" y2="584.3" stroke="#ffffff" stroke-width="0.7" stroke-opacity="0.45"/>
<rect x="1077.38" y="440.31" width="3.69" height="143.99" fill="#f0f1fb"/>
<rect x="1077.38" y="404.32" width="3.69" height="179.98" fill="#f8e5ea" fill-opacity="0.82"/>
<line x1="1077.68" y1="404.32" x2="1077.68" y2="584.3" stroke="#ffffff" stroke-width="0.7" stroke-opacity="0.45"/>
<rect x="1080.76" y="439.77" width="3.69" height="144.53" fill="#f0f1fb"/>
<rect x="1080.76" y="403.96" width="3.69" height="180.34" fill="#f8e5ea" fill-opacity="0.82"/>
<line x1="1081.06" y1="403.96" x2="1081.06" y2="584.3" stroke="#ffffff" stroke-width="0.7" stroke-opacity="0.45"/>
<rect x="1084.15" y="439.24" width="3.69" height="145.06" fill="#f0f1fb"/>
<rect x="1084.15" y="403.62" width="3.69" height="180.68" fill="#f8e5ea" fill-opacity="0.82"/>
<line x1="1084.45" y1="403.62" x2="1084.45" y2="584.3" stroke="#ffffff" stroke-width="0.7" stroke-opacity="0.45"/>
<rect x="1087.54" y="438.73" width="3.69" height="145.57" fill="#f0f1fb"/>
<rect x="1087.54" y="403.31" width="3.69" height="180.99" fill="#f8e5ea" fill-opacity="0.82"/>
<line x1="1087.84" y1="403.31" x2="1087.84" y2="584.3" stroke="#ffffff" stroke-width="0.7" stroke-opacity="0.45"/>
<rect x="1090.92" y="438.22" width="3.69" height="146.08" fill="#f0f1fb"/>
<rect x="1090.92" y="403" width="3.69" height="181.3" fill="#f8e5ea" fill-opacity="0.82"/>
<line x1="1091.22" y1="403" x2="1091.22" y2="584.3" stroke="#ffffff" stroke-width="0.7" stroke-opacity="0.45"/>
<rect x="1094.31" y="437.73" width="3.69" height="146.57" fill="#f0f1fb"/>
<rect x="1094.31" y="402.71" width="3.69" height="181.59" fill="#f8e5ea" fill-opacity="0.82"/>
<line x1="1094.61" y1="402.71" x2="1094.61" y2="584.3" stroke="#ffffff" stroke-width="0.7" stroke-opacity="0.45"/>
<rect x="1097.7" y="437.25" width="3.69" height="147.05" fill="#f0f1fb"/>
<rect x="1097.7" y="402.43" width="3.69" height="181.87" fill="#f8e5ea" fill-opacity="0.82"/>
<line x1="1098" y1="402.43" x2="1098" y2="584.3" stroke="#ffffff" stroke-width="0.7" stroke-opacity="0.45"/>
<rect x="1101.09" y="436.78" width="3.69" height="147.52" fill="#f0f1fb"/>
<rect x="1101.09" y="402.17" width="3.69" height="182.13" fill="#f8e5ea" fill-opacity="0.82"/>
<line x1="1101.38" y1="402.17" x2="1101.38" y2="584.3" stroke="#ffffff" stroke-width="0.7" stroke-opacity="0.45"/>
<rect x="1104.47" y="436.33" width="3.69" height="147.97" fill="#f0f1fb"/>
<rect x="1104.47" y="401.93" width="3.69" height="182.37" fill="#f8e5ea" fill-opacity="0.82"/>
<line x1="1104.77" y1="401.93" x2="1104.77" y2="584.3" stroke="#ffffff" stroke-width="0.7" stroke-opacity="0.45"/>
<rect x="1107.86" y="435.88" width="3.69" height="148.42" fill="#f0f1fb"/>
<rect x="1107.86" y="401.71" width="3.69" height="182.59" fill="#f8e5ea" fill-opacity="0.82"/>
<line x1="1108.16" y1="401.71" x2="1108.16" y2="584.3" stroke="#ffffff" stroke-width="0.7" stroke-opacity="0.45"/>
<rect x="1111.25" y="435.46" width="3.69" height="148.84" fill="#f0f1fb"/>
<rect x="1111.25" y="401.51" width="3.69" height="182.79" fill="#f8e5ea" fill-opacity="0.82"/>
<line x1="1111.55" y1="401.51" x2="1111.55" y2="584.3" stroke="#ffffff" stroke-width="0.7" stroke-opacity="0.45"/>
<rect x="1114.63" y="435.04" width="3.69" height="149.26" fill="#f0f1fb"/>
<rect x="1114.63" y="401.34" width="3.69" height="182.96" fill="#f8e5ea" fill-opacity="0.82"/>
<line x1="1114.93" y1="401.34" x2="1114.93" y2="584.3" stroke="#ffffff" stroke-width="0.7" stroke-opacity="0.45"/>
</g>
<line x1="902.3" y1="390.2" x2="902.3" y2="584.3" stroke="#5b62a8" stroke-width="1.9"/>
<line x1="905.5" y1="390.2" x2="905.5" y2="584.3" stroke="#c8474b" stroke-width="1.9"/>
<line x1="914.8" y1="392.2" x2="914.8" y2="584.3" stroke="#000" stroke-width="2" stroke-dasharray="3 3.2"/>
<polyline points="779.32,526.65 781.01,526.25 782.71,525.85 784.4,525.45 786.09,525.04 787.79,524.64 789.48,524.23 791.17,523.82 792.87,523.41 794.56,522.99 796.25,522.57 797.95,522.16 799.64,521.74 801.34,521.31 803.03,520.89 804.72,520.46 806.42,520.04 808.11,519.61 809.8,519.17 811.5,518.74 813.19,518.31 814.88,517.87 816.58,517.43 818.27,516.99 819.96,516.55 821.66,516.11 823.35,515.67 825.04,515.22 826.74,514.78 828.43,514.33 830.12,513.87 831.82,513.42 833.51,512.96 835.21,512.5 836.9,512.04 838.59,511.57 840.29,511.1 841.98,510.63 843.67,510.15 845.37,509.67 847.06,509.18 848.75,508.69 850.45,508.2 852.14,507.71 853.83,507.21 855.53,506.7 857.22,506.2 858.91,505.69 860.61,505.17 862.3,504.66 864,504.13 865.69,503.61 867.38,503.08 869.08,502.55 870.77,502.01 872.46,501.47 874.16,500.92 875.85,500.38 877.54,499.82 879.24,499.26 880.93,498.7 882.62,498.13 884.32,497.56 886.01,496.98 887.7,496.39 889.4,495.79 891.09,495.19 892.78,494.58 894.48,493.97 896.17,493.36 897.87,492.74 899.56,492.12 901.25,491.5 902.95,490.87 904.64,490.24 906.33,489.61 908.03,488.99 909.72,488.36 911.41,487.73 913.11,487.1 914.8,486.47 916.49,485.84 918.19,485.21 919.88,484.57 921.57,483.93 923.27,483.28 924.96,482.63 926.65,481.98 928.35,481.32 930.04,480.67 931.73,480.02 933.43,479.36 935.12,478.71 936.82,478.06 938.51,477.42 940.2,476.78 941.9,476.14 943.59,475.51 945.28,474.89 946.98,474.27 948.67,473.66 950.36,473.06 952.06,472.45 953.75,471.85 955.44,471.25 957.14,470.65 958.83,470.05 960.52,469.46 962.22,468.87 963.91,468.28 965.6,467.69 967.3,467.12 968.99,466.54 970.69,465.98 972.38,465.42 974.07,464.86 975.77,464.32 977.46,463.78 979.15,463.25 980.85,462.72 982.54,462.21 984.23,461.71 985.93,461.21 987.62,460.71 989.31,460.23 991.01,459.75 992.7,459.27 994.39,458.8 996.09,458.33 997.78,457.87 999.47,457.41 1001.17,456.96 1002.86,456.52 1004.56,456.07 1006.25,455.64 1007.94,455.2 1009.64,454.77 1011.33,454.35 1013.02,453.92 1014.72,453.5 1016.41,453.09 1018.1,452.68 1019.8,452.27 1021.49,451.86 1023.18,451.46 1024.88,451.06 1026.57,450.66 1028.26,450.27 1029.96,449.88 1031.65,449.49 1033.35,449.11 1035.04,448.73 1036.73,448.35 1038.43,447.98 1040.12,447.62 1041.81,447.26 1043.51,446.9 1045.2,446.55 1046.89,446.2 1048.59,445.86 1050.28,445.52 1051.97,445.18 1053.67,444.85 1055.36,444.53 1057.05,444.2 1058.75,443.88 1060.44,443.56 1062.13,443.25 1063.83,442.94 1065.52,442.63 1067.21,442.33 1068.91,442.03 1070.6,441.73 1072.3,441.44 1073.99,441.15 1075.68,440.87 1077.38,440.58 1079.07,440.31 1080.76,440.03 1082.46,439.77 1084.15,439.5 1085.84,439.24 1087.54,438.98 1089.23,438.73 1090.92,438.47 1092.62,438.22 1094.31,437.97 1096,437.73 1097.7,437.49 1099.39,437.25 1101.09,437.01 1102.78,436.78 1104.47,436.55 1106.17,436.33 1107.86,436.1 1109.55,435.88 1111.25,435.67 1112.94,435.46 1114.63,435.25" fill="none" stroke="#5b62a8" stroke-width="3.4" stroke-linecap="round" stroke-dasharray="6.6 9.3 0.1 9.3"/>
<polyline points="779.32,555.77 781.01,555.07 782.71,554.37 784.4,553.66 786.09,552.94 787.79,552.21 789.48,551.48 791.17,550.75 792.87,550 794.56,549.26 796.25,548.5 797.95,547.74 799.64,546.97 801.34,546.2 803.03,545.42 804.72,544.64 806.42,543.84 808.11,543.05 809.8,542.25 811.5,541.44 813.19,540.63 814.88,539.81 816.58,538.99 818.27,538.17 819.96,537.34 821.66,536.51 823.35,535.67 825.04,534.82 826.74,533.97 828.43,533.11 830.12,532.24 831.82,531.36 833.51,530.48 835.21,529.58 836.9,528.67 838.59,527.75 840.29,526.82 841.98,525.88 843.67,524.92 845.37,523.95 847.06,522.96 848.75,521.96 850.45,520.94 852.14,519.91 853.83,518.85 855.53,517.79 857.22,516.7 858.91,515.6 860.61,514.49 862.3,513.37 864,512.23 865.69,511.08 867.38,509.92 869.08,508.74 870.77,507.56 872.46,506.36 874.16,505.16 875.85,503.94 877.54,502.72 879.24,501.49 880.93,500.25 882.62,499 884.32,497.74 886.01,496.45 887.7,495.15 889.4,493.84 891.09,492.51 892.78,491.16 894.48,489.81 896.17,488.44 897.87,487.06 899.56,485.67 901.25,484.28 902.95,482.87 904.64,481.46 906.33,480.04 908.03,478.62 909.72,477.19 911.41,475.76 913.11,474.32 914.8,472.89 916.49,471.42 918.19,469.91 919.88,468.35 921.57,466.75 923.27,465.13 924.96,463.49 926.65,461.83 928.35,460.17 930.04,458.51 931.73,456.86 933.43,455.23 935.12,453.63 936.82,452.06 938.51,450.52 940.2,449.04 941.9,447.61 943.59,446.25 945.28,444.95 946.98,443.74 948.67,442.61 950.36,441.54 952.06,440.5 953.75,439.48 955.44,438.49 957.14,437.53 958.83,436.6 960.52,435.68 962.22,434.8 963.91,433.93 965.6,433.09 967.3,432.27 968.99,431.47 970.69,430.69 972.38,429.92 974.07,429.18 975.77,428.46 977.46,427.75 979.15,427.06 980.85,426.38 982.54,425.72 984.23,425.07 985.93,424.44 987.62,423.81 989.31,423.2 991.01,422.6 992.7,422.01 994.39,421.43 996.09,420.86 997.78,420.31 999.47,419.77 1001.17,419.24 1002.86,418.72 1004.56,418.22 1006.25,417.73 1007.94,417.25 1009.64,416.78 1011.33,416.33 1013.02,415.89 1014.72,415.46 1016.41,415.04 1018.1,414.64 1019.8,414.25 1021.49,413.86 1023.18,413.49 1024.88,413.12 1026.57,412.76 1028.26,412.41 1029.96,412.07 1031.65,411.74 1033.35,411.41 1035.04,411.09 1036.73,410.77 1038.43,410.46 1040.12,410.16 1041.81,409.86 1043.51,409.57 1045.2,409.28 1046.89,409 1048.59,408.72 1050.28,408.45 1051.97,408.17 1053.67,407.9 1055.36,407.63 1057.05,407.37 1058.75,407.1 1060.44,406.84 1062.13,406.59 1063.83,406.33 1065.52,406.09 1067.21,405.84 1068.91,405.61 1070.6,405.37 1072.3,405.15 1073.99,404.93 1075.68,404.72 1077.38,404.52 1079.07,404.32 1080.76,404.13 1082.46,403.96 1084.15,403.79 1085.84,403.62 1087.54,403.46 1089.23,403.31 1090.92,403.15 1092.62,403 1094.31,402.85 1096,402.71 1097.7,402.57 1099.39,402.43 1101.09,402.3 1102.78,402.17 1104.47,402.05 1106.17,401.93 1107.86,401.82 1109.55,401.71 1111.25,401.61 1112.94,401.51 1114.63,401.42" fill="none" stroke="#c8474b" stroke-width="3.4" stroke-linecap="round" stroke-dasharray="6.6 9.3 0.1 9.3"/>
<path d="M779.4 584.3 L779.4 390.2 L1118.2 390.2 L1118.2 584.3" fill="none" stroke="#000" stroke-width="1.5"/>
<line x1="1118.2" y1="429.02" x2="1110.2" y2="429.02" stroke="#000" stroke-width="1.3"/>
<line x1="1118.2" y1="467.84" x2="1110.2" y2="467.84" stroke="#000" stroke-width="1.3"/>
<line x1="1118.2" y1="506.66" x2="1110.2" y2="506.66" stroke="#000" stroke-width="1.3"/>
<line x1="1118.2" y1="545.48" x2="1110.2" y2="545.48" stroke="#000" stroke-width="1.3"/>
<line x1="1118.2" y1="584.3" x2="1110.2" y2="584.3" stroke="#000" stroke-width="1.3"/>
<text x="1129.3" y="434.92" font-size="18.5">80</text>
<text x="1129.3" y="473.74" font-size="18.5">60</text>
<text x="1129.3" y="512.56" font-size="18.5">40</text>
<text x="1129.3" y="551.38" font-size="18.5">20</text>
<text x="1130.3" y="395.8" font-size="18.5">100</text>
<text x="1176.3" y="487" font-size="19.8" text-anchor="middle" transform="rotate(-90 1176.3 487)">Cumulative frequency (%)</text>
<clipPath id="fclip"><rect x="779.4" y="597.8" width="338.8" height="486.3"/></clipPath>
<g clip-path="url(#fclip)">
<polygon points="923.27,633.91 911.41,652.75 865.69,668.45 809.8,684.15 781.69,699.85 786.09,715.55 830.12,731.25 806.42,746.95 826.74,762.65 838.59,778.35 830.12,794.05 782.71,809.75 830.12,825.45 836.9,841.15 901.25,856.85 891.09,872.55 858.24,888.25 840.29,903.95 843.67,919.65 897.87,935.35 885.33,951.05 870.77,966.75 866.7,982.45 830.8,998.15 884.32,1013.85 912.77,1029.55 940.2,1045.25 965.6,1060.95 970.69,1060.95 982.54,1045.25 932.41,1029.55 936.48,1013.85 943.25,998.15 952.06,982.45 946.3,966.75 1013.02,951.05 1134.95,935.35 1031.31,919.65 994.73,903.95 1011.33,888.25 1013.02,872.55 1044.86,856.85 948.67,841.15 991.68,825.45 929.36,809.75 926.65,794.05 931.73,778.35 944.61,762.65 948.67,746.95 965.6,731.25 918.86,715.55 877.54,699.85 918.19,684.15 952.06,668.45 1006.25,652.75 923.27,633.91" fill="#dcdcdc"/>
</g>
<polyline points="914.8,605.65 915.14,621.35 918.19,637.05 944.61,652.75 908.36,668.45 871.79,684.15 827.75,699.85 841.3,715.55 896.17,731.25 893.12,746.95 892.45,762.65 897.53,778.35 887.03,794.05 863.66,809.75 912.77,825.45 899.22,841.15 958.83,856.85 944.61,872.55 929.36,888.25 916.83,903.95 924.96,919.65 974.07,935.35 934.11,951.05 913.45,966.75 917.51,982.45 903.62,998.15 911.41,1013.85 915.82,1029.55 959.85,1045.25 968.31,1060.95" fill="none" stroke="#c8474b" stroke-width="4.1" stroke-linejoin="round" stroke-linecap="round"/>
<polyline points="914.8,605.65 829.79,621.35 888.72,637.05 947.65,652.75 911.41,668.45 871.79,684.15 876.87,699.85 828.77,715.55 869.75,731.25 858.24,746.95 914.8,762.65 923.27,778.35 914.8,794.05 883.98,809.75 874.83,825.45 862.64,841.15 946.3,856.85 955.44,872.55 906.67,888.25 942.57,903.95 911.41,919.65 1006.25,935.35 926.32,951.05 900.57,966.75 882.28,982.45 865.69,998.15 912.77,1013.85 868.74,1029.55 953.75,1045.25 914.8,1060.95" fill="none" stroke="#5b62a8" stroke-width="4.1" stroke-linejoin="round" stroke-linecap="round"/>
<line x1="914.8" y1="599.8" x2="914.8" y2="1084.1" stroke="#000" stroke-width="1.6" stroke-dasharray="4.6 3.0"/>
<rect x="779.4" y="597.8" width="338.8" height="486.3" fill="none" stroke="#000" stroke-width="1.5"/>
<line x1="1118.2" y1="692" x2="1110.2" y2="692" stroke="#000" stroke-width="1.3"/>
<text x="1129.3" y="697.6" font-size="19">60</text>
<line x1="1118.2" y1="786.2" x2="1110.2" y2="786.2" stroke="#000" stroke-width="1.3"/>
<text x="1129.3" y="791.8" font-size="19">30</text>
<line x1="1118.2" y1="880.4" x2="1110.2" y2="880.4" stroke="#000" stroke-width="1.3"/>
<text x="1129.3" y="886" font-size="19">0</text>
<line x1="1118.2" y1="974.6" x2="1110.2" y2="974.6" stroke="#000" stroke-width="1.3"/>
<text x="1129.3" y="980.2" font-size="19">-30</text>
<line x1="1118.2" y1="1068.8" x2="1110.2" y2="1068.8" stroke="#000" stroke-width="1.3"/>
<text x="1129.3" y="1074.4" font-size="19">-60</text>
<text x="1129.3" y="603.1" font-size="19">90</text>
<line x1="847.06" y1="1084.1" x2="847.06" y2="1076.1" stroke="#000" stroke-width="1.3"/>
<line x1="914.8" y1="1084.1" x2="914.8" y2="1076.1" stroke="#000" stroke-width="1.3"/>
<line x1="982.54" y1="1084.1" x2="982.54" y2="1076.1" stroke="#000" stroke-width="1.3"/>
<line x1="1050.28" y1="1084.1" x2="1050.28" y2="1076.1" stroke="#000" stroke-width="1.3"/>
<text x="778.92" y="1108.9" font-size="19" text-anchor="middle">-4</text>
<text x="846.66" y="1108.9" font-size="19" text-anchor="middle">-2</text>
<text x="914.8" y="1108.9" font-size="19" text-anchor="middle">0</text>
<text x="982.54" y="1108.9" font-size="19" text-anchor="middle">2</text>
<text x="1050.28" y="1108.9" font-size="19" text-anchor="middle">4</text>
<text x="1118.02" y="1108.9" font-size="19" text-anchor="middle">6</text>
<text x="1175.8" y="840.8" font-size="21.6" text-anchor="middle" transform="rotate(-90 1175.8 840.8)">Lat (°)</text>
<text x="948.5" y="1142.6" font-size="21.6" text-anchor="middle">Change (gC m<tspan font-size="13.3" dy="-10.5">-2</tspan><tspan dy="10.5">​</tspan> ppm<tspan font-size="13.3" dy="-10.5">-1</tspan><tspan dy="10.5">​</tspan>)</text>
<rect x="940" y="560" width="160.8" height="54.4" fill="#000"/>
<rect x="935.6" y="561.3" width="160.7" height="58.4" fill="#fff"/>
<path d="M935.6 619.7 L935.6 561.3 L1096.3 561.3 L1096.3 619.7" fill="none" stroke="#222" stroke-width="1.1"/>
<line x1="938.5" y1="574.6" x2="981" y2="574.6" stroke="#c8474b" stroke-width="4.2" stroke-linecap="round"/>
<line x1="938.5" y1="601.1" x2="981" y2="601.1" stroke="#5b62a8" stroke-width="4.2" stroke-linecap="round"/>
<text x="987.5" y="580.4" font-size="18.8">eCO<tspan font-size="12" dy="4.5">2</tspan><tspan dy="-4.5">​</tspan>(ind)</text>
<text x="987.5" y="607.3" font-size="18.8">eCO<tspan font-size="12" dy="4.5">2</tspan><tspan dy="-4.5">​</tspan>(ind)<tspan font-size="10.5" dy="6.5">obs</tspan><tspan dy="-6.5">​</tspan></text>
</g>
</svg>
</body></html>
